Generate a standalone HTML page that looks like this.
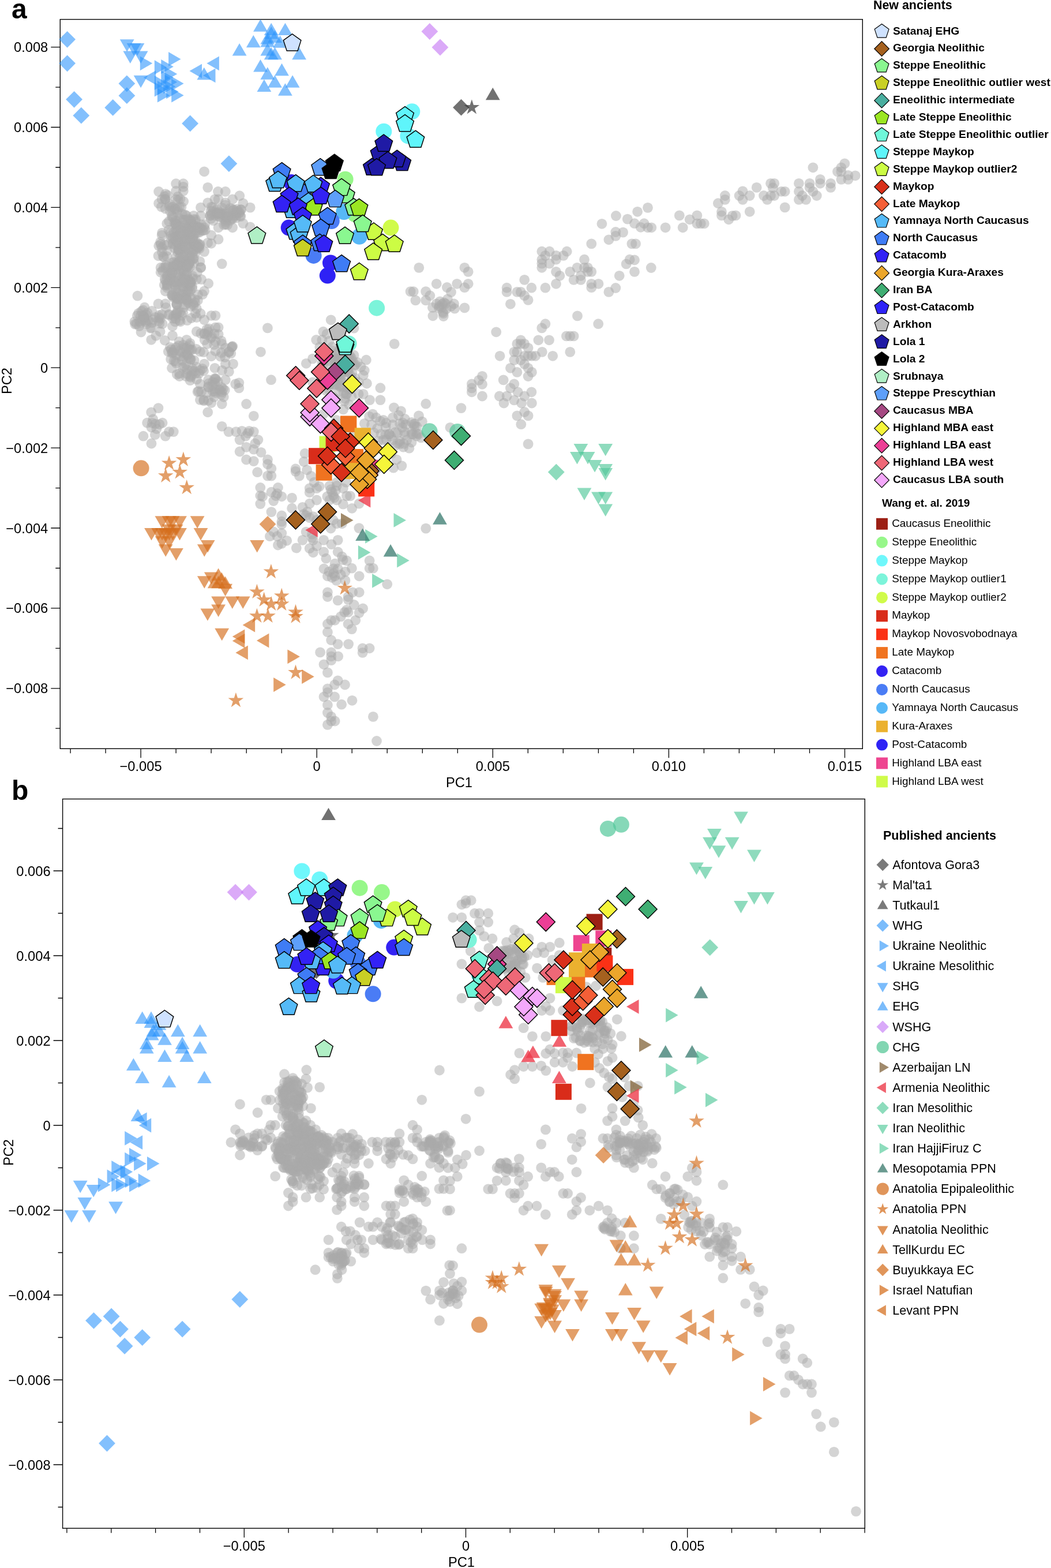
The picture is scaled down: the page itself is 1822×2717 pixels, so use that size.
<!DOCTYPE html>
<html lang="en"><head><meta charset="utf-8"><title>PCA of ancient individuals</title>
<style>html,body{margin:0;padding:0;background:#fff}body{width:1822px;height:2717px;overflow:hidden}svg{display:block}text{font-family:'Liberation Sans', Arial, Helvetica, sans-serif;fill:#000}.tk{font-size:23.7px}</style></head><body>
<svg width="1822" height="2717" viewBox="0 0 1822 2717">
<rect width="1822" height="2717" fill="#fff"/>
<g id="plot-a">
<rect x="104.3" y="33.6" width="1391" height="1263.7" fill="none" stroke="#000" stroke-width="1.4"/>
<path d="M122.1 1297.3v8M183.1 1297.3v8M244.1 1297.3v16M305.1 1297.3v8M366.1 1297.3v8M427.2 1297.3v8M488.2 1297.3v8M549.2 1297.3v16M610.2 1297.3v8M671.2 1297.3v8M732.3 1297.3v8M793.3 1297.3v8M854.3 1297.3v16M915.3 1297.3v8M976.3 1297.3v8M1037.4 1297.3v8M1098.4 1297.3v8M1159.4 1297.3v16M1220.4 1297.3v8M1281.4 1297.3v8M1342.5 1297.3v8M1403.5 1297.3v8M1464.5 1297.3v16M104.3 1262.2h-8M104.3 1192.8h-16M104.3 1123.4h-8M104.3 1053.9h-16M104.3 984.5h-8M104.3 915h-16M104.3 845.6h-8M104.3 776.1h-16M104.3 706.7h-8M104.3 637.2h-16M104.3 567.8h-8M104.3 498.3h-16M104.3 428.9h-8M104.3 359.4h-16M104.3 290h-8M104.3 220.5h-16M104.3 151.1h-8M104.3 81.6h-16" stroke="#000" stroke-width="1.3" fill="none"/>
<text x="244.1" y="1335.8" text-anchor="middle" class="tk">−0.005</text>
<text x="549.2" y="1335.8" text-anchor="middle" class="tk">0</text>
<text x="854.3" y="1335.8" text-anchor="middle" class="tk">0.005</text>
<text x="1159.4" y="1335.8" text-anchor="middle" class="tk">0.010</text>
<text x="1464.5" y="1335.8" text-anchor="middle" class="tk">0.015</text>
<text x="83.3" y="1201.3" text-anchor="end" class="tk">−0.008</text>
<text x="83.3" y="1062.4" text-anchor="end" class="tk">−0.006</text>
<text x="83.3" y="923.5" text-anchor="end" class="tk">−0.004</text>
<text x="83.3" y="784.6" text-anchor="end" class="tk">−0.002</text>
<text x="83.3" y="645.7" text-anchor="end" class="tk">0</text>
<text x="83.3" y="506.8" text-anchor="end" class="tk">0.002</text>
<text x="83.3" y="367.9" text-anchor="end" class="tk">0.004</text>
<text x="83.3" y="229" text-anchor="end" class="tk">0.006</text>
<text x="83.3" y="90.1" text-anchor="end" class="tk">0.008</text>
<text x="796" y="1364" text-anchor="middle" class="tk">PC1</text>
<text transform="translate(20 660) rotate(-90)" text-anchor="middle" class="tk">PC2</text>
<g fill="#a9a9a9" fill-opacity="0.5">
<circle cx="726.3" cy="463.9" r="8.9"/>
<circle cx="756.7" cy="491.8" r="8.9"/>
<circle cx="774.9" cy="498" r="8.9"/>
<circle cx="792.2" cy="491.8" r="8.9"/>
<circle cx="782" cy="506.1" r="8.9"/>
<circle cx="716.7" cy="505.1" r="8.9"/>
<circle cx="711.6" cy="505.1" r="8.9"/>
<circle cx="738.2" cy="505.1" r="8.9"/>
<circle cx="745.3" cy="512.2" r="8.9"/>
<circle cx="738.2" cy="520.4" r="8.9"/>
<circle cx="720.4" cy="520.4" r="8.9"/>
<circle cx="756.5" cy="526.5" r="8.9"/>
<circle cx="762.7" cy="522.4" r="8.9"/>
<circle cx="769.8" cy="524.5" r="8.9"/>
<circle cx="787.1" cy="526.5" r="8.9"/>
<circle cx="765.7" cy="532.7" r="8.9"/>
<circle cx="767.8" cy="540.8" r="8.9"/>
<circle cx="750.4" cy="547.3" r="8.9"/>
<circle cx="768.8" cy="548" r="8.9"/>
<circle cx="788.2" cy="534.7" r="8.9"/>
<circle cx="775.9" cy="518.4" r="8.9"/>
<circle cx="761.6" cy="530.6" r="8.9"/>
<circle cx="782" cy="530.6" r="8.9"/>
<circle cx="683.7" cy="595.9" r="8.9"/>
<circle cx="1105.1" cy="366.8" r="8.9"/>
<circle cx="1123" cy="359.9" r="8.9"/>
<circle cx="1100" cy="387.2" r="8.9"/>
<circle cx="1110.7" cy="393.8" r="8.9"/>
<circle cx="1116.6" cy="387.2" r="8.9"/>
<circle cx="1123" cy="394.3" r="8.9"/>
<circle cx="1129.3" cy="394.3" r="8.9"/>
<circle cx="1102" cy="422.4" r="8.9"/>
<circle cx="1100" cy="450.5" r="8.9"/>
<circle cx="1100" cy="470.9" r="8.9"/>
<circle cx="1128.8" cy="464" r="8.9"/>
<circle cx="1153.6" cy="394.3" r="8.9"/>
<circle cx="1177.8" cy="373.4" r="8.9"/>
<circle cx="1183.7" cy="394.3" r="8.9"/>
<circle cx="1195.7" cy="380.3" r="8.9"/>
<circle cx="1208.4" cy="373.4" r="8.9"/>
<circle cx="1208.4" cy="387.4" r="8.9"/>
<circle cx="1214.8" cy="387.4" r="8.9"/>
<circle cx="1220.7" cy="387.4" r="8.9"/>
<circle cx="1244.9" cy="352.2" r="8.9"/>
<circle cx="1251" cy="366.8" r="8.9"/>
<circle cx="1251" cy="373.4" r="8.9"/>
<circle cx="1256.9" cy="339" r="8.9"/>
<circle cx="1256.9" cy="345.9" r="8.9"/>
<circle cx="1263.3" cy="380.3" r="8.9"/>
<circle cx="1269.6" cy="373.9" r="8.9"/>
<circle cx="1275.5" cy="373.4" r="8.9"/>
<circle cx="1281.6" cy="339" r="8.9"/>
<circle cx="1287.5" cy="331.3" r="8.9"/>
<circle cx="1287.5" cy="345.9" r="8.9"/>
<circle cx="1299.7" cy="339" r="8.9"/>
<circle cx="1299.7" cy="366.8" r="8.9"/>
<circle cx="1311.7" cy="324.9" r="8.9"/>
<circle cx="1324" cy="339" r="8.9"/>
<circle cx="1330.1" cy="345.9" r="8.9"/>
<circle cx="1336" cy="317.8" r="8.9"/>
<circle cx="1336" cy="339" r="8.9"/>
<circle cx="1342.3" cy="317.8" r="8.9"/>
<circle cx="1342.3" cy="339" r="8.9"/>
<circle cx="1339.8" cy="325.5" r="8.9"/>
<circle cx="1354.6" cy="331.8" r="8.9"/>
<circle cx="1360.7" cy="331.8" r="8.9"/>
<circle cx="1360.7" cy="359.4" r="8.9"/>
<circle cx="1384.9" cy="317.8" r="8.9"/>
<circle cx="1384.9" cy="331.8" r="8.9"/>
<circle cx="1384.9" cy="345.9" r="8.9"/>
<circle cx="1390.8" cy="339" r="8.9"/>
<circle cx="1397.2" cy="345.9" r="8.9"/>
<circle cx="1403.6" cy="317.8" r="8.9"/>
<circle cx="1403.6" cy="324.9" r="8.9"/>
<circle cx="1409.4" cy="331.8" r="8.9"/>
<circle cx="1415.8" cy="339" r="8.9"/>
<circle cx="1409.4" cy="290.3" r="8.9"/>
<circle cx="1421.9" cy="310.9" r="8.9"/>
<circle cx="1421.9" cy="317.8" r="8.9"/>
<circle cx="1440.1" cy="317.8" r="8.9"/>
<circle cx="1440.1" cy="324.9" r="8.9"/>
<circle cx="1452" cy="297.4" r="8.9"/>
<circle cx="1458.4" cy="290.3" r="8.9"/>
<circle cx="1458.4" cy="297.4" r="8.9"/>
<circle cx="1458.4" cy="310.9" r="8.9"/>
<circle cx="1464.3" cy="283.4" r="8.9"/>
<circle cx="1470.4" cy="303.8" r="8.9"/>
<circle cx="1470.4" cy="310.9" r="8.9"/>
<circle cx="1482.7" cy="304.3" r="8.9"/>
<circle cx="805.4" cy="463.8" r="8.9"/>
<circle cx="811.7" cy="470.9" r="8.9"/>
<circle cx="811.7" cy="491.8" r="8.9"/>
<circle cx="805.4" cy="498.2" r="8.9"/>
<circle cx="805.4" cy="533.4" r="8.9"/>
<circle cx="1025.3" cy="422.4" r="8.9"/>
<circle cx="1055.4" cy="415.3" r="8.9"/>
<circle cx="1067.3" cy="408.9" r="8.9"/>
<circle cx="1080.1" cy="402.6" r="8.9"/>
<circle cx="1067.3" cy="402" r="8.9"/>
<circle cx="1095.4" cy="422.4" r="8.9"/>
<circle cx="939.3" cy="435.7" r="8.9"/>
<circle cx="952.6" cy="435.7" r="8.9"/>
<circle cx="945.4" cy="442.9" r="8.9"/>
<circle cx="939.3" cy="449.7" r="8.9"/>
<circle cx="939.3" cy="456.6" r="8.9"/>
<circle cx="939.3" cy="463.8" r="8.9"/>
<circle cx="952.6" cy="456.6" r="8.9"/>
<circle cx="964" cy="442.9" r="8.9"/>
<circle cx="964" cy="449.7" r="8.9"/>
<circle cx="976.8" cy="442.9" r="8.9"/>
<circle cx="982.7" cy="435.7" r="8.9"/>
<circle cx="964" cy="470.9" r="8.9"/>
<circle cx="970.4" cy="477.8" r="8.9"/>
<circle cx="964" cy="491.8" r="8.9"/>
<circle cx="945.4" cy="498.7" r="8.9"/>
<circle cx="988.3" cy="470.9" r="8.9"/>
<circle cx="1000.5" cy="463.8" r="8.9"/>
<circle cx="994.6" cy="484.9" r="8.9"/>
<circle cx="1006.9" cy="477.8" r="8.9"/>
<circle cx="1006.9" cy="484.9" r="8.9"/>
<circle cx="1013" cy="449.7" r="8.9"/>
<circle cx="1013" cy="463.8" r="8.9"/>
<circle cx="1018.9" cy="463.8" r="8.9"/>
<circle cx="1018.9" cy="470.9" r="8.9"/>
<circle cx="1025.3" cy="470.9" r="8.9"/>
<circle cx="1025.3" cy="491.8" r="8.9"/>
<circle cx="1025.3" cy="498.2" r="8.9"/>
<circle cx="1037.5" cy="491.8" r="8.9"/>
<circle cx="1055.4" cy="505.9" r="8.9"/>
<circle cx="1067.3" cy="499" r="8.9"/>
<circle cx="1073.7" cy="477.8" r="8.9"/>
<circle cx="1085.7" cy="457.4" r="8.9"/>
<circle cx="1091.6" cy="449.7" r="8.9"/>
<circle cx="909.2" cy="484.9" r="8.9"/>
<circle cx="921.4" cy="498.7" r="8.9"/>
<circle cx="878.6" cy="498.7" r="8.9"/>
<circle cx="878.6" cy="505.9" r="8.9"/>
<circle cx="896.4" cy="505.9" r="8.9"/>
<circle cx="902.8" cy="505.9" r="8.9"/>
<circle cx="909.2" cy="512.2" r="8.9"/>
<circle cx="915.6" cy="519.9" r="8.9"/>
<circle cx="884.9" cy="526.8" r="8.9"/>
<circle cx="1001" cy="547.4" r="8.9"/>
<circle cx="1037.2" cy="561.2" r="8.9"/>
<circle cx="945.4" cy="561.2" r="8.9"/>
<circle cx="939.3" cy="568.4" r="8.9"/>
<circle cx="860.2" cy="575.3" r="8.9"/>
<circle cx="981.9" cy="582.4" r="8.9"/>
<circle cx="988.3" cy="582.4" r="8.9"/>
<circle cx="994.6" cy="582.4" r="8.9"/>
<circle cx="933.4" cy="589.3" r="8.9"/>
<circle cx="952" cy="589.3" r="8.9"/>
<circle cx="988.3" cy="609.9" r="8.9"/>
<circle cx="939.8" cy="609.9" r="8.9"/>
<circle cx="958.2" cy="616.8" r="8.9"/>
<circle cx="902.8" cy="589.3" r="8.9"/>
<circle cx="896.4" cy="595.9" r="8.9"/>
<circle cx="902.8" cy="595.9" r="8.9"/>
<circle cx="909.2" cy="595.9" r="8.9"/>
<circle cx="915.6" cy="602.8" r="8.9"/>
<circle cx="891.3" cy="609.9" r="8.9"/>
<circle cx="896.4" cy="609.9" r="8.9"/>
<circle cx="909.2" cy="616.8" r="8.9"/>
<circle cx="915.6" cy="616.8" r="8.9"/>
<circle cx="921.9" cy="616.8" r="8.9"/>
<circle cx="928.3" cy="616.8" r="8.9"/>
<circle cx="891.3" cy="624" r="8.9"/>
<circle cx="902.8" cy="624" r="8.9"/>
<circle cx="909.2" cy="630.9" r="8.9"/>
<circle cx="884.9" cy="637.8" r="8.9"/>
<circle cx="896.4" cy="644.9" r="8.9"/>
<circle cx="915.6" cy="637.8" r="8.9"/>
<circle cx="921.9" cy="644.9" r="8.9"/>
<circle cx="915.6" cy="652" r="8.9"/>
<circle cx="866.6" cy="616.8" r="8.9"/>
<circle cx="836" cy="651.8" r="8.9"/>
<circle cx="830.1" cy="658.9" r="8.9"/>
<circle cx="817.9" cy="665.3" r="8.9"/>
<circle cx="817.9" cy="672.4" r="8.9"/>
<circle cx="836" cy="665.8" r="8.9"/>
<circle cx="817.9" cy="679.3" r="8.9"/>
<circle cx="836" cy="686.5" r="8.9"/>
<circle cx="738.3" cy="699.7" r="8.9"/>
<circle cx="872.7" cy="658.4" r="8.9"/>
<circle cx="891.3" cy="665.3" r="8.9"/>
<circle cx="884.9" cy="672.4" r="8.9"/>
<circle cx="897.7" cy="679.3" r="8.9"/>
<circle cx="865.8" cy="686.5" r="8.9"/>
<circle cx="878.6" cy="686.5" r="8.9"/>
<circle cx="921.4" cy="679.3" r="8.9"/>
<circle cx="909.2" cy="686.5" r="8.9"/>
<circle cx="891.3" cy="693.4" r="8.9"/>
<circle cx="921.9" cy="698.5" r="8.9"/>
<circle cx="873.5" cy="698.5" r="8.9"/>
<circle cx="904.1" cy="698.5" r="8.9"/>
<circle cx="799.5" cy="707.1" r="8.9"/>
<circle cx="896.4" cy="720.4" r="8.9"/>
<circle cx="915.6" cy="720.4" r="8.9"/>
<circle cx="909.2" cy="714" r="8.9"/>
<circle cx="903.3" cy="735.2" r="8.9"/>
<circle cx="915.6" cy="769.4" r="8.9"/>
<circle cx="726" cy="720.4" r="8.9"/>
<circle cx="780.4" cy="740.8" r="8.9"/>
<circle cx="719.1" cy="734.4" r="8.9"/>
<circle cx="731.9" cy="730.6" r="8.9"/>
<circle cx="738.3" cy="915.6" r="8.9"/>
<circle cx="354.1" cy="297.3" r="8.9"/>
<circle cx="305.1" cy="318.2" r="8.9"/>
<circle cx="317.8" cy="318.2" r="8.9"/>
<circle cx="317.8" cy="323.9" r="8.9"/>
<circle cx="305.1" cy="331" r="8.9"/>
<circle cx="317.8" cy="331" r="8.9"/>
<circle cx="275.1" cy="332" r="8.9"/>
<circle cx="360.2" cy="324.9" r="8.9"/>
<circle cx="378" cy="332" r="8.9"/>
<circle cx="390.8" cy="332" r="8.9"/>
<circle cx="275.1" cy="352.4" r="8.9"/>
<circle cx="280.6" cy="345.3" r="8.9"/>
<circle cx="286.7" cy="345.3" r="8.9"/>
<circle cx="305.1" cy="345.3" r="8.9"/>
<circle cx="299" cy="358.6" r="8.9"/>
<circle cx="311.2" cy="358.6" r="8.9"/>
<circle cx="286.7" cy="361.6" r="8.9"/>
<circle cx="299" cy="373.9" r="8.9"/>
<circle cx="415.3" cy="339.2" r="8.9"/>
<circle cx="403.1" cy="345.3" r="8.9"/>
<circle cx="372.4" cy="345.3" r="8.9"/>
<circle cx="378.6" cy="345.3" r="8.9"/>
<circle cx="360.2" cy="351.4" r="8.9"/>
<circle cx="390.8" cy="351.4" r="8.9"/>
<circle cx="421.4" cy="352.4" r="8.9"/>
<circle cx="433.7" cy="359.6" r="8.9"/>
<circle cx="348" cy="359.6" r="8.9"/>
<circle cx="366.3" cy="358.6" r="8.9"/>
<circle cx="421.4" cy="387.1" r="8.9"/>
<circle cx="433.7" cy="393.3" r="8.9"/>
<circle cx="403.1" cy="394.3" r="8.9"/>
<circle cx="378.6" cy="394.3" r="8.9"/>
<circle cx="416.3" cy="373.9" r="8.9"/>
<circle cx="323.5" cy="373.9" r="8.9"/>
<circle cx="335.7" cy="373.9" r="8.9"/>
<circle cx="348" cy="373.9" r="8.9"/>
<circle cx="317.3" cy="381" r="8.9"/>
<circle cx="329.6" cy="381" r="8.9"/>
<circle cx="354.1" cy="394.3" r="8.9"/>
<circle cx="366.3" cy="407.6" r="8.9"/>
<circle cx="378.6" cy="414.7" r="8.9"/>
<circle cx="360.2" cy="420.8" r="8.9"/>
<circle cx="366.3" cy="421.8" r="8.9"/>
<circle cx="354.1" cy="436.1" r="8.9"/>
<circle cx="384.7" cy="457.1" r="8.9"/>
<circle cx="348" cy="463.7" r="8.9"/>
<circle cx="280.6" cy="407.6" r="8.9"/>
<circle cx="274.5" cy="443.3" r="8.9"/>
<circle cx="280.6" cy="429" r="8.9"/>
<circle cx="278.6" cy="463.7" r="8.9"/>
<circle cx="278.6" cy="471.8" r="8.9"/>
<circle cx="286.7" cy="486.1" r="8.9"/>
<circle cx="286.7" cy="504.5" r="8.9"/>
<circle cx="238.4" cy="512.7" r="8.9"/>
<circle cx="340.8" cy="484.1" r="8.9"/>
<circle cx="349" cy="484.1" r="8.9"/>
<circle cx="361.2" cy="491.2" r="8.9"/>
<circle cx="354.1" cy="504.5" r="8.9"/>
<circle cx="342.9" cy="510.6" r="8.9"/>
<circle cx="405.4" cy="363.3" r="8.9"/>
<circle cx="390.6" cy="370.1" r="8.9"/>
<circle cx="399.2" cy="381.9" r="8.9"/>
<circle cx="409.3" cy="369.5" r="8.9"/>
<circle cx="387.8" cy="379.5" r="8.9"/>
<circle cx="364.7" cy="373.3" r="8.9"/>
<circle cx="415" cy="367.7" r="8.9"/>
<circle cx="375.2" cy="369.1" r="8.9"/>
<circle cx="387.4" cy="371.7" r="8.9"/>
<circle cx="376.1" cy="362.5" r="8.9"/>
<circle cx="375.3" cy="370.4" r="8.9"/>
<circle cx="409.4" cy="373.8" r="8.9"/>
<circle cx="398.7" cy="360.9" r="8.9"/>
<circle cx="369.9" cy="366" r="8.9"/>
<circle cx="403" cy="379.2" r="8.9"/>
<circle cx="414.9" cy="369.1" r="8.9"/>
<circle cx="409" cy="377.7" r="8.9"/>
<circle cx="380" cy="374.9" r="8.9"/>
<circle cx="391.1" cy="374.9" r="8.9"/>
<circle cx="407.2" cy="368.9" r="8.9"/>
<circle cx="372.8" cy="373.5" r="8.9"/>
<circle cx="402" cy="377.9" r="8.9"/>
<circle cx="383.9" cy="369.7" r="8.9"/>
<circle cx="391.3" cy="381.5" r="8.9"/>
<circle cx="392" cy="368.1" r="8.9"/>
<circle cx="390.2" cy="355.5" r="8.9"/>
<circle cx="365.7" cy="378.9" r="8.9"/>
<circle cx="417.4" cy="375.1" r="8.9"/>
<circle cx="385" cy="360.4" r="8.9"/>
<circle cx="390.9" cy="388.6" r="8.9"/>
<circle cx="405.7" cy="373.2" r="8.9"/>
<circle cx="410.7" cy="362.5" r="8.9"/>
<circle cx="302.9" cy="361.3" r="8.9"/>
<circle cx="314.5" cy="358.6" r="8.9"/>
<circle cx="304.3" cy="362.1" r="8.9"/>
<circle cx="296.4" cy="359.9" r="8.9"/>
<circle cx="307.3" cy="368" r="8.9"/>
<circle cx="294.1" cy="354" r="8.9"/>
<circle cx="308.8" cy="346.5" r="8.9"/>
<circle cx="307.9" cy="362.9" r="8.9"/>
<circle cx="345" cy="393.9" r="8.9"/>
<circle cx="338.9" cy="383.5" r="8.9"/>
<circle cx="336.5" cy="390.8" r="8.9"/>
<circle cx="335.6" cy="379.8" r="8.9"/>
<circle cx="330.1" cy="385.6" r="8.9"/>
<circle cx="349.2" cy="389.2" r="8.9"/>
<circle cx="330.6" cy="382.5" r="8.9"/>
<circle cx="331.4" cy="383.7" r="8.9"/>
<circle cx="328.2" cy="397.8" r="8.9"/>
<circle cx="333.6" cy="389.6" r="8.9"/>
<circle cx="326.2" cy="379.3" r="8.9"/>
<circle cx="333" cy="400.4" r="8.9"/>
<circle cx="339.1" cy="380.4" r="8.9"/>
<circle cx="347.1" cy="395.4" r="8.9"/>
<circle cx="341.3" cy="398.1" r="8.9"/>
<circle cx="342.3" cy="395.3" r="8.9"/>
<circle cx="342" cy="393.4" r="8.9"/>
<circle cx="331.2" cy="388.9" r="8.9"/>
<circle cx="350.4" cy="399.5" r="8.9"/>
<circle cx="355.1" cy="389" r="8.9"/>
<circle cx="345.5" cy="402.7" r="8.9"/>
<circle cx="355.7" cy="398.4" r="8.9"/>
<circle cx="352.4" cy="399.6" r="8.9"/>
<circle cx="342.3" cy="395.1" r="8.9"/>
<circle cx="340.6" cy="400.1" r="8.9"/>
<circle cx="347" cy="394.4" r="8.9"/>
<circle cx="302.4" cy="429.8" r="8.9"/>
<circle cx="309.9" cy="433.7" r="8.9"/>
<circle cx="324.5" cy="398.6" r="8.9"/>
<circle cx="303.6" cy="409.6" r="8.9"/>
<circle cx="345.7" cy="425" r="8.9"/>
<circle cx="336.6" cy="425.4" r="8.9"/>
<circle cx="325.3" cy="404.1" r="8.9"/>
<circle cx="325.1" cy="451" r="8.9"/>
<circle cx="318.7" cy="442.7" r="8.9"/>
<circle cx="327.1" cy="398.5" r="8.9"/>
<circle cx="332.1" cy="432.9" r="8.9"/>
<circle cx="338.2" cy="425.2" r="8.9"/>
<circle cx="329.9" cy="451.7" r="8.9"/>
<circle cx="329.6" cy="454.4" r="8.9"/>
<circle cx="311.3" cy="446.6" r="8.9"/>
<circle cx="314.2" cy="455.4" r="8.9"/>
<circle cx="296.5" cy="408.5" r="8.9"/>
<circle cx="343.9" cy="422.8" r="8.9"/>
<circle cx="324.6" cy="413.9" r="8.9"/>
<circle cx="317.8" cy="419.5" r="8.9"/>
<circle cx="308.8" cy="432.5" r="8.9"/>
<circle cx="322.2" cy="453.3" r="8.9"/>
<circle cx="327.7" cy="455" r="8.9"/>
<circle cx="327.1" cy="404.9" r="8.9"/>
<circle cx="340.5" cy="431.5" r="8.9"/>
<circle cx="329.6" cy="408.1" r="8.9"/>
<circle cx="336.3" cy="431.7" r="8.9"/>
<circle cx="305.1" cy="398.4" r="8.9"/>
<circle cx="312.2" cy="404.1" r="8.9"/>
<circle cx="305.6" cy="444.5" r="8.9"/>
<circle cx="323.9" cy="397.2" r="8.9"/>
<circle cx="329.8" cy="415.9" r="8.9"/>
<circle cx="317.7" cy="459.5" r="8.9"/>
<circle cx="306.5" cy="399.3" r="8.9"/>
<circle cx="323" cy="396.3" r="8.9"/>
<circle cx="300.1" cy="420.9" r="8.9"/>
<circle cx="323.7" cy="404.5" r="8.9"/>
<circle cx="306.7" cy="456.9" r="8.9"/>
<circle cx="340" cy="419" r="8.9"/>
<circle cx="315.1" cy="428.2" r="8.9"/>
<circle cx="325.6" cy="433.2" r="8.9"/>
<circle cx="320.7" cy="434.8" r="8.9"/>
<circle cx="342.5" cy="427.4" r="8.9"/>
<circle cx="313.4" cy="441.3" r="8.9"/>
<circle cx="302.4" cy="413.9" r="8.9"/>
<circle cx="344.6" cy="428.3" r="8.9"/>
<circle cx="320.1" cy="395" r="8.9"/>
<circle cx="312.5" cy="432.2" r="8.9"/>
<circle cx="289.9" cy="434.5" r="8.9"/>
<circle cx="324.9" cy="398.2" r="8.9"/>
<circle cx="324.6" cy="424.7" r="8.9"/>
<circle cx="327.6" cy="417.3" r="8.9"/>
<circle cx="329.2" cy="442.5" r="8.9"/>
<circle cx="327.4" cy="457.2" r="8.9"/>
<circle cx="303.1" cy="424.1" r="8.9"/>
<circle cx="322.6" cy="415.2" r="8.9"/>
<circle cx="309.6" cy="414.7" r="8.9"/>
<circle cx="309.9" cy="433.2" r="8.9"/>
<circle cx="305.9" cy="418.9" r="8.9"/>
<circle cx="321.3" cy="442.3" r="8.9"/>
<circle cx="306.5" cy="408.8" r="8.9"/>
<circle cx="334.7" cy="409.9" r="8.9"/>
<circle cx="299.5" cy="422.7" r="8.9"/>
<circle cx="328.7" cy="400.9" r="8.9"/>
<circle cx="307.2" cy="416.1" r="8.9"/>
<circle cx="336.4" cy="422.9" r="8.9"/>
<circle cx="337.7" cy="405.3" r="8.9"/>
<circle cx="308" cy="436.7" r="8.9"/>
<circle cx="339.3" cy="423.7" r="8.9"/>
<circle cx="301.6" cy="402.2" r="8.9"/>
<circle cx="319" cy="406.7" r="8.9"/>
<circle cx="334.9" cy="449" r="8.9"/>
<circle cx="299.3" cy="412.5" r="8.9"/>
<circle cx="334.9" cy="436.2" r="8.9"/>
<circle cx="334.8" cy="416.8" r="8.9"/>
<circle cx="296.2" cy="413.4" r="8.9"/>
<circle cx="334.1" cy="412" r="8.9"/>
<circle cx="308.6" cy="421.5" r="8.9"/>
<circle cx="312.8" cy="421" r="8.9"/>
<circle cx="313.6" cy="456.3" r="8.9"/>
<circle cx="298.8" cy="454.9" r="8.9"/>
<circle cx="306.3" cy="458.7" r="8.9"/>
<circle cx="290.9" cy="476.9" r="8.9"/>
<circle cx="323.7" cy="463.7" r="8.9"/>
<circle cx="312.9" cy="467.7" r="8.9"/>
<circle cx="326.7" cy="506.6" r="8.9"/>
<circle cx="325.3" cy="461.6" r="8.9"/>
<circle cx="302.3" cy="493.4" r="8.9"/>
<circle cx="322.1" cy="510.1" r="8.9"/>
<circle cx="316.2" cy="496.7" r="8.9"/>
<circle cx="311.5" cy="460.4" r="8.9"/>
<circle cx="310" cy="453.9" r="8.9"/>
<circle cx="313.5" cy="469.4" r="8.9"/>
<circle cx="330.4" cy="489.4" r="8.9"/>
<circle cx="311.6" cy="477.8" r="8.9"/>
<circle cx="315.9" cy="479" r="8.9"/>
<circle cx="295.3" cy="469.8" r="8.9"/>
<circle cx="289.9" cy="493.4" r="8.9"/>
<circle cx="300.9" cy="486.6" r="8.9"/>
<circle cx="309.9" cy="472.5" r="8.9"/>
<circle cx="307.1" cy="462.2" r="8.9"/>
<circle cx="317.5" cy="467.6" r="8.9"/>
<circle cx="304.5" cy="502.2" r="8.9"/>
<circle cx="302.8" cy="488.4" r="8.9"/>
<circle cx="323.7" cy="492.6" r="8.9"/>
<circle cx="298.9" cy="471.7" r="8.9"/>
<circle cx="296.1" cy="481.1" r="8.9"/>
<circle cx="289.8" cy="498.6" r="8.9"/>
<circle cx="307" cy="516.7" r="8.9"/>
<circle cx="316.9" cy="507.4" r="8.9"/>
<circle cx="301.5" cy="461.4" r="8.9"/>
<circle cx="308.6" cy="457.4" r="8.9"/>
<circle cx="305.7" cy="518" r="8.9"/>
<circle cx="324.5" cy="474" r="8.9"/>
<circle cx="301.4" cy="454.5" r="8.9"/>
<circle cx="333.8" cy="478.5" r="8.9"/>
<circle cx="319.5" cy="458.3" r="8.9"/>
<circle cx="289.7" cy="483.4" r="8.9"/>
<circle cx="293.5" cy="486.2" r="8.9"/>
<circle cx="324.1" cy="477.4" r="8.9"/>
<circle cx="334.1" cy="482.4" r="8.9"/>
<circle cx="299.1" cy="477.5" r="8.9"/>
<circle cx="289.5" cy="478.3" r="8.9"/>
<circle cx="299.4" cy="512.7" r="8.9"/>
<circle cx="326.8" cy="484" r="8.9"/>
<circle cx="299.1" cy="462.6" r="8.9"/>
<circle cx="298.6" cy="511.2" r="8.9"/>
<circle cx="331.3" cy="488.9" r="8.9"/>
<circle cx="330" cy="495.4" r="8.9"/>
<circle cx="324.9" cy="502.1" r="8.9"/>
<circle cx="311" cy="454.2" r="8.9"/>
<circle cx="297.7" cy="511.5" r="8.9"/>
<circle cx="303.6" cy="495.6" r="8.9"/>
<circle cx="325.3" cy="494.6" r="8.9"/>
<circle cx="326" cy="486.1" r="8.9"/>
<circle cx="318.5" cy="497.7" r="8.9"/>
<circle cx="300.3" cy="515.1" r="8.9"/>
<circle cx="319.1" cy="450.6" r="8.9"/>
<circle cx="333.2" cy="496.4" r="8.9"/>
<circle cx="317.6" cy="489.2" r="8.9"/>
<circle cx="322.8" cy="515.5" r="8.9"/>
<circle cx="325.8" cy="504.9" r="8.9"/>
<circle cx="329" cy="487.8" r="8.9"/>
<circle cx="329" cy="462.2" r="8.9"/>
<circle cx="319.3" cy="471.6" r="8.9"/>
<circle cx="329.6" cy="504.2" r="8.9"/>
<circle cx="309.9" cy="486" r="8.9"/>
<circle cx="315.7" cy="483.3" r="8.9"/>
<circle cx="328.3" cy="492" r="8.9"/>
<circle cx="294.3" cy="474" r="8.9"/>
<circle cx="250.6" cy="532.7" r="8.9"/>
<circle cx="243.9" cy="546.9" r="8.9"/>
<circle cx="237.8" cy="546.9" r="8.9"/>
<circle cx="236.7" cy="561.2" r="8.9"/>
<circle cx="250" cy="550" r="8.9"/>
<circle cx="257.1" cy="555.1" r="8.9"/>
<circle cx="263.3" cy="559.2" r="8.9"/>
<circle cx="269.4" cy="550" r="8.9"/>
<circle cx="280.6" cy="544.9" r="8.9"/>
<circle cx="281.6" cy="561.2" r="8.9"/>
<circle cx="274.5" cy="526.5" r="8.9"/>
<circle cx="286.7" cy="526.5" r="8.9"/>
<circle cx="263.3" cy="538.8" r="8.9"/>
<circle cx="244.5" cy="575.5" r="8.9"/>
<circle cx="262.2" cy="588.8" r="8.9"/>
<circle cx="270.4" cy="581.6" r="8.9"/>
<circle cx="277.6" cy="574.5" r="8.9"/>
<circle cx="285.7" cy="589.8" r="8.9"/>
<circle cx="299" cy="581.6" r="8.9"/>
<circle cx="299" cy="565.3" r="8.9"/>
<circle cx="292.9" cy="545.9" r="8.9"/>
<circle cx="306.1" cy="514.3" r="8.9"/>
<circle cx="318.4" cy="512.2" r="8.9"/>
<circle cx="330.6" cy="516.3" r="8.9"/>
<circle cx="306.1" cy="526.5" r="8.9"/>
<circle cx="318.4" cy="532.7" r="8.9"/>
<circle cx="330.6" cy="530.6" r="8.9"/>
<circle cx="342.9" cy="520.4" r="8.9"/>
<circle cx="340.8" cy="534.7" r="8.9"/>
<circle cx="306.1" cy="544.9" r="8.9"/>
<circle cx="311.2" cy="555.1" r="8.9"/>
<circle cx="324.5" cy="555.1" r="8.9"/>
<circle cx="340.8" cy="550" r="8.9"/>
<circle cx="354.1" cy="554.1" r="8.9"/>
<circle cx="366.3" cy="546.9" r="8.9"/>
<circle cx="373.5" cy="546.9" r="8.9"/>
<circle cx="351" cy="510.2" r="8.9"/>
<circle cx="340.8" cy="574.5" r="8.9"/>
<circle cx="354.1" cy="578.6" r="8.9"/>
<circle cx="361.2" cy="575.5" r="8.9"/>
<circle cx="373.5" cy="567.3" r="8.9"/>
<circle cx="378.6" cy="567.3" r="8.9"/>
<circle cx="367.3" cy="583.7" r="8.9"/>
<circle cx="359.2" cy="595.9" r="8.9"/>
<circle cx="384.7" cy="595.9" r="8.9"/>
<circle cx="323.5" cy="588.8" r="8.9"/>
<circle cx="329.6" cy="594.9" r="8.9"/>
<circle cx="305.1" cy="602" r="8.9"/>
<circle cx="291.8" cy="609.2" r="8.9"/>
<circle cx="299" cy="610.2" r="8.9"/>
<circle cx="311.2" cy="608.2" r="8.9"/>
<circle cx="324.5" cy="602" r="8.9"/>
<circle cx="330.6" cy="606.1" r="8.9"/>
<circle cx="346.9" cy="609.2" r="8.9"/>
<circle cx="353.1" cy="610.2" r="8.9"/>
<circle cx="366.3" cy="617.3" r="8.9"/>
<circle cx="373.5" cy="608.2" r="8.9"/>
<circle cx="390.8" cy="603.1" r="8.9"/>
<circle cx="396.9" cy="610.2" r="8.9"/>
<circle cx="383.7" cy="611.2" r="8.9"/>
<circle cx="304.1" cy="626.5" r="8.9"/>
<circle cx="318.4" cy="618.4" r="8.9"/>
<circle cx="330.6" cy="622.4" r="8.9"/>
<circle cx="336.7" cy="624.5" r="8.9"/>
<circle cx="354.1" cy="630.6" r="8.9"/>
<circle cx="298" cy="637.8" r="8.9"/>
<circle cx="316.3" cy="636.7" r="8.9"/>
<circle cx="390.8" cy="630.6" r="8.9"/>
<circle cx="404.1" cy="630.6" r="8.9"/>
<circle cx="372.4" cy="637.8" r="8.9"/>
<circle cx="396.9" cy="643.9" r="8.9"/>
<circle cx="311.2" cy="652" r="8.9"/>
<circle cx="322.4" cy="652" r="8.9"/>
<circle cx="336.7" cy="642.9" r="8.9"/>
<circle cx="344.9" cy="646.9" r="8.9"/>
<circle cx="329.6" cy="659.2" r="8.9"/>
<circle cx="351" cy="638.8" r="8.9"/>
<circle cx="361.2" cy="658.2" r="8.9"/>
<circle cx="373.5" cy="657.1" r="8.9"/>
<circle cx="390.8" cy="658.2" r="8.9"/>
<circle cx="372.4" cy="663.3" r="8.9"/>
<circle cx="346.9" cy="665.3" r="8.9"/>
<circle cx="408.2" cy="665.3" r="8.9"/>
<circle cx="414.3" cy="663.3" r="8.9"/>
<circle cx="414.3" cy="672.4" r="8.9"/>
<circle cx="349" cy="678.6" r="8.9"/>
<circle cx="372.4" cy="678.6" r="8.9"/>
<circle cx="384.7" cy="679.6" r="8.9"/>
<circle cx="387.8" cy="687.8" r="8.9"/>
<circle cx="346.9" cy="692.9" r="8.9"/>
<circle cx="353.1" cy="692.9" r="8.9"/>
<circle cx="366.3" cy="698" r="8.9"/>
<circle cx="384.7" cy="700" r="8.9"/>
<circle cx="360.2" cy="714.3" r="8.9"/>
<circle cx="427.1" cy="700" r="8.9"/>
<circle cx="439.8" cy="720.8" r="8.9"/>
<circle cx="463.9" cy="568.4" r="8.9"/>
<circle cx="452" cy="609.8" r="8.9"/>
<circle cx="470" cy="658.2" r="8.9"/>
<circle cx="274.5" cy="707.1" r="8.9"/>
<circle cx="262.2" cy="714.3" r="8.9"/>
<circle cx="265.3" cy="726.5" r="8.9"/>
<circle cx="255.1" cy="732.7" r="8.9"/>
<circle cx="269.4" cy="734.7" r="8.9"/>
<circle cx="281.6" cy="732.7" r="8.9"/>
<circle cx="384.7" cy="738.8" r="8.9"/>
<circle cx="310.2" cy="518.4" r="8.9"/>
<circle cx="326.5" cy="524.5" r="8.9"/>
<circle cx="312.2" cy="540.8" r="8.9"/>
<circle cx="359.2" cy="579.6" r="8.9"/>
<circle cx="324.5" cy="614.3" r="8.9"/>
<circle cx="338.8" cy="646.9" r="8.9"/>
<circle cx="377.6" cy="661.2" r="8.9"/>
<circle cx="383.7" cy="683.7" r="8.9"/>
<circle cx="251" cy="555.1" r="8.9"/>
<circle cx="322.4" cy="518.4" r="8.9"/>
<circle cx="334.7" cy="526.5" r="8.9"/>
<circle cx="322.4" cy="630.6" r="8.9"/>
<circle cx="262.5" cy="740.4" r="8.9"/>
<circle cx="276.5" cy="735.3" r="8.9"/>
<circle cx="248.5" cy="755.7" r="8.9"/>
<circle cx="262.5" cy="768.5" r="8.9"/>
<circle cx="268.9" cy="753.2" r="8.9"/>
<circle cx="286.7" cy="755.7" r="8.9"/>
<circle cx="293.1" cy="748.1" r="8.9"/>
<circle cx="300.8" cy="748.1" r="8.9"/>
<circle cx="271.4" cy="743" r="8.9"/>
<circle cx="263.8" cy="732.8" r="8.9"/>
<circle cx="396.4" cy="748.1" r="8.9"/>
<circle cx="409.2" cy="748.1" r="8.9"/>
<circle cx="419.4" cy="746.8" r="8.9"/>
<circle cx="432.1" cy="746.8" r="8.9"/>
<circle cx="439.8" cy="748.1" r="8.9"/>
<circle cx="415.6" cy="762.1" r="8.9"/>
<circle cx="425.8" cy="755.7" r="8.9"/>
<circle cx="442.3" cy="768.5" r="8.9"/>
<circle cx="447.4" cy="762.1" r="8.9"/>
<circle cx="415.6" cy="782.5" r="8.9"/>
<circle cx="427" cy="796.5" r="8.9"/>
<circle cx="439.8" cy="778.7" r="8.9"/>
<circle cx="452.6" cy="783.8" r="8.9"/>
<circle cx="439.8" cy="799.1" r="8.9"/>
<circle cx="464" cy="796.5" r="8.9"/>
<circle cx="464" cy="804.2" r="8.9"/>
<circle cx="470.4" cy="811.8" r="8.9"/>
<circle cx="446.2" cy="818.2" r="8.9"/>
<circle cx="464" cy="824.6" r="8.9"/>
<circle cx="470.4" cy="824.6" r="8.9"/>
<circle cx="427" cy="774.8" r="8.9"/>
<circle cx="429.6" cy="750.6" r="8.9"/>
<circle cx="451.3" cy="845" r="8.9"/>
<circle cx="451.3" cy="859" r="8.9"/>
<circle cx="451.3" cy="873.1" r="8.9"/>
<circle cx="470.4" cy="852.7" r="8.9"/>
<circle cx="481.9" cy="845" r="8.9"/>
<circle cx="478.1" cy="859" r="8.9"/>
<circle cx="488.3" cy="860.3" r="8.9"/>
<circle cx="474.2" cy="868" r="8.9"/>
<circle cx="455.1" cy="860.3" r="8.9"/>
<circle cx="480.6" cy="855.2" r="8.9"/>
<circle cx="470.4" cy="887.1" r="8.9"/>
<circle cx="488.3" cy="893.5" r="8.9"/>
<circle cx="506.1" cy="880.7" r="8.9"/>
<circle cx="488.3" cy="908.8" r="8.9"/>
<circle cx="474.2" cy="921.5" r="8.9"/>
<circle cx="467.9" cy="929.2" r="8.9"/>
<circle cx="480.6" cy="929.2" r="8.9"/>
<circle cx="488.3" cy="924.1" r="8.9"/>
<circle cx="497.2" cy="936.8" r="8.9"/>
<circle cx="488.3" cy="941.9" r="8.9"/>
<circle cx="481.9" cy="944.5" r="8.9"/>
<circle cx="513.8" cy="949.6" r="8.9"/>
<circle cx="512.5" cy="816.9" r="8.9"/>
<circle cx="518.9" cy="824.6" r="8.9"/>
<circle cx="488.3" cy="903.7" r="8.9"/>
<circle cx="506.1" cy="862.9" r="8.9"/>
<circle cx="565.3" cy="967.7" r="8.9"/>
<circle cx="594.6" cy="970.2" r="8.9"/>
<circle cx="601" cy="971.5" r="8.9"/>
<circle cx="580.6" cy="976.6" r="8.9"/>
<circle cx="561.5" cy="985.5" r="8.9"/>
<circle cx="578.1" cy="985.5" r="8.9"/>
<circle cx="609.9" cy="984.7" r="8.9"/>
<circle cx="640.6" cy="971.5" r="8.9"/>
<circle cx="640.6" cy="984.7" r="8.9"/>
<circle cx="646.9" cy="984.7" r="8.9"/>
<circle cx="622.7" cy="998.3" r="8.9"/>
<circle cx="567.9" cy="998.3" r="8.9"/>
<circle cx="575.5" cy="1000.8" r="8.9"/>
<circle cx="583.2" cy="1005.9" r="8.9"/>
<circle cx="598.5" cy="990.6" r="8.9"/>
<circle cx="598.5" cy="1005.9" r="8.9"/>
<circle cx="671.2" cy="1012.3" r="8.9"/>
<circle cx="567.9" cy="1026.3" r="8.9"/>
<circle cx="567.9" cy="1034" r="8.9"/>
<circle cx="585.7" cy="1040.4" r="8.9"/>
<circle cx="603.6" cy="1034" r="8.9"/>
<circle cx="611.2" cy="1026.3" r="8.9"/>
<circle cx="622.7" cy="1026.3" r="8.9"/>
<circle cx="613.8" cy="1048" r="8.9"/>
<circle cx="629.1" cy="1054.4" r="8.9"/>
<circle cx="622.7" cy="1062" r="8.9"/>
<circle cx="597.2" cy="1060.8" r="8.9"/>
<circle cx="603.6" cy="1060.8" r="8.9"/>
<circle cx="590.8" cy="1068.4" r="8.9"/>
<circle cx="616.3" cy="1074.8" r="8.9"/>
<circle cx="603.6" cy="1081.2" r="8.9"/>
<circle cx="609.9" cy="1090.1" r="8.9"/>
<circle cx="574.2" cy="1074.8" r="8.9"/>
<circle cx="580.6" cy="1074.8" r="8.9"/>
<circle cx="567.9" cy="1081.2" r="8.9"/>
<circle cx="567.9" cy="1095.2" r="8.9"/>
<circle cx="574.2" cy="1109.2" r="8.9"/>
<circle cx="585.7" cy="1116.1" r="8.9"/>
<circle cx="604.1" cy="1116.1" r="8.9"/>
<circle cx="628.6" cy="1123.3" r="8.9"/>
<circle cx="640.6" cy="1123.3" r="8.9"/>
<circle cx="628.6" cy="1130.9" r="8.9"/>
<circle cx="555.1" cy="1130.4" r="8.9"/>
<circle cx="574.2" cy="1130.4" r="8.9"/>
<circle cx="574.2" cy="1137.3" r="8.9"/>
<circle cx="574.2" cy="1144.2" r="8.9"/>
<circle cx="586.2" cy="1137.3" r="8.9"/>
<circle cx="561.5" cy="1151.3" r="8.9"/>
<circle cx="567.9" cy="1165.4" r="8.9"/>
<circle cx="585.7" cy="1179.4" r="8.9"/>
<circle cx="580.1" cy="1186.5" r="8.9"/>
<circle cx="598" cy="1186.5" r="8.9"/>
<circle cx="567.9" cy="1193.4" r="8.9"/>
<circle cx="567.9" cy="1199.8" r="8.9"/>
<circle cx="561.5" cy="1207.4" r="8.9"/>
<circle cx="580.1" cy="1207.4" r="8.9"/>
<circle cx="567.9" cy="1221.5" r="8.9"/>
<circle cx="592.1" cy="1220.7" r="8.9"/>
<circle cx="610.5" cy="1213.8" r="8.9"/>
<circle cx="567.9" cy="1235" r="8.9"/>
<circle cx="574.2" cy="1241.9" r="8.9"/>
<circle cx="574.2" cy="1249.5" r="8.9"/>
<circle cx="580.6" cy="1249.5" r="8.9"/>
<circle cx="567.9" cy="1255.9" r="8.9"/>
<circle cx="646.9" cy="1241.9" r="8.9"/>
<circle cx="578.1" cy="993.2" r="8.9"/>
<circle cx="580.6" cy="998.3" r="8.9"/>
<circle cx="585.7" cy="985.5" r="8.9"/>
<circle cx="590.8" cy="995.7" r="8.9"/>
<circle cx="570.4" cy="990.6" r="8.9"/>
<circle cx="603.6" cy="1039.1" r="8.9"/>
<circle cx="601" cy="1056.9" r="8.9"/>
<circle cx="536.7" cy="846.1" r="8.9"/>
<circle cx="536.7" cy="853.3" r="8.9"/>
<circle cx="549" cy="846.1" r="8.9"/>
<circle cx="571.4" cy="842" r="8.9"/>
<circle cx="583.7" cy="842" r="8.9"/>
<circle cx="594.9" cy="846.1" r="8.9"/>
<circle cx="601" cy="859.4" r="8.9"/>
<circle cx="607.1" cy="859.4" r="8.9"/>
<circle cx="549" cy="866.5" r="8.9"/>
<circle cx="536.7" cy="872.7" r="8.9"/>
<circle cx="524.5" cy="878.8" r="8.9"/>
<circle cx="567.3" cy="860.4" r="8.9"/>
<circle cx="577.6" cy="858.4" r="8.9"/>
<circle cx="583.7" cy="866.5" r="8.9"/>
<circle cx="571.4" cy="866.5" r="8.9"/>
<circle cx="594.9" cy="873.7" r="8.9"/>
<circle cx="610.2" cy="880.8" r="8.9"/>
<circle cx="622.4" cy="872.7" r="8.9"/>
<circle cx="532.7" cy="886.9" r="8.9"/>
<circle cx="526.5" cy="891" r="8.9"/>
<circle cx="542.9" cy="895.1" r="8.9"/>
<circle cx="549" cy="901.2" r="8.9"/>
<circle cx="577.6" cy="901.2" r="8.9"/>
<circle cx="583.7" cy="907.3" r="8.9"/>
<circle cx="592.9" cy="907.3" r="8.9"/>
<circle cx="622.4" cy="915.1" r="8.9"/>
<circle cx="573.5" cy="915.5" r="8.9"/>
<circle cx="530.6" cy="921.6" r="8.9"/>
<circle cx="540.8" cy="925.7" r="8.9"/>
<circle cx="524.5" cy="935.9" r="8.9"/>
<circle cx="542.9" cy="935.9" r="8.9"/>
<circle cx="561.2" cy="935.9" r="8.9"/>
<circle cx="585.7" cy="935.9" r="8.9"/>
<circle cx="574.5" cy="943.1" r="8.9"/>
<circle cx="536.7" cy="950.2" r="8.9"/>
<circle cx="561.2" cy="956.3" r="8.9"/>
<circle cx="585.7" cy="956.3" r="8.9"/>
<circle cx="542.9" cy="957.3" r="8.9"/>
<circle cx="592.9" cy="964.5" r="8.9"/>
<circle cx="575.5" cy="852.2" r="8.9"/>
<circle cx="579.6" cy="862.4" r="8.9"/>
<circle cx="573.5" cy="848.2" r="8.9"/>
<circle cx="581.6" cy="850.2" r="8.9"/>
<circle cx="530.6" cy="893.1" r="8.9"/>
<circle cx="536.7" cy="897.1" r="8.9"/>
<circle cx="540.8" cy="931.8" r="8.9"/>
<circle cx="549" cy="946.1" r="8.9"/>
<circle cx="573.7" cy="554.3" r="8.9"/>
<circle cx="659.4" cy="672.2" r="8.9"/>
<circle cx="659.4" cy="693.1" r="8.9"/>
<circle cx="641" cy="693.1" r="8.9"/>
<circle cx="634.9" cy="623.7" r="8.9"/>
<circle cx="560.4" cy="574.7" r="8.9"/>
<circle cx="566.5" cy="578.8" r="8.9"/>
<circle cx="548.2" cy="589" r="8.9"/>
<circle cx="558.4" cy="589" r="8.9"/>
<circle cx="570.6" cy="591" r="8.9"/>
<circle cx="554.3" cy="601.2" r="8.9"/>
<circle cx="562.4" cy="607.3" r="8.9"/>
<circle cx="542" cy="621.6" r="8.9"/>
<circle cx="530.8" cy="629.8" r="8.9"/>
<circle cx="613.5" cy="568.6" r="8.9"/>
<circle cx="613.5" cy="615.5" r="8.9"/>
<circle cx="619.6" cy="627.8" r="8.9"/>
<circle cx="625.7" cy="635.9" r="8.9"/>
<circle cx="631.8" cy="642" r="8.9"/>
<circle cx="629.8" cy="650.2" r="8.9"/>
<circle cx="635.9" cy="664.5" r="8.9"/>
<circle cx="621.6" cy="662.4" r="8.9"/>
<circle cx="582.9" cy="621.6" r="8.9"/>
<circle cx="582.9" cy="642" r="8.9"/>
<circle cx="572.7" cy="629.8" r="8.9"/>
<circle cx="591" cy="654.3" r="8.9"/>
<circle cx="582.9" cy="666.5" r="8.9"/>
<circle cx="586.9" cy="678.8" r="8.9"/>
<circle cx="601.2" cy="682.9" r="8.9"/>
<circle cx="609.4" cy="686.9" r="8.9"/>
<circle cx="621.6" cy="682.9" r="8.9"/>
<circle cx="629.8" cy="682.9" r="8.9"/>
<circle cx="597.1" cy="695.1" r="8.9"/>
<circle cx="605.3" cy="701.2" r="8.9"/>
<circle cx="595.1" cy="709.4" r="8.9"/>
<circle cx="542" cy="662.4" r="8.9"/>
<circle cx="570.6" cy="666.5" r="8.9"/>
<circle cx="566.4" cy="664.7" r="8.9"/>
<circle cx="595.2" cy="644.1" r="8.9"/>
<circle cx="569.6" cy="674.8" r="8.9"/>
<circle cx="605.8" cy="647.3" r="8.9"/>
<circle cx="587.3" cy="620.3" r="8.9"/>
<circle cx="592.2" cy="603.9" r="8.9"/>
<circle cx="604.9" cy="619.9" r="8.9"/>
<circle cx="609.9" cy="657.5" r="8.9"/>
<circle cx="558.4" cy="629.4" r="8.9"/>
<circle cx="586.8" cy="608.5" r="8.9"/>
<circle cx="614.6" cy="633.2" r="8.9"/>
<circle cx="565.8" cy="677.2" r="8.9"/>
<circle cx="584.1" cy="651.2" r="8.9"/>
<circle cx="577.3" cy="644.6" r="8.9"/>
<circle cx="609.3" cy="620.2" r="8.9"/>
<circle cx="604.1" cy="617.6" r="8.9"/>
<circle cx="602.5" cy="671.9" r="8.9"/>
<circle cx="591.9" cy="668.6" r="8.9"/>
<circle cx="563.8" cy="643.8" r="8.9"/>
<circle cx="607" cy="616.8" r="8.9"/>
<circle cx="581.4" cy="632.9" r="8.9"/>
<circle cx="584" cy="634.9" r="8.9"/>
<circle cx="586.7" cy="645.3" r="8.9"/>
<circle cx="590" cy="670.4" r="8.9"/>
<circle cx="569.9" cy="656.8" r="8.9"/>
<circle cx="590.4" cy="658.1" r="8.9"/>
<circle cx="567.4" cy="613.8" r="8.9"/>
<circle cx="577.6" cy="688" r="8.9"/>
<circle cx="577.5" cy="655.6" r="8.9"/>
<circle cx="575.1" cy="607.3" r="8.9"/>
<circle cx="603.9" cy="633.9" r="8.9"/>
<circle cx="598.2" cy="663.4" r="8.9"/>
<circle cx="581.2" cy="694" r="8.9"/>
<circle cx="615.2" cy="655" r="8.9"/>
<circle cx="610.4" cy="645.2" r="8.9"/>
<circle cx="579.3" cy="621.4" r="8.9"/>
<circle cx="603.7" cy="644.5" r="8.9"/>
<circle cx="572.1" cy="625.5" r="8.9"/>
<circle cx="582" cy="613.9" r="8.9"/>
<circle cx="560.6" cy="630.3" r="8.9"/>
<circle cx="602" cy="644.1" r="8.9"/>
<circle cx="588.5" cy="668.5" r="8.9"/>
<circle cx="607.6" cy="675" r="8.9"/>
<circle cx="610.3" cy="656.1" r="8.9"/>
<circle cx="582.4" cy="654.1" r="8.9"/>
<circle cx="608.3" cy="627.3" r="8.9"/>
<circle cx="589" cy="624.2" r="8.9"/>
<circle cx="598.3" cy="690.6" r="8.9"/>
<circle cx="557.8" cy="655.3" r="8.9"/>
<circle cx="595.7" cy="680.6" r="8.9"/>
<circle cx="592.1" cy="622.3" r="8.9"/>
<circle cx="581.2" cy="691.1" r="8.9"/>
<circle cx="557.9" cy="640.9" r="8.9"/>
<circle cx="596.4" cy="609.5" r="8.9"/>
<circle cx="589.3" cy="628.9" r="8.9"/>
<circle cx="586.6" cy="618.7" r="8.9"/>
<circle cx="566.5" cy="615.2" r="8.9"/>
<circle cx="579.5" cy="666.7" r="8.9"/>
<circle cx="590" cy="601.7" r="8.9"/>
<circle cx="599.8" cy="682.7" r="8.9"/>
<circle cx="603.7" cy="674.6" r="8.9"/>
<circle cx="556.8" cy="642.6" r="8.9"/>
<circle cx="567.1" cy="666.8" r="8.9"/>
<circle cx="571.8" cy="665.4" r="8.9"/>
<circle cx="575.5" cy="601.2" r="8.9"/>
<circle cx="580.1" cy="627.5" r="8.9"/>
<circle cx="611.5" cy="626" r="8.9"/>
<circle cx="587.1" cy="651" r="8.9"/>
<circle cx="593.1" cy="646.9" r="8.9"/>
<circle cx="575.3" cy="665.7" r="8.9"/>
<circle cx="588.5" cy="652.1" r="8.9"/>
<circle cx="616.1" cy="631.9" r="8.9"/>
<circle cx="602.9" cy="641" r="8.9"/>
<circle cx="594.4" cy="599.1" r="8.9"/>
<circle cx="595.8" cy="640.5" r="8.9"/>
<circle cx="682.9" cy="706.3" r="8.9"/>
<circle cx="695.1" cy="712.4" r="8.9"/>
<circle cx="646.1" cy="717.6" r="8.9"/>
<circle cx="640" cy="721.6" r="8.9"/>
<circle cx="652.2" cy="723.7" r="8.9"/>
<circle cx="664.5" cy="727.8" r="8.9"/>
<circle cx="680.8" cy="723.7" r="8.9"/>
<circle cx="691" cy="719.6" r="8.9"/>
<circle cx="631.8" cy="733.9" r="8.9"/>
<circle cx="644.1" cy="735.9" r="8.9"/>
<circle cx="654.3" cy="742" r="8.9"/>
<circle cx="668.6" cy="740" r="8.9"/>
<circle cx="680.8" cy="735.9" r="8.9"/>
<circle cx="693.1" cy="733.9" r="8.9"/>
<circle cx="703.3" cy="735.9" r="8.9"/>
<circle cx="713.5" cy="731.8" r="8.9"/>
<circle cx="660.4" cy="752.2" r="8.9"/>
<circle cx="674.7" cy="752.2" r="8.9"/>
<circle cx="689" cy="750.2" r="8.9"/>
<circle cx="701.2" cy="748.2" r="8.9"/>
<circle cx="713.5" cy="748.2" r="8.9"/>
<circle cx="725.7" cy="752.2" r="8.9"/>
<circle cx="729.8" cy="758.4" r="8.9"/>
<circle cx="664.5" cy="762.4" r="8.9"/>
<circle cx="680.8" cy="762.4" r="8.9"/>
<circle cx="693.1" cy="764.5" r="8.9"/>
<circle cx="705.3" cy="762.4" r="8.9"/>
<circle cx="713.5" cy="766.5" r="8.9"/>
<circle cx="684.9" cy="772.7" r="8.9"/>
<circle cx="699.2" cy="774.7" r="8.9"/>
<circle cx="709.4" cy="776.7" r="8.9"/>
<circle cx="609.4" cy="754.3" r="8.9"/>
<circle cx="582.9" cy="727.8" r="8.9"/>
<circle cx="560.4" cy="717.6" r="8.9"/>
<circle cx="659.1" cy="729.6" r="8.9"/>
<circle cx="697.3" cy="740.6" r="8.9"/>
<circle cx="716.7" cy="735" r="8.9"/>
<circle cx="722.4" cy="739.3" r="8.9"/>
<circle cx="693.2" cy="769.3" r="8.9"/>
<circle cx="700" cy="768.9" r="8.9"/>
<circle cx="701.9" cy="726" r="8.9"/>
<circle cx="716" cy="752.5" r="8.9"/>
<circle cx="669.4" cy="733" r="8.9"/>
<circle cx="713.5" cy="752.2" r="8.9"/>
<circle cx="722.5" cy="751.4" r="8.9"/>
<circle cx="701.1" cy="753.7" r="8.9"/>
<circle cx="669.6" cy="761.9" r="8.9"/>
<circle cx="722" cy="755.6" r="8.9"/>
<circle cx="655.7" cy="764.1" r="8.9"/>
<circle cx="698.6" cy="732.7" r="8.9"/>
<circle cx="648.1" cy="749.7" r="8.9"/>
<circle cx="685.4" cy="749" r="8.9"/>
<circle cx="677.5" cy="756" r="8.9"/>
<circle cx="718.9" cy="738.7" r="8.9"/>
<circle cx="674.6" cy="752.2" r="8.9"/>
<circle cx="668.4" cy="752.8" r="8.9"/>
<circle cx="528.6" cy="785.7" r="8.9"/>
<circle cx="526.8" cy="800" r="8.9"/>
<circle cx="512.5" cy="812.5" r="8.9"/>
<circle cx="532.1" cy="814.3" r="8.9"/>
<circle cx="539.3" cy="825" r="8.9"/>
<circle cx="544.6" cy="835.7" r="8.9"/>
<circle cx="553.6" cy="842.9" r="8.9"/>
<circle cx="583.9" cy="835.7" r="8.9"/>
<circle cx="600" cy="835.7" r="8.9"/>
<circle cx="678.6" cy="785.7" r="8.9"/>
<circle cx="687.5" cy="796.4" r="8.9"/>
<circle cx="696.4" cy="807.1" r="8.9"/>
<circle cx="682.1" cy="810.7" r="8.9"/>
<circle cx="651.8" cy="814.3" r="8.9"/>
<circle cx="689.3" cy="767.9" r="8.9"/>
<circle cx="653" cy="1284" r="8.9"/>
<circle cx="311.6" cy="451.9" r="8.9"/>
<circle cx="335.6" cy="416.1" r="8.9"/>
<circle cx="298.5" cy="472.6" r="8.9"/>
<circle cx="311" cy="422" r="8.9"/>
<circle cx="304.9" cy="417.5" r="8.9"/>
<circle cx="286.8" cy="463.3" r="8.9"/>
<circle cx="341.9" cy="472" r="8.9"/>
<circle cx="322.3" cy="418.6" r="8.9"/>
<circle cx="307" cy="389.3" r="8.9"/>
<circle cx="329.4" cy="412.4" r="8.9"/>
<circle cx="321" cy="482.9" r="8.9"/>
<circle cx="321.8" cy="394.5" r="8.9"/>
<circle cx="328.2" cy="406.7" r="8.9"/>
<circle cx="305" cy="387.2" r="8.9"/>
<circle cx="278.5" cy="423.2" r="8.9"/>
<circle cx="275.2" cy="425.9" r="8.9"/>
<circle cx="306.2" cy="383.8" r="8.9"/>
<circle cx="300.4" cy="377.1" r="8.9"/>
<circle cx="290.6" cy="461.7" r="8.9"/>
<circle cx="320.9" cy="372.2" r="8.9"/>
<circle cx="311.1" cy="431.5" r="8.9"/>
<circle cx="304.3" cy="387.9" r="8.9"/>
<circle cx="304" cy="382.9" r="8.9"/>
<circle cx="326.2" cy="466" r="8.9"/>
<circle cx="321.8" cy="429.3" r="8.9"/>
<circle cx="346.7" cy="423.4" r="8.9"/>
<circle cx="289.6" cy="424.1" r="8.9"/>
<circle cx="338.8" cy="438.1" r="8.9"/>
<circle cx="308.3" cy="499.7" r="8.9"/>
<circle cx="328" cy="489.9" r="8.9"/>
<circle cx="287.6" cy="459.7" r="8.9"/>
<circle cx="330.1" cy="403.6" r="8.9"/>
<circle cx="289.8" cy="495.1" r="8.9"/>
<circle cx="317.2" cy="429.6" r="8.9"/>
<circle cx="311" cy="406.5" r="8.9"/>
<circle cx="292.9" cy="383.6" r="8.9"/>
<circle cx="304.6" cy="389.7" r="8.9"/>
<circle cx="319" cy="381.1" r="8.9"/>
<circle cx="319.5" cy="391" r="8.9"/>
<circle cx="302.3" cy="386.8" r="8.9"/>
<circle cx="311.9" cy="378.8" r="8.9"/>
<circle cx="295.3" cy="402.9" r="8.9"/>
<circle cx="309.5" cy="508.6" r="8.9"/>
<circle cx="318" cy="486.2" r="8.9"/>
<circle cx="329.2" cy="448" r="8.9"/>
<circle cx="284.3" cy="445.8" r="8.9"/>
<circle cx="299.9" cy="508.7" r="8.9"/>
<circle cx="289.3" cy="387.4" r="8.9"/>
<circle cx="322.8" cy="459.5" r="8.9"/>
<circle cx="278.1" cy="419.6" r="8.9"/>
<circle cx="307.8" cy="492.3" r="8.9"/>
<circle cx="333.2" cy="500" r="8.9"/>
<circle cx="314.8" cy="509.8" r="8.9"/>
<circle cx="309.8" cy="411.3" r="8.9"/>
<circle cx="284.7" cy="493.7" r="8.9"/>
<circle cx="323.5" cy="461" r="8.9"/>
<circle cx="348.3" cy="463.4" r="8.9"/>
<circle cx="297.6" cy="472.9" r="8.9"/>
<circle cx="345.7" cy="430.6" r="8.9"/>
<circle cx="282.7" cy="444.5" r="8.9"/>
<circle cx="333.4" cy="442" r="8.9"/>
<circle cx="294.5" cy="483.9" r="8.9"/>
<circle cx="281.8" cy="469.3" r="8.9"/>
<circle cx="301.6" cy="460.4" r="8.9"/>
<circle cx="312.6" cy="409.9" r="8.9"/>
<circle cx="289.7" cy="491.9" r="8.9"/>
<circle cx="308.8" cy="410.5" r="8.9"/>
<circle cx="319.1" cy="484" r="8.9"/>
<circle cx="280.9" cy="437" r="8.9"/>
<circle cx="285.7" cy="484" r="8.9"/>
<circle cx="316.6" cy="445.8" r="8.9"/>
<circle cx="314.9" cy="409.7" r="8.9"/>
<circle cx="308.4" cy="393.2" r="8.9"/>
<circle cx="301.2" cy="457.9" r="8.9"/>
<circle cx="320.5" cy="416.6" r="8.9"/>
<circle cx="320.9" cy="486.5" r="8.9"/>
<circle cx="312.1" cy="393.3" r="8.9"/>
<circle cx="336.3" cy="455.8" r="8.9"/>
<circle cx="307.6" cy="460" r="8.9"/>
<circle cx="312.9" cy="398.9" r="8.9"/>
<circle cx="284.9" cy="424.1" r="8.9"/>
<circle cx="320.8" cy="426.6" r="8.9"/>
<circle cx="315.7" cy="489.8" r="8.9"/>
<circle cx="307.6" cy="418.7" r="8.9"/>
<circle cx="344" cy="428.3" r="8.9"/>
<circle cx="334.7" cy="394.8" r="8.9"/>
<circle cx="322.4" cy="380.6" r="8.9"/>
<circle cx="302" cy="488.2" r="8.9"/>
<circle cx="342.3" cy="402.9" r="8.9"/>
<circle cx="310.1" cy="518.9" r="8.9"/>
<circle cx="346.4" cy="452.9" r="8.9"/>
<circle cx="315.8" cy="370.6" r="8.9"/>
<circle cx="316.9" cy="402.6" r="8.9"/>
<circle cx="283.7" cy="463.8" r="8.9"/>
<circle cx="326.8" cy="458.2" r="8.9"/>
<circle cx="297.7" cy="374.9" r="8.9"/>
<circle cx="292.4" cy="398.9" r="8.9"/>
<circle cx="335.8" cy="447.4" r="8.9"/>
<circle cx="289.3" cy="444.3" r="8.9"/>
<circle cx="281" cy="403.6" r="8.9"/>
<circle cx="388" cy="389.6" r="8.9"/>
<circle cx="381.2" cy="372.2" r="8.9"/>
<circle cx="366.6" cy="370.6" r="8.9"/>
<circle cx="391.3" cy="384.2" r="8.9"/>
<circle cx="380.4" cy="375.9" r="8.9"/>
<circle cx="368.9" cy="359" r="8.9"/>
<circle cx="363.9" cy="373.9" r="8.9"/>
<circle cx="394.1" cy="377.1" r="8.9"/>
<circle cx="417.4" cy="363.2" r="8.9"/>
<circle cx="380.3" cy="370.2" r="8.9"/>
<circle cx="418.1" cy="363.3" r="8.9"/>
<circle cx="377.1" cy="368.6" r="8.9"/>
<circle cx="402" cy="362" r="8.9"/>
<circle cx="369.7" cy="382.2" r="8.9"/>
<circle cx="394.9" cy="375.4" r="8.9"/>
<circle cx="365.3" cy="365.9" r="8.9"/>
<circle cx="411.8" cy="366.1" r="8.9"/>
<circle cx="394.3" cy="389.6" r="8.9"/>
<circle cx="380.4" cy="367.4" r="8.9"/>
<circle cx="403.6" cy="364.9" r="8.9"/>
<circle cx="253.3" cy="545.3" r="8.9"/>
<circle cx="278.2" cy="552.1" r="8.9"/>
<circle cx="234.1" cy="561.6" r="8.9"/>
<circle cx="233.4" cy="557.3" r="8.9"/>
<circle cx="274.6" cy="556.6" r="8.9"/>
<circle cx="241.4" cy="565" r="8.9"/>
<circle cx="276.2" cy="546.5" r="8.9"/>
<circle cx="244.1" cy="558.9" r="8.9"/>
<circle cx="276.4" cy="560.4" r="8.9"/>
<circle cx="241.7" cy="556.7" r="8.9"/>
<circle cx="252.4" cy="557.6" r="8.9"/>
<circle cx="255.6" cy="542.2" r="8.9"/>
<circle cx="247.8" cy="546.6" r="8.9"/>
<circle cx="260.4" cy="568.5" r="8.9"/>
<circle cx="262.2" cy="567.9" r="8.9"/>
<circle cx="250.6" cy="550.5" r="8.9"/>
<circle cx="249.3" cy="548" r="8.9"/>
<circle cx="248.1" cy="537.5" r="8.9"/>
<circle cx="265.8" cy="553.8" r="8.9"/>
<circle cx="240.2" cy="542.9" r="8.9"/>
<circle cx="253.9" cy="561.4" r="8.9"/>
<circle cx="249.1" cy="549.2" r="8.9"/>
<circle cx="247.7" cy="554.1" r="8.9"/>
<circle cx="245.3" cy="539.2" r="8.9"/>
<circle cx="276" cy="550" r="8.9"/>
<circle cx="317.3" cy="541.8" r="8.9"/>
<circle cx="312.7" cy="557.3" r="8.9"/>
<circle cx="331.5" cy="551.1" r="8.9"/>
<circle cx="337.7" cy="518.8" r="8.9"/>
<circle cx="338.7" cy="543" r="8.9"/>
<circle cx="315" cy="546.7" r="8.9"/>
<circle cx="292.7" cy="544.4" r="8.9"/>
<circle cx="324.3" cy="519.8" r="8.9"/>
<circle cx="299.8" cy="551.7" r="8.9"/>
<circle cx="335.6" cy="529.3" r="8.9"/>
<circle cx="300.9" cy="547.8" r="8.9"/>
<circle cx="321.9" cy="527.3" r="8.9"/>
<circle cx="306.7" cy="527.5" r="8.9"/>
<circle cx="317.9" cy="517.6" r="8.9"/>
<circle cx="287.6" cy="533" r="8.9"/>
<circle cx="305" cy="544.1" r="8.9"/>
<circle cx="337.9" cy="524.3" r="8.9"/>
<circle cx="306.2" cy="542.4" r="8.9"/>
<circle cx="323.1" cy="520.7" r="8.9"/>
<circle cx="347.6" cy="543.2" r="8.9"/>
<circle cx="303.6" cy="557.4" r="8.9"/>
<circle cx="306.3" cy="528" r="8.9"/>
<circle cx="304.6" cy="552.3" r="8.9"/>
<circle cx="306.1" cy="514.8" r="8.9"/>
<circle cx="308.3" cy="538.1" r="8.9"/>
<circle cx="309.7" cy="599" r="8.9"/>
<circle cx="332.8" cy="606" r="8.9"/>
<circle cx="315.8" cy="610.8" r="8.9"/>
<circle cx="305.7" cy="614.7" r="8.9"/>
<circle cx="317.5" cy="597.9" r="8.9"/>
<circle cx="322.6" cy="614" r="8.9"/>
<circle cx="315.8" cy="624.5" r="8.9"/>
<circle cx="330.2" cy="622.9" r="8.9"/>
<circle cx="294.8" cy="601.8" r="8.9"/>
<circle cx="318.4" cy="602.5" r="8.9"/>
<circle cx="321.5" cy="603.9" r="8.9"/>
<circle cx="313" cy="617.4" r="8.9"/>
<circle cx="328.2" cy="621" r="8.9"/>
<circle cx="305.4" cy="629.4" r="8.9"/>
<circle cx="328.4" cy="598.2" r="8.9"/>
<circle cx="296.7" cy="605.4" r="8.9"/>
<circle cx="301.5" cy="625.3" r="8.9"/>
<circle cx="296.2" cy="622.4" r="8.9"/>
<circle cx="310.7" cy="592" r="8.9"/>
<circle cx="340.3" cy="604.9" r="8.9"/>
<circle cx="300.2" cy="611" r="8.9"/>
<circle cx="297.9" cy="611.9" r="8.9"/>
<circle cx="325.4" cy="614.8" r="8.9"/>
<circle cx="301.9" cy="606.4" r="8.9"/>
<circle cx="327.9" cy="605.4" r="8.9"/>
<circle cx="348.1" cy="577.7" r="8.9"/>
<circle cx="354.3" cy="578" r="8.9"/>
<circle cx="354.7" cy="589.1" r="8.9"/>
<circle cx="365.6" cy="586" r="8.9"/>
<circle cx="378.6" cy="579.3" r="8.9"/>
<circle cx="362.3" cy="569.5" r="8.9"/>
<circle cx="358.5" cy="570.6" r="8.9"/>
<circle cx="371.5" cy="578.3" r="8.9"/>
<circle cx="402.6" cy="601" r="8.9"/>
<circle cx="401.6" cy="601.5" r="8.9"/>
<circle cx="390.1" cy="619" r="8.9"/>
<circle cx="383.6" cy="590.6" r="8.9"/>
<circle cx="371.3" cy="597.2" r="8.9"/>
<circle cx="382.2" cy="617.6" r="8.9"/>
<circle cx="400.3" cy="612.4" r="8.9"/>
<circle cx="373.6" cy="591.6" r="8.9"/>
<circle cx="396.7" cy="609.4" r="8.9"/>
<circle cx="403.1" cy="600" r="8.9"/>
<circle cx="340.9" cy="657.4" r="8.9"/>
<circle cx="306.8" cy="648.6" r="8.9"/>
<circle cx="324" cy="640.1" r="8.9"/>
<circle cx="347" cy="641.9" r="8.9"/>
<circle cx="353.1" cy="642.7" r="8.9"/>
<circle cx="330.6" cy="653.8" r="8.9"/>
<circle cx="340.2" cy="635.9" r="8.9"/>
<circle cx="319.2" cy="635.5" r="8.9"/>
<circle cx="333.3" cy="638.3" r="8.9"/>
<circle cx="311.2" cy="647.2" r="8.9"/>
<circle cx="323.6" cy="647.4" r="8.9"/>
<circle cx="329" cy="651.8" r="8.9"/>
<circle cx="332.5" cy="649.8" r="8.9"/>
<circle cx="332.6" cy="642.3" r="8.9"/>
<circle cx="385" cy="641.8" r="8.9"/>
<circle cx="361.9" cy="664.5" r="8.9"/>
<circle cx="369.1" cy="678.3" r="8.9"/>
<circle cx="389.6" cy="676.1" r="8.9"/>
<circle cx="373" cy="674.5" r="8.9"/>
<circle cx="379.8" cy="674.6" r="8.9"/>
<circle cx="368.8" cy="662" r="8.9"/>
<circle cx="374.1" cy="655.9" r="8.9"/>
<circle cx="372" cy="656" r="8.9"/>
<circle cx="368.3" cy="668.5" r="8.9"/>
<circle cx="384" cy="671.2" r="8.9"/>
<circle cx="386.8" cy="674" r="8.9"/>
<circle cx="381.7" cy="677" r="8.9"/>
<circle cx="361.6" cy="671.4" r="8.9"/>
<circle cx="371.2" cy="687.9" r="8.9"/>
<circle cx="373" cy="681.2" r="8.9"/>
<circle cx="358" cy="680.8" r="8.9"/>
<circle cx="344.3" cy="677.9" r="8.9"/>
<circle cx="353.4" cy="694.4" r="8.9"/>
<circle cx="361" cy="670" r="8.9"/>
<circle cx="342.5" cy="678.9" r="8.9"/>
<circle cx="361.2" cy="694" r="8.9"/>
<circle cx="293" cy="357.1" r="8.9"/>
<circle cx="290.3" cy="338.4" r="8.9"/>
<circle cx="294.9" cy="365.9" r="8.9"/>
<circle cx="312.5" cy="345.1" r="8.9"/>
<circle cx="286" cy="345" r="8.9"/>
<circle cx="279.9" cy="358.4" r="8.9"/>
<circle cx="287" cy="336.1" r="8.9"/>
<circle cx="318.2" cy="349" r="8.9"/>
<circle cx="308.2" cy="340.6" r="8.9"/>
<circle cx="285.2" cy="340.5" r="8.9"/>
<circle cx="749.9" cy="532.9" r="8.9"/>
<circle cx="766.7" cy="527" r="8.9"/>
<circle cx="773.7" cy="535.3" r="8.9"/>
<circle cx="768.7" cy="543.1" r="8.9"/>
<circle cx="772.4" cy="526.1" r="8.9"/>
<circle cx="760.9" cy="533.9" r="8.9"/>
<circle cx="1043.4" cy="387.8" r="8.9"/>
<circle cx="1067.9" cy="374" r="8.9"/>
<circle cx="1087.8" cy="379.6" r="8.9"/>
</g>
<g fill="#2a93fb" fill-opacity="0.58">
<path d="M116.6 53.9L131 68.3L116.6 82.7L102.2 68.3Z"/>
<path d="M116.6 95.4L131 109.8L116.6 124.2L102.2 109.8Z"/>
<path d="M128.6 157.9L143 172.3L128.6 186.7L114.2 172.3Z"/>
<path d="M140.8 185.8L155.2 200.2L140.8 214.6L126.4 200.2Z"/>
<path d="M195.7 172L210.1 186.4L195.7 200.8L181.3 186.4Z"/>
<path d="M219.9 130.4L234.3 144.8L219.9 159.2L205.5 144.8Z"/>
<path d="M219.9 151.3L234.3 165.7L219.9 180.1L205.5 165.7Z"/>
<path d="M329.6 199.5L344 213.9L329.6 228.3L315.2 213.9Z"/>
<path d="M396.9 269.2L411.3 283.6L396.9 298L382.5 283.6Z"/>
</g>
<g fill="#2a93fb" fill-opacity="0.58">
<path d="M220.2 89.7L232.6 68.2L207.8 68.2Z"/>
<path d="M232.1 96.6L244.5 75.1L219.7 75.1Z"/>
<path d="M238 96.6L250.4 75.1L225.6 75.1Z"/>
<path d="M225.8 110.1L238.2 88.6L213.4 88.6Z"/>
<path d="M244.1 110.1L256.5 88.6L231.7 88.6Z"/>
<path d="M244.1 152.2L256.5 130.7L231.7 130.7Z"/>
</g>
<g fill="#2a93fb" fill-opacity="0.58">
<path d="M264.3 109.8L242.8 97.4L242.8 122.2Z"/>
<path d="M313.5 102.4L292.1 90L292.1 114.8Z"/>
<path d="M289.3 116.7L267.8 104.3L267.8 129.1Z"/>
<path d="M300.8 115.5L279.3 103.1L279.3 127.9Z"/>
<path d="M307.2 128.2L285.7 115.8L285.7 140.6Z"/>
<path d="M300.8 134.6L279.3 122.2L279.3 147Z"/>
<path d="M289.3 143.5L267.8 131.1L267.8 155.9Z"/>
<path d="M294.4 152.4L272.9 140L272.9 164.8Z"/>
<path d="M307.2 142.2L285.7 129.8L285.7 154.6Z"/>
<path d="M318.6 144.8L297.2 132.4L297.2 157.2Z"/>
<path d="M318.6 165.2L297.2 152.8L297.2 177.6Z"/>
<path d="M294.4 165.2L272.9 152.8L272.9 177.6Z"/>
<path d="M309.7 158.8L288.2 146.4L288.2 171.2Z"/>
<path d="M304.6 149.9L283.1 137.5L283.1 162.3Z"/>
<path d="M289.3 155L267.8 142.6L267.8 167.4Z"/>
</g>
<g fill="#2a93fb" fill-opacity="0.58">
<path d="M358.4 109.8L379.9 97.4L379.9 122.2Z"/>
<path d="M328.5 123.1L350 110.7L350 135.5Z"/>
<path d="M352 130.8L373.5 118.4L373.5 143.2Z"/>
<path d="M248.7 134.6L270.2 122.2L270.2 147Z"/>
</g>
<g fill="#2a93fb" fill-opacity="0.58">
<path d="M353.8 116.7L366.2 138.2L341.4 138.2Z"/>
<path d="M415.1 74.9L427.5 96.4L402.7 96.4Z"/>
<path d="M439.3 60.8L451.7 82.3L426.9 82.3Z"/>
<path d="M451.5 33.3L463.9 54.8L439.1 54.8Z"/>
<path d="M451.5 102.9L463.9 124.4L439.1 124.4Z"/>
<path d="M470.2 39.7L482.6 61.1L457.8 61.1Z"/>
<path d="M494.4 39.7L506.8 61.1L482 61.1Z"/>
<path d="M463.8 55L476.2 76.5L451.4 76.5Z"/>
<path d="M470.2 46L482.6 67.5L457.8 67.5Z"/>
<path d="M476.5 52.4L488.9 73.9L464.1 73.9Z"/>
<path d="M463.8 60.1L476.2 81.6L451.4 81.6Z"/>
<path d="M485.5 61.4L497.9 82.8L473.1 82.8Z"/>
<path d="M463.8 74.9L476.2 96.4L451.4 96.4Z"/>
<path d="M470.2 81.8L482.6 103.2L457.8 103.2Z"/>
<path d="M476.5 81.8L488.9 103.2L464.1 103.2Z"/>
<path d="M518.6 81.8L531 103.2L506.2 103.2Z"/>
<path d="M463.8 116.2L476.2 137.7L451.4 137.7Z"/>
<path d="M488.5 109.8L500.9 131.3L476.1 131.3Z"/>
<path d="M476.5 130.2L488.9 151.7L464.1 151.7Z"/>
<path d="M507.1 130.2L519.5 151.7L494.7 151.7Z"/>
<path d="M457.9 137.4L470.3 158.9L445.5 158.9Z"/>
<path d="M494.4 144.3L506.8 165.7L482 165.7Z"/>
</g>
<g fill="#c77df5" fill-opacity="0.65">
<path d="M744.9 40.1L759.3 54.5L744.9 68.9L730.5 54.5Z"/>
<path d="M763 67.6L777.4 82L763 96.4L748.6 82Z"/>
</g>
<g fill="#52c79a" fill-opacity="0.7">
<circle cx="744.6" cy="747.3" r="14"/>
</g>
<g fill="#ee3b4b" fill-opacity="0.8">
<path d="M620.9 867.1L642.3 854.7L642.3 879.5Z"/>
</g>
<g fill="#8a6d45" fill-opacity="0.8">
<path d="M612.5 901.4L591 889L591 913.8Z"/>
</g>
<g fill="#52c79a" fill-opacity="0.65">
<path d="M704 901.4L682.5 889L682.5 913.8Z"/>
</g>
<g fill="#3f7f73" fill-opacity="0.78">
<path d="M762.5 887.3L774.9 908.8L750.1 908.8Z"/>
</g>
<g fill="#3a3a3a" fill-opacity="0.72">
<path d="M799.5 171.8L813.9 186.2L799.5 200.6L785.1 186.2Z"/>
</g>
<g fill="#3a3a3a" fill-opacity="0.72">
<path d="M817.9 172.2L821 181.9L831.2 181.9L822.9 187.9L826.1 197.6L817.9 191.6L809.6 197.6L812.8 187.9L804.5 181.9L814.7 181.9Z"/>
</g>
<g fill="#3a3a3a" fill-opacity="0.72">
<path d="M854.3 151.8L866.7 173.2L841.9 173.2Z"/>
</g>
<g fill="#52c79a" fill-opacity="0.7">
<circle cx="793.1" cy="748" r="14"/>
</g>
<g fill="#52c79a" fill-opacity="0.65">
<path d="M964.3 803.7L978.7 818.1L964.3 832.5L949.9 818.1Z"/>
</g>
<g fill="#52c79a" fill-opacity="0.65">
<path d="M1006.9 790.3L1019.3 768.9L994.5 768.9Z"/>
<path d="M1000.5 804.4L1012.9 782.9L988.1 782.9Z"/>
<path d="M1019.1 804.4L1031.5 782.9L1006.7 782.9Z"/>
<path d="M1031.1 818.4L1043.5 796.9L1018.7 796.9Z"/>
<path d="M1049.7 790.3L1062.1 768.9L1037.3 768.9Z"/>
<path d="M1049.7 825.5L1062.1 804.1L1037.3 804.1Z"/>
<path d="M1049.7 832.4L1062.1 810.9L1037.3 810.9Z"/>
<path d="M1013 866.9L1025.4 845.4L1000.6 845.4Z"/>
<path d="M1037.5 874L1049.9 852.5L1025.1 852.5Z"/>
<path d="M1049.7 874L1062.1 852.5L1037.3 852.5Z"/>
<path d="M1049.7 894.9L1062.1 873.4L1037.3 873.4Z"/>
</g>
<g fill="#d46e1c" fill-opacity="0.66">
<circle cx="244.6" cy="811.3" r="14"/>
</g>
<g fill="#d46e1c" fill-opacity="0.66">
<path d="M293.1 788.9L296.3 798.6L306.4 798.6L298.2 804.6L301.3 814.2L293.1 808.3L284.9 814.2L288 804.6L279.8 798.6L290 798.6Z"/>
<path d="M317.9 782.5L321 792.2L331.2 792.2L322.9 798.2L326.1 807.9L317.9 801.9L309.6 807.9L312.8 798.2L304.5 792.2L314.7 792.2Z"/>
<path d="M287.2 810.6L290.4 820.3L300.6 820.3L292.3 826.2L295.5 835.9L287.2 829.9L279 835.9L282.2 826.2L273.9 820.3L284.1 820.3Z"/>
<path d="M311.7 804.2L314.9 813.9L325 813.9L316.8 819.9L320 829.5L311.7 823.6L303.5 829.5L306.6 819.9L298.4 813.9L308.6 813.9Z"/>
<path d="M323.7 831L326.9 840.7L337 840.7L328.8 846.7L332 856.3L323.7 850.3L315.5 856.3L318.6 846.7L310.4 840.7L320.6 840.7Z"/>
<path d="M469.9 976.9L473 986.6L483.2 986.6L475 992.6L478.1 1002.2L469.9 996.3L461.7 1002.2L464.8 992.6L456.6 986.6L466.8 986.6Z"/>
</g>
<g fill="#d46e1c" fill-opacity="0.66">
<path d="M280.9 915.7L293.3 894.2L268.5 894.2Z"/>
<path d="M293.1 915.7L305.5 894.2L280.7 894.2Z"/>
<path d="M299 915.7L311.4 894.2L286.6 894.2Z"/>
<path d="M311.5 915.7L323.9 894.2L299.1 894.2Z"/>
<path d="M293.1 930.2L305.5 908.8L280.7 908.8Z"/>
<path d="M305.1 930.2L317.5 908.8L292.7 908.8Z"/>
<path d="M262.5 936.6L274.9 915.1L250.1 915.1Z"/>
<path d="M274.7 936.6L287.1 915.1L262.3 915.1Z"/>
<path d="M281.1 936.6L293.5 915.1L268.7 915.1Z"/>
<path d="M287.2 936.6L299.6 915.1L274.8 915.1Z"/>
<path d="M293.4 936.6L305.8 915.1L281 915.1Z"/>
<path d="M299.5 936.6L311.9 915.1L287.1 915.1Z"/>
<path d="M311.5 936.6L323.9 915.1L299.1 915.1Z"/>
<path d="M281.1 950.6L293.5 929.2L268.7 929.2Z"/>
<path d="M293.4 950.6L305.8 929.2L281 929.2Z"/>
<path d="M287.2 964.7L299.6 943.2L274.8 943.2Z"/>
<path d="M305.4 971.6L317.8 950.1L293 950.1Z"/>
<path d="M342.1 915.7L354.5 894.2L329.7 894.2Z"/>
<path d="M348 936.6L360.4 915.1L335.6 915.1Z"/>
<path d="M360.2 957.5L372.6 936L347.8 936Z"/>
<path d="M354.3 964.7L366.7 943.2L341.9 943.2Z"/>
<path d="M445.7 957.5L458.1 936L433.3 936Z"/>
</g>
<g fill="#d46e1c" fill-opacity="0.66">
<path d="M464 893.9L478.4 908.3L464 922.7L449.6 908.3Z"/>
</g>
<g fill="#ee3b4b" fill-opacity="0.8">
<path d="M529.3 918.5L550.8 906.1L550.8 930.9Z"/>
</g>
<g fill="#d46e1c" fill-opacity="0.66">
<path d="M354.3 1019.7L366.7 998.2L341.9 998.2Z"/>
<path d="M366.3 1012.8L378.7 991.4L353.9 991.4Z"/>
<path d="M390.6 1033.2L403 1011.8L378.2 1011.8Z"/>
<path d="M378.6 1054.9L391 1033.4L366.2 1033.4Z"/>
<path d="M402.8 1054.9L415.2 1033.4L390.4 1033.4Z"/>
<path d="M421.2 1054.9L433.6 1033.4L408.8 1033.4Z"/>
<path d="M378.6 1069L391 1047.5L366.2 1047.5Z"/>
<path d="M359.9 1075.8L372.3 1054.4L347.5 1054.4Z"/>
<path d="M384.7 1110.3L397.1 1088.8L372.3 1088.8Z"/>
</g>
<g fill="#d46e1c" fill-opacity="0.66">
<path d="M372.2 997.7L384.6 1019.2L359.8 1019.2Z"/>
<path d="M378.6 984.5L391 1005.9L366.2 1005.9Z"/>
<path d="M384.2 991.4L396.6 1012.8L371.8 1012.8Z"/>
<path d="M390.6 998.5L403 1020L378.2 1020Z"/>
<path d="M378.6 997.7L391 1019.2L366.2 1019.2Z"/>
</g>
<g fill="#d46e1c" fill-opacity="0.66">
<path d="M445.4 1011.8L448.6 1021.5L458.7 1021.5L450.5 1027.5L453.6 1037.1L445.4 1031.2L437.2 1037.1L440.3 1027.5L432.1 1021.5L442.3 1021.5Z"/>
<path d="M457.7 1025.6L460.8 1035.3L471 1035.3L462.7 1041.2L465.9 1050.9L457.7 1044.9L449.4 1050.9L452.6 1041.2L444.3 1035.3L454.5 1035.3Z"/>
<path d="M470.2 1032.7L473.3 1042.4L483.5 1042.4L475.2 1048.4L478.4 1058.1L470.2 1052.1L461.9 1058.1L465.1 1048.4L456.8 1042.4L467 1042.4Z"/>
<path d="M488.3 1018.7L491.4 1028.4L501.6 1028.4L493.4 1034.4L496.5 1044L488.3 1038.1L480 1044L483.2 1034.4L475 1028.4L485.1 1028.4Z"/>
<path d="M488.3 1032.7L491.4 1042.4L501.6 1042.4L493.4 1048.4L496.5 1058.1L488.3 1052.1L480 1058.1L483.2 1048.4L475 1042.4L485.1 1042.4Z"/>
<path d="M512.5 1046.8L515.6 1056.4L525.8 1056.4L517.6 1062.4L520.7 1072.1L512.5 1066.1L504.3 1072.1L507.4 1062.4L499.2 1056.4L509.4 1056.4Z"/>
<path d="M512.5 1054.4L515.6 1064.1L525.8 1064.1L517.6 1070.1L520.7 1079.7L512.5 1073.8L504.3 1079.7L507.4 1070.1L499.2 1064.1L509.4 1064.1Z"/>
<path d="M445.4 1053.7L448.6 1063.3L458.7 1063.3L450.5 1069.3L453.6 1079L445.4 1073L437.2 1079L440.3 1069.3L432.1 1063.3L442.3 1063.3Z"/>
<path d="M464.5 1053.7L467.7 1063.3L477.9 1063.3L469.6 1069.3L472.8 1079L464.5 1073L456.3 1079L459.5 1069.3L451.2 1063.3L461.4 1063.3Z"/>
<path d="M597.7 1005.2L600.8 1014.9L611 1014.9L602.8 1020.8L605.9 1030.5L597.7 1024.5L589.5 1030.5L592.6 1020.8L584.4 1014.9L594.6 1014.9Z"/>
<path d="M512.5 1151.4L515.6 1161L525.8 1161L517.6 1167L520.7 1176.7L512.5 1170.7L504.3 1176.7L507.4 1167L499.2 1161L509.4 1161Z"/>
<path d="M408.9 1199.8L412.1 1209.5L422.2 1209.5L414 1215.5L417.2 1225.2L408.9 1219.2L400.7 1225.2L403.8 1215.5L395.6 1209.5L405.8 1209.5Z"/>
</g>
<g fill="#d46e1c" fill-opacity="0.66">
<path d="M420.6 1083L442.1 1070.6L442.1 1095.4Z"/>
<path d="M402.8 1102.9L424.3 1090.5L424.3 1115.3Z"/>
<path d="M402.8 1110.5L424.3 1098.1L424.3 1122.9Z"/>
<path d="M444.9 1110L466.4 1097.6L466.4 1122.4Z"/>
<path d="M408.4 1130.9L429.9 1118.5L429.9 1143.3Z"/>
</g>
<g fill="#d46e1c" fill-opacity="0.66">
<path d="M519.9 1137.8L498.4 1125.4L498.4 1150.2Z"/>
<path d="M544.7 1172.5L523.2 1160.1L523.2 1184.9Z"/>
<path d="M495.7 1186.5L474.2 1174.1L474.2 1198.9Z"/>
</g>
<g fill="#52c79a" fill-opacity="0.65">
<path d="M666.6 1006.4L645.1 994L645.1 1018.8Z"/>
<path d="M654.6 929.4L633.1 917L633.1 941.8Z"/>
<path d="M642.4 957.3L620.9 944.9L620.9 969.7Z"/>
<path d="M709.7 971.2L688.2 958.8L688.2 983.6Z"/>
</g>
<g fill="#3f7f73" fill-opacity="0.78">
<path d="M628.6 915.4L641 936.9L616.2 936.9Z"/>
<path d="M677.1 943.1L689.5 964.6L664.7 964.6Z"/>
</g>
<g fill="#6ff7fb" fill-opacity="1">
<circle cx="714.3" cy="193.3" r="14"/>
<circle cx="665.3" cy="227.7" r="14"/>
<circle cx="707.4" cy="235.4" r="14"/>
</g>
<g fill="#3322f3" fill-opacity="1">
<circle cx="505.2" cy="316.1" r="14"/>
<circle cx="500.7" cy="394.6" r="14"/>
<circle cx="573" cy="455.4" r="14"/>
</g>
<g fill="#97f78a" fill-opacity="1">
<circle cx="598.6" cy="310.7" r="14"/>
<circle cx="615.9" cy="371.4" r="14"/>
</g>
<g fill="#57b8f7" fill-opacity="1">
<circle cx="596.2" cy="367" r="14"/>
<circle cx="623" cy="409.8" r="14"/>
</g>
<g fill="#d0fb4a" fill-opacity="1">
<circle cx="677.5" cy="394.6" r="14"/>
</g>
<g fill="#4a7cf5" fill-opacity="1">
<circle cx="543.6" cy="442.9" r="14"/>
<circle cx="574.8" cy="383" r="14"/>
</g>
<g fill="#2e22f5" fill-opacity="1">
<circle cx="567.8" cy="477.6" r="14"/>
</g>
<g fill="#7cf4da" fill-opacity="1">
<circle cx="653.1" cy="533.7" r="14"/>
<circle cx="604.6" cy="595.4" r="14"/>
</g>
<g fill="#f07320" fill-opacity="1">
<path d="M590.3 720.6L618.3 720.6L618.3 748.6L590.3 748.6Z"/>
</g>
<g fill="#ebb12f" fill-opacity="1">
<path d="M614.8 741.7L642.8 741.7L642.8 769.7L614.8 769.7Z"/>
</g>
<g fill="#f07320" fill-opacity="1">
<path d="M590.1 720.8L618.1 720.8L618.1 748.8L590.1 748.8Z"/>
</g>
<g fill="#ebb12f" fill-opacity="1">
<path d="M614.6 741.4L642.6 741.4L642.6 769.4L614.6 769.4Z"/>
</g>
<g fill="#cffb4a" fill-opacity="1">
<path d="M553.5 755.6L581.5 755.6L581.5 783.6L553.5 783.6Z"/>
</g>
<g fill="#d92c1a" fill-opacity="1">
<path d="M564.6 753.9L592.6 753.9L592.6 781.9L564.6 781.9Z"/>
<path d="M535.1 776.2L563.1 776.2L563.1 804.2L535.1 804.2Z"/>
</g>
<g fill="#f07320" fill-opacity="1">
<path d="M547.6 804.8L575.6 804.8L575.6 832.8L547.6 832.8Z"/>
<path d="M602.1 778L630.1 778L630.1 806L602.1 806Z"/>
</g>
<g fill="#ebb12f" fill-opacity="1">
<path d="M593.1 802.1L621.1 802.1L621.1 830.1L593.1 830.1Z"/>
</g>
<g fill="#ee4590" fill-opacity="1">
<path d="M627.1 796.7L655.1 796.7L655.1 824.7L627.1 824.7Z"/>
</g>
<g fill="#fb3116" fill-opacity="1">
<path d="M621.2 810.6L649.2 810.6L649.2 838.6L621.2 838.6Z"/>
<path d="M621.2 832.4L649.2 832.4L649.2 860.4L621.2 860.4Z"/>
</g>
<g fill="#cfe2ff" stroke="#000" stroke-width="1.45" stroke-linejoin="miter">
<path d="M506.6 58.8L521.9 69.9L516.1 87.9L497.2 87.9L491.3 69.9Z"/>
</g>
<g fill="#5ff5fb" stroke="#000" stroke-width="1.45" stroke-linejoin="miter">
<path d="M702 184.6L717.4 195.7L711.5 213.7L692.6 213.7L686.7 195.7Z"/>
<path d="M702 198.6L717.4 209.7L711.5 227.7L692.6 227.7L686.7 209.7Z"/>
<path d="M720.4 226.1L735.7 237.3L729.9 255.3L710.9 255.3L705.1 237.3Z"/>
</g>
<g fill="#3f7cf5" stroke="#000" stroke-width="1.45" stroke-linejoin="miter">
<path d="M488.6 281.6L503.9 292.7L498 310.7L479.1 310.7L473.3 292.7Z"/>
<path d="M525.7 317.8L541 329L535.2 347L516.3 347L510.4 329Z"/>
</g>
<g fill="#55baf8" stroke="#000" stroke-width="1.45" stroke-linejoin="miter">
<path d="M476.2 302.3L491.6 313.4L485.7 331.4L466.8 331.4L460.9 313.4Z"/>
</g>
<g fill="#3322f5" stroke="#000" stroke-width="1.45" stroke-linejoin="miter">
<path d="M556.1 307.1L571.4 318.2L565.5 336.2L546.6 336.2L540.8 318.2Z"/>
</g>
<g fill="#55baf8" stroke="#000" stroke-width="1.45" stroke-linejoin="miter">
<path d="M482 296.4L497.3 307.5L491.4 325.5L472.5 325.5L466.7 307.5Z"/>
<path d="M512.7 302.6L528 313.8L522.1 331.8L503.2 331.8L497.4 313.8Z"/>
<path d="M543.2 303.5L558.5 314.7L552.7 332.7L533.8 332.7L527.9 314.7Z"/>
</g>
<g fill="#5e9ffa" stroke="#000" stroke-width="1.45" stroke-linejoin="miter">
<path d="M555.2 274.6L570.5 285.7L564.6 303.7L545.7 303.7L539.9 285.7Z"/>
</g>
<g fill="#8af790" stroke="#000" stroke-width="1.45" stroke-linejoin="miter">
<path d="M599.8 322.3L615.1 333.4L609.3 351.4L590.4 351.4L584.5 333.4Z"/>
<path d="M592.1 309.4L607.5 320.6L601.6 338.6L582.7 338.6L576.8 320.6Z"/>
</g>
<g fill="#5e9ffa" stroke="#000" stroke-width="1.45" stroke-linejoin="miter">
<path d="M581.1 329.4L596.4 340.6L590.5 358.6L571.6 358.6L565.8 340.6Z"/>
</g>
<g fill="#55baf8" stroke="#000" stroke-width="1.45" stroke-linejoin="miter">
<path d="M534.6 333.9L550 345L544.1 363L525.2 363L519.3 345Z"/>
<path d="M506.1 348.2L521.4 359.3L515.5 377.3L496.6 377.3L490.8 359.3Z"/>
</g>
<g fill="#3322f5" stroke="#000" stroke-width="1.45" stroke-linejoin="miter">
<path d="M501.6 324.1L516.9 335.2L511.1 353.2L492.1 353.2L486.3 335.2Z"/>
<path d="M488.6 338.4L503.9 349.5L498 367.5L479.1 367.5L473.3 349.5Z"/>
</g>
<g fill="#9be622" stroke="#000" stroke-width="1.45" stroke-linejoin="miter">
<path d="M543.6 343.7L558.9 354.8L553 372.8L534.1 372.8L528.3 354.8Z"/>
</g>
<g fill="#3322f5" stroke="#000" stroke-width="1.45" stroke-linejoin="miter">
<path d="M556.1 324.1L571.4 335.2L565.5 353.2L546.6 353.2L540.8 335.2Z"/>
<path d="M516.8 342.8L532.1 354L526.2 372L507.3 372L501.5 354Z"/>
<path d="M524.8 358.9L540.1 370L534.3 388L515.4 388L509.5 370Z"/>
</g>
<g fill="#3f7cf5" stroke="#000" stroke-width="1.45" stroke-linejoin="miter">
<path d="M567.7 359.3L583 370.4L577.1 388.4L558.2 388.4L552.4 370.4Z"/>
</g>
<g fill="#8af790" stroke="#000" stroke-width="1.45" stroke-linejoin="miter">
<path d="M613.2 343.7L628.5 354.8L622.7 372.8L603.8 372.8L597.9 354.8Z"/>
</g>
<g fill="#9be622" stroke="#000" stroke-width="1.45" stroke-linejoin="miter">
<path d="M622.5 344.3L637.8 355.4L632 373.4L613 373.4L607.2 355.4Z"/>
</g>
<g fill="#ccfc44" stroke="#000" stroke-width="1.45" stroke-linejoin="miter">
<path d="M648 386L663.3 397.2L657.5 415.2L638.6 415.2L632.7 397.2Z"/>
</g>
<g fill="#8af790" stroke="#000" stroke-width="1.45" stroke-linejoin="miter">
<path d="M628.8 372.3L644.1 383.4L638.2 401.4L619.3 401.4L613.4 383.4Z"/>
</g>
<g fill="#ccfc44" stroke="#000" stroke-width="1.45" stroke-linejoin="miter">
<path d="M663.2 405.3L678.5 416.5L672.7 434.5L653.8 434.5L647.9 416.5Z"/>
<path d="M683.8 407.1L699.1 418.2L693.2 436.2L674.3 436.2L668.4 418.2Z"/>
<path d="M647.1 420.9L662.5 432L656.6 450L637.7 450L631.8 432Z"/>
</g>
<g fill="#8af790" stroke="#000" stroke-width="1.45" stroke-linejoin="miter">
<path d="M598 393.2L613.3 404.3L607.5 422.3L588.6 422.3L582.7 404.3Z"/>
</g>
<g fill="#55baf8" stroke="#000" stroke-width="1.45" stroke-linejoin="miter">
<path d="M511.4 385.7L526.7 396.8L520.9 414.8L502 414.8L496.1 396.8Z"/>
<path d="M518.6 391L533.9 402.2L528 420.2L509.1 420.2L503.3 402.2Z"/>
</g>
<g fill="#3f7cf5" stroke="#000" stroke-width="1.45" stroke-linejoin="miter">
<path d="M556.1 379.4L571.4 390.6L565.5 408.6L546.6 408.6L540.8 390.6Z"/>
</g>
<g fill="#55baf8" stroke="#000" stroke-width="1.45" stroke-linejoin="miter">
<path d="M524.8 372.8L540.1 384L534.3 402L515.4 402L509.5 384Z"/>
</g>
<g fill="#3f7cf5" stroke="#000" stroke-width="1.45" stroke-linejoin="miter">
<path d="M524.8 407.1L540.1 418.2L534.3 436.2L515.4 436.2L509.5 418.2Z"/>
<path d="M554.3 405.3L569.6 416.5L563.7 434.5L544.8 434.5L539 416.5Z"/>
</g>
<g fill="#c9d025" stroke="#000" stroke-width="1.45" stroke-linejoin="miter">
<path d="M524.8 414.3L540.1 425.4L534.3 443.4L515.4 443.4L509.5 425.4Z"/>
</g>
<g fill="#3322f5" stroke="#000" stroke-width="1.45" stroke-linejoin="miter">
<path d="M561.4 407.1L576.7 418.2L570.9 436.2L552 436.2L546.1 418.2Z"/>
</g>
<g fill="#3f7cf5" stroke="#000" stroke-width="1.45" stroke-linejoin="miter">
<path d="M592.1 441.6L607.5 452.7L601.6 470.7L582.7 470.7L576.8 452.7Z"/>
</g>
<g fill="#b0efc5" stroke="#000" stroke-width="1.45" stroke-linejoin="miter">
<path d="M445.4 392.8L460.7 404L454.8 422L435.9 422L430 404Z"/>
</g>
<g fill="#ccfc44" stroke="#000" stroke-width="1.45" stroke-linejoin="miter">
<path d="M622.9 455.5L638.2 466.7L632.3 484.7L613.4 484.7L607.5 466.7Z"/>
</g>
<g fill="#4aafa0" stroke="#000" stroke-width="1.45" stroke-linejoin="miter">
<path d="M605.2 545.1L621.2 561.1L605.2 577.1L589.2 561.1Z"/>
</g>
<g fill="#bcbcbc" stroke="#000" stroke-width="1.45" stroke-linejoin="miter">
<path d="M585.9 559.3L601.2 570.4L595.4 588.4L576.4 588.4L570.6 570.4Z"/>
</g>
<g fill="#6ff7d9" stroke="#000" stroke-width="1.45" stroke-linejoin="miter">
<path d="M598.4 585.5L613.7 596.6L607.9 614.6L588.9 614.6L583.1 596.6Z"/>
<path d="M598.4 581L613.7 592.2L607.9 610.2L588.9 610.2L583.1 592.2Z"/>
</g>
<g fill="#4aafa0" stroke="#000" stroke-width="1.45" stroke-linejoin="miter">
<path d="M598.4 615.4L614.4 631.4L598.4 647.4L582.4 631.4Z"/>
</g>
<g fill="#ec3f96" stroke="#000" stroke-width="1.45" stroke-linejoin="miter">
<path d="M561.8 600.8L577.8 616.8L561.8 632.8L545.8 616.8Z"/>
</g>
<g fill="#ee6877" stroke="#000" stroke-width="1.45" stroke-linejoin="miter">
<path d="M561.8 593.6L577.8 609.6L561.8 625.6L545.8 609.6Z"/>
</g>
<g fill="#a54882" stroke="#000" stroke-width="1.45" stroke-linejoin="miter">
<path d="M580.5 628.5L596.5 644.5L580.5 660.5L564.5 644.5Z"/>
</g>
<g fill="#ec3f96" stroke="#000" stroke-width="1.45" stroke-linejoin="miter">
<path d="M567.7 642.8L583.7 658.8L567.7 674.8L551.7 658.8Z"/>
</g>
<g fill="#ee6877" stroke="#000" stroke-width="1.45" stroke-linejoin="miter">
<path d="M555.5 628.5L571.5 644.5L555.5 660.5L539.5 644.5Z"/>
<path d="M512.7 634.7L528.7 650.7L512.7 666.7L496.7 650.7Z"/>
<path d="M518.9 643.3L534.9 659.3L518.9 675.3L502.9 659.3Z"/>
<path d="M548.9 657L564.9 673L548.9 689L532.9 673Z"/>
</g>
<g fill="#f5f53a" stroke="#000" stroke-width="1.45" stroke-linejoin="miter">
<path d="M610.5 649.4L626.5 665.4L610.5 681.4L594.5 665.4Z"/>
</g>
<g fill="#f4a8fb" stroke="#000" stroke-width="1.45" stroke-linejoin="miter">
<path d="M573.9 676.7L589.9 692.7L573.9 708.7L557.9 692.7Z"/>
<path d="M573.9 691L589.9 707L573.9 723L557.9 707Z"/>
<path d="M537.1 706.1L553.1 722.1L537.1 738.1L521.1 722.1Z"/>
<path d="M537.1 699L553.1 715L537.1 731L521.1 715Z"/>
</g>
<g fill="#ee6877" stroke="#000" stroke-width="1.45" stroke-linejoin="miter">
<path d="M537.1 683.8L553.1 699.8L537.1 715.8L521.1 699.8Z"/>
</g>
<g fill="#f4a8fb" stroke="#000" stroke-width="1.45" stroke-linejoin="miter">
<path d="M555.5 718.6L571.5 734.6L555.5 750.6L539.5 734.6Z"/>
</g>
<g fill="#ec3f96" stroke="#000" stroke-width="1.45" stroke-linejoin="miter">
<path d="M622.5 691L638.5 707L622.5 723L606.5 707Z"/>
</g>
<g fill="#d9301a" stroke="#000" stroke-width="1.45" stroke-linejoin="miter">
<path d="M578.6 726L594.6 742L578.6 758L562.6 742Z"/>
</g>
<g fill="#ee6877" stroke="#000" stroke-width="1.45" stroke-linejoin="miter">
<path d="M574.1 732.6L590.1 748.6L574.1 764.6L558.1 748.6Z"/>
</g>
<g fill="#d9301a" stroke="#000" stroke-width="1.45" stroke-linejoin="miter">
<path d="M607.1 750.1L623.1 766.1L607.1 782.1L591.1 766.1Z"/>
<path d="M590.2 740.2L606.2 756.2L590.2 772.2L574.2 756.2Z"/>
</g>
<g fill="#f55f37" stroke="#000" stroke-width="1.45" stroke-linejoin="miter">
<path d="M598.8 775.1L614.8 791.1L598.8 807.1L582.8 791.1Z"/>
</g>
<g fill="#d9301a" stroke="#000" stroke-width="1.45" stroke-linejoin="miter">
<path d="M598.8 760.8L614.8 776.8L598.8 792.8L582.8 776.8Z"/>
</g>
<g fill="#f55f37" stroke="#000" stroke-width="1.45" stroke-linejoin="miter">
<path d="M573.6 789.4L589.6 805.4L573.6 821.4L557.6 805.4Z"/>
</g>
<g fill="#d9301a" stroke="#000" stroke-width="1.45" stroke-linejoin="miter">
<path d="M567.5 774.2L583.5 790.2L567.5 806.2L551.5 790.2Z"/>
<path d="M592 802.8L608 818.8L592 834.8L576 818.8Z"/>
</g>
<g fill="#a5611f" stroke="#000" stroke-width="1.45" stroke-linejoin="miter">
<path d="M641.1 800.1L657.1 816.1L641.1 832.1L625.1 816.1Z"/>
</g>
<g fill="#eba62c" stroke="#000" stroke-width="1.45" stroke-linejoin="miter">
<path d="M639.3 807.2L655.3 823.2L639.3 839.2L623.3 823.2Z"/>
<path d="M636.6 814.4L652.6 830.4L636.6 846.4L620.6 830.4Z"/>
<path d="M622.9 823.3L638.9 839.3L622.9 855.3L606.9 839.3Z"/>
</g>
<g fill="#f5f53a" stroke="#000" stroke-width="1.45" stroke-linejoin="miter">
<path d="M638.4 750.1L654.4 766.1L638.4 782.1L622.4 766.1Z"/>
</g>
<g fill="#eba62c" stroke="#000" stroke-width="1.45" stroke-linejoin="miter">
<path d="M647.3 760.8L663.3 776.8L647.3 792.8L631.3 776.8Z"/>
<path d="M634.8 781.3L650.8 797.3L634.8 813.3L618.8 797.3Z"/>
<path d="M623.2 802.8L639.2 818.8L623.2 834.8L607.2 818.8Z"/>
</g>
<g fill="#f5f53a" stroke="#000" stroke-width="1.45" stroke-linejoin="miter">
<path d="M672.3 767L688.3 783L672.3 799L656.3 783Z"/>
<path d="M665.7 788.5L681.7 804.5L665.7 820.5L649.7 804.5Z"/>
</g>
<g fill="#a5611f" stroke="#000" stroke-width="1.45" stroke-linejoin="miter">
<path d="M750.9 746.5L766.9 762.5L750.9 778.5L734.9 762.5Z"/>
<path d="M567.5 871.1L583.5 887.1L567.5 903.1L551.5 887.1Z"/>
<path d="M512.5 884.9L528.5 900.9L512.5 916.9L496.5 900.9Z"/>
<path d="M555.7 892L571.7 908L555.7 924L539.7 908Z"/>
</g>
<g fill="#3fae73" stroke="#000" stroke-width="1.45" stroke-linejoin="miter">
<path d="M799.5 739.6L815.5 755.6L799.5 771.6L783.5 755.6Z"/>
<path d="M787.5 781.4L803.5 797.4L787.5 813.4L771.5 797.4Z"/>
</g>
<g fill="#1f1aa5" stroke="#000" stroke-width="1.45" stroke-linejoin="miter">
<path d="M657.7 249.9L673 261L667.1 279L648.2 279L642.3 261Z"/>
<path d="M697.2 266.5L712.5 277.6L706.7 295.6L687.7 295.6L681.9 277.6Z"/>
<path d="M688.3 260.1L703.6 271.2L697.7 289.2L678.8 289.2L673 271.2Z"/>
<path d="M644.9 274.1L660.2 285.2L654.4 303.2L635.4 303.2L629.6 285.2Z"/>
<path d="M672.4 262.6L687.8 273.7L681.9 291.7L663 291.7L657.1 273.7Z"/>
<path d="M665.3 233L680.6 244.2L674.8 262.2L655.8 262.2L650 244.2Z"/>
<path d="M653.1 274.6L668.4 285.7L662.5 303.7L643.6 303.7L637.7 285.7Z"/>
</g>
<g fill="#000000" stroke="#000" stroke-width="1.45" stroke-linejoin="miter">
<path d="M573.5 280.5L588.8 291.6L582.9 309.6L564 309.6L558.2 291.6Z"/>
<path d="M579.8 267.2L595.2 278.3L589.3 296.3L570.4 296.3L564.5 278.3Z"/>
</g>
</g>
<g id="plot-b">
<rect x="108.6" y="1384.5" width="1390.7" height="1263.7" fill="none" stroke="#000" stroke-width="1.4"/>
<path d="M115.9 2648.2v8M192.8 2648.2v8M269.6 2648.2v8M346.5 2648.2v8M423.3 2648.2v16M500.1 2648.2v8M577 2648.2v8M653.8 2648.2v8M730.7 2648.2v8M807.5 2648.2v16M884.3 2648.2v8M961.2 2648.2v8M1038 2648.2v8M1114.9 2648.2v8M1191.7 2648.2v16M1268.5 2648.2v8M1345.4 2648.2v8M1422.2 2648.2v8M1499.1 2648.2v8M108.6 2611.5h-8M108.6 2538h-16M108.6 2464.5h-8M108.6 2391h-16M108.6 2317.5h-8M108.6 2244h-16M108.6 2170.5h-8M108.6 2097h-16M108.6 2023.5h-8M108.6 1950h-16M108.6 1876.5h-8M108.6 1803h-16M108.6 1729.5h-8M108.6 1656h-16M108.6 1582.5h-8M108.6 1509h-16M108.6 1435.5h-8" stroke="#000" stroke-width="1.3" fill="none"/>
<text x="423.3" y="2686.7" text-anchor="middle" class="tk">−0.005</text>
<text x="807.5" y="2686.7" text-anchor="middle" class="tk">0</text>
<text x="1191.7" y="2686.7" text-anchor="middle" class="tk">0.005</text>
<text x="87.6" y="2546.5" text-anchor="end" class="tk">−0.008</text>
<text x="87.6" y="2399.5" text-anchor="end" class="tk">−0.006</text>
<text x="87.6" y="2252.5" text-anchor="end" class="tk">−0.004</text>
<text x="87.6" y="2105.5" text-anchor="end" class="tk">−0.002</text>
<text x="87.6" y="1958.5" text-anchor="end" class="tk">0</text>
<text x="87.6" y="1811.5" text-anchor="end" class="tk">0.002</text>
<text x="87.6" y="1664.5" text-anchor="end" class="tk">0.004</text>
<text x="87.6" y="1517.5" text-anchor="end" class="tk">0.006</text>
<text x="800" y="2715" text-anchor="middle" class="tk">PC1</text>
<text transform="translate(23 1997) rotate(-90)" text-anchor="middle" class="tk">PC2</text>
<g fill="#a9a9a9" fill-opacity="0.5">
<circle cx="807.6" cy="1560.2" r="8.9"/>
<circle cx="816.7" cy="1560.2" r="8.9"/>
<circle cx="800.4" cy="1567.3" r="8.9"/>
<circle cx="807.6" cy="1565.3" r="8.9"/>
<circle cx="785.1" cy="1589.8" r="8.9"/>
<circle cx="800.4" cy="1589.8" r="8.9"/>
<circle cx="822.9" cy="1582.7" r="8.9"/>
<circle cx="831" cy="1582.7" r="8.9"/>
<circle cx="846.3" cy="1582.7" r="8.9"/>
<circle cx="831" cy="1598" r="8.9"/>
<circle cx="846.3" cy="1598" r="8.9"/>
<circle cx="831" cy="1612.2" r="8.9"/>
<circle cx="839.2" cy="1622.4" r="8.9"/>
<circle cx="853.5" cy="1626.5" r="8.9"/>
<circle cx="847.3" cy="1642.9" r="8.9"/>
<circle cx="800.4" cy="1670.4" r="8.9"/>
<circle cx="815.7" cy="1648" r="8.9"/>
<circle cx="800.4" cy="1729.6" r="8.9"/>
<circle cx="861.6" cy="1734.7" r="8.9"/>
<circle cx="892.2" cy="1611.2" r="8.9"/>
<circle cx="900.4" cy="1616.3" r="8.9"/>
<circle cx="916.7" cy="1626.5" r="8.9"/>
<circle cx="878" cy="1632.7" r="8.9"/>
<circle cx="890.2" cy="1626.5" r="8.9"/>
<circle cx="939.2" cy="1640.8" r="8.9"/>
<circle cx="953.5" cy="1640.8" r="8.9"/>
<circle cx="969.8" cy="1633.7" r="8.9"/>
<circle cx="931" cy="1677.6" r="8.9"/>
<circle cx="931" cy="1651" r="8.9"/>
<circle cx="943.3" cy="1651" r="8.9"/>
<circle cx="914.7" cy="1655.1" r="8.9"/>
<circle cx="969.8" cy="1655.1" r="8.9"/>
<circle cx="957.6" cy="1663.3" r="8.9"/>
<circle cx="941.2" cy="1693.9" r="8.9"/>
<circle cx="953.5" cy="1729.6" r="8.9"/>
<circle cx="910.6" cy="1693.9" r="8.9"/>
<circle cx="902.4" cy="1683.7" r="8.9"/>
<circle cx="883.1" cy="1672.6" r="8.9"/>
<circle cx="875.6" cy="1676.4" r="8.9"/>
<circle cx="871.6" cy="1675.5" r="8.9"/>
<circle cx="895.8" cy="1644.7" r="8.9"/>
<circle cx="889.8" cy="1660.6" r="8.9"/>
<circle cx="908.8" cy="1658.3" r="8.9"/>
<circle cx="874" cy="1654.6" r="8.9"/>
<circle cx="881.8" cy="1686.5" r="8.9"/>
<circle cx="874.6" cy="1648.8" r="8.9"/>
<circle cx="892.1" cy="1665.7" r="8.9"/>
<circle cx="881.4" cy="1648.2" r="8.9"/>
<circle cx="905.5" cy="1671" r="8.9"/>
<circle cx="874.9" cy="1678.4" r="8.9"/>
<circle cx="899" cy="1647.6" r="8.9"/>
<circle cx="894.8" cy="1648.9" r="8.9"/>
<circle cx="866.6" cy="1654.9" r="8.9"/>
<circle cx="880.4" cy="1658" r="8.9"/>
<circle cx="895.1" cy="1680.4" r="8.9"/>
<circle cx="879.1" cy="1646.7" r="8.9"/>
<circle cx="894" cy="1665.6" r="8.9"/>
<circle cx="896.4" cy="1642.5" r="8.9"/>
<circle cx="892.9" cy="1673.2" r="8.9"/>
<circle cx="869.2" cy="1658.1" r="8.9"/>
<circle cx="907.4" cy="1670.9" r="8.9"/>
<circle cx="886" cy="1678.6" r="8.9"/>
<circle cx="885.6" cy="1678" r="8.9"/>
<circle cx="891.1" cy="1643.8" r="8.9"/>
<circle cx="870.3" cy="1647.7" r="8.9"/>
<circle cx="880.4" cy="1674.2" r="8.9"/>
<circle cx="904.8" cy="1662" r="8.9"/>
<circle cx="888.1" cy="1678" r="8.9"/>
<circle cx="877.7" cy="1656.8" r="8.9"/>
<circle cx="893.5" cy="1670.2" r="8.9"/>
<circle cx="871.2" cy="1674.8" r="8.9"/>
<circle cx="900.7" cy="1650.8" r="8.9"/>
<circle cx="882.3" cy="1652.2" r="8.9"/>
<circle cx="867" cy="1669.1" r="8.9"/>
<circle cx="874.4" cy="1647.6" r="8.9"/>
<circle cx="903.2" cy="1653" r="8.9"/>
<circle cx="873.3" cy="1661" r="8.9"/>
<circle cx="897.3" cy="1664.5" r="8.9"/>
<circle cx="905" cy="1658.2" r="8.9"/>
<circle cx="889.3" cy="1674.3" r="8.9"/>
<circle cx="886.4" cy="1674.3" r="8.9"/>
<circle cx="886.6" cy="1644.6" r="8.9"/>
<circle cx="831" cy="1744.5" r="8.9"/>
<circle cx="831" cy="1891.4" r="8.9"/>
<circle cx="807.6" cy="1938.8" r="8.9"/>
<circle cx="907.6" cy="1781.2" r="8.9"/>
<circle cx="922.9" cy="1795.9" r="8.9"/>
<circle cx="946.3" cy="1795.9" r="8.9"/>
<circle cx="900.4" cy="1824.9" r="8.9"/>
<circle cx="907.6" cy="1848" r="8.9"/>
<circle cx="922.9" cy="1848" r="8.9"/>
<circle cx="938.2" cy="1846.9" r="8.9"/>
<circle cx="946.3" cy="1855.1" r="8.9"/>
<circle cx="892.2" cy="1854.1" r="8.9"/>
<circle cx="885.1" cy="1862.2" r="8.9"/>
<circle cx="892.2" cy="1869.4" r="8.9"/>
<circle cx="953.5" cy="1818.4" r="8.9"/>
<circle cx="946.3" cy="1825.5" r="8.9"/>
<circle cx="961.6" cy="1825.5" r="8.9"/>
<circle cx="975.9" cy="1824.5" r="8.9"/>
<circle cx="984.1" cy="1824.5" r="8.9"/>
<circle cx="999.4" cy="1824.5" r="8.9"/>
<circle cx="961.6" cy="1840.8" r="8.9"/>
<circle cx="975.9" cy="1840.8" r="8.9"/>
<circle cx="984.1" cy="1832.7" r="8.9"/>
<circle cx="992.2" cy="1848" r="8.9"/>
<circle cx="1022.9" cy="1876.5" r="8.9"/>
<circle cx="1007.6" cy="1920.8" r="8.9"/>
<circle cx="1061.6" cy="1920.4" r="8.9"/>
<circle cx="1061.6" cy="1934.7" r="8.9"/>
<circle cx="1076.9" cy="1795.5" r="8.9"/>
<circle cx="1069.8" cy="1766.3" r="8.9"/>
<circle cx="1053.5" cy="1802" r="8.9"/>
<circle cx="1061.6" cy="1810.2" r="8.9"/>
<circle cx="1031" cy="1817.3" r="8.9"/>
<circle cx="1045.3" cy="1817.3" r="8.9"/>
<circle cx="1037.1" cy="1826.5" r="8.9"/>
<circle cx="1053.5" cy="1838.8" r="8.9"/>
<circle cx="1061.6" cy="1832.7" r="8.9"/>
<circle cx="1031" cy="1840.8" r="8.9"/>
<circle cx="1039.2" cy="1851" r="8.9"/>
<circle cx="1047.3" cy="1859.2" r="8.9"/>
<circle cx="1053.5" cy="1883.7" r="8.9"/>
<circle cx="1061.6" cy="1869.4" r="8.9"/>
<circle cx="953.5" cy="1751" r="8.9"/>
<circle cx="939.2" cy="1751" r="8.9"/>
<circle cx="946.3" cy="1743.9" r="8.9"/>
<circle cx="975.9" cy="1751" r="8.9"/>
<circle cx="1016.7" cy="1710.2" r="8.9"/>
<circle cx="1033.1" cy="1708.2" r="8.9"/>
<circle cx="1005.5" cy="1802.9" r="8.9"/>
<circle cx="1020.5" cy="1795.2" r="8.9"/>
<circle cx="989.8" cy="1786.1" r="8.9"/>
<circle cx="1047.4" cy="1786.7" r="8.9"/>
<circle cx="1040.6" cy="1769.7" r="8.9"/>
<circle cx="1047.4" cy="1800.1" r="8.9"/>
<circle cx="1009.4" cy="1771.3" r="8.9"/>
<circle cx="1006.1" cy="1804.1" r="8.9"/>
<circle cx="995" cy="1799.2" r="8.9"/>
<circle cx="1039.3" cy="1788.7" r="8.9"/>
<circle cx="1026.7" cy="1797.3" r="8.9"/>
<circle cx="1027.6" cy="1774.1" r="8.9"/>
<circle cx="1007.6" cy="1774.7" r="8.9"/>
<circle cx="1013.1" cy="1806.6" r="8.9"/>
<circle cx="1015.1" cy="1767.3" r="8.9"/>
<circle cx="1019" cy="1799.1" r="8.9"/>
<circle cx="1016.6" cy="1794.4" r="8.9"/>
<circle cx="1033.4" cy="1766.4" r="8.9"/>
<circle cx="1005.5" cy="1780.8" r="8.9"/>
<circle cx="1035.5" cy="1805.1" r="8.9"/>
<circle cx="1020.2" cy="1805.2" r="8.9"/>
<circle cx="1048.9" cy="1790.8" r="8.9"/>
<circle cx="1022.8" cy="1786.1" r="8.9"/>
<circle cx="999.5" cy="1780.4" r="8.9"/>
<circle cx="1038.1" cy="1772.7" r="8.9"/>
<circle cx="1048" cy="1786.1" r="8.9"/>
<circle cx="1028.9" cy="1799.5" r="8.9"/>
<circle cx="1032.2" cy="1770.2" r="8.9"/>
<circle cx="1028" cy="1805.8" r="8.9"/>
<circle cx="1042.6" cy="1777.8" r="8.9"/>
<circle cx="1017.4" cy="1767.9" r="8.9"/>
<circle cx="1006.7" cy="1771.4" r="8.9"/>
<circle cx="1010.4" cy="1767.8" r="8.9"/>
<circle cx="998.4" cy="1797.7" r="8.9"/>
<circle cx="1027.4" cy="1785" r="8.9"/>
<circle cx="1052.4" cy="1780.5" r="8.9"/>
<circle cx="1038" cy="1793.2" r="8.9"/>
<circle cx="1041.4" cy="1780.5" r="8.9"/>
<circle cx="990.9" cy="1777.9" r="8.9"/>
<circle cx="999.9" cy="1783.2" r="8.9"/>
<circle cx="1017" cy="1803" r="8.9"/>
<circle cx="1001.7" cy="1787.8" r="8.9"/>
<circle cx="1050.5" cy="1785.8" r="8.9"/>
<circle cx="1040.4" cy="1767.5" r="8.9"/>
<circle cx="1021" cy="1767.1" r="8.9"/>
<circle cx="1006.7" cy="1794.9" r="8.9"/>
<circle cx="1021.4" cy="1772.2" r="8.9"/>
<circle cx="1058.4" cy="1790.9" r="8.9"/>
<circle cx="1010.4" cy="1765.2" r="8.9"/>
<circle cx="1021.6" cy="1796.5" r="8.9"/>
<circle cx="831" cy="1994" r="8.9"/>
<circle cx="808.1" cy="2001.7" r="8.9"/>
<circle cx="792.8" cy="2009.3" r="8.9"/>
<circle cx="801.7" cy="2017" r="8.9"/>
<circle cx="788.9" cy="2023.4" r="8.9"/>
<circle cx="792.8" cy="2038.7" r="8.9"/>
<circle cx="780" cy="2046.3" r="8.9"/>
<circle cx="780" cy="2060.4" r="8.9"/>
<circle cx="780" cy="2097.3" r="8.9"/>
<circle cx="800.4" cy="2163.2" r="8.9"/>
<circle cx="785.1" cy="2193" r="8.9"/>
<circle cx="780" cy="2207" r="8.9"/>
<circle cx="800.4" cy="2221.1" r="8.9"/>
<circle cx="792.8" cy="2228.7" r="8.9"/>
<circle cx="785.1" cy="2236.4" r="8.9"/>
<circle cx="800.4" cy="2236.4" r="8.9"/>
<circle cx="780" cy="2245.3" r="8.9"/>
<circle cx="792.8" cy="2259.3" r="8.9"/>
<circle cx="780" cy="2255.5" r="8.9"/>
<circle cx="938.2" cy="1982.6" r="8.9"/>
<circle cx="999.4" cy="1987.7" r="8.9"/>
<circle cx="991.7" cy="2009.3" r="8.9"/>
<circle cx="999.4" cy="2031" r="8.9"/>
<circle cx="868" cy="2015.7" r="8.9"/>
<circle cx="876.9" cy="2014.4" r="8.9"/>
<circle cx="861.6" cy="2023.4" r="8.9"/>
<circle cx="876.9" cy="2023.4" r="8.9"/>
<circle cx="876.9" cy="2031" r="8.9"/>
<circle cx="899.9" cy="2008.1" r="8.9"/>
<circle cx="892.2" cy="2023.4" r="8.9"/>
<circle cx="899.9" cy="2023.4" r="8.9"/>
<circle cx="899.9" cy="2031" r="8.9"/>
<circle cx="915.2" cy="2038.7" r="8.9"/>
<circle cx="876.9" cy="2045.8" r="8.9"/>
<circle cx="861.6" cy="2045.8" r="8.9"/>
<circle cx="899.9" cy="2045.8" r="8.9"/>
<circle cx="907.6" cy="2053.2" r="8.9"/>
<circle cx="846.3" cy="2060.4" r="8.9"/>
<circle cx="854" cy="2060.4" r="8.9"/>
<circle cx="884.6" cy="2068" r="8.9"/>
<circle cx="892.2" cy="2068" r="8.9"/>
<circle cx="899.9" cy="2068" r="8.9"/>
<circle cx="892.2" cy="2075.7" r="8.9"/>
<circle cx="915.2" cy="2089.7" r="8.9"/>
<circle cx="930.5" cy="2089.7" r="8.9"/>
<circle cx="907.6" cy="2097.3" r="8.9"/>
<circle cx="945.8" cy="2104.5" r="8.9"/>
<circle cx="938.2" cy="2023.4" r="8.9"/>
<circle cx="945.8" cy="2038.7" r="8.9"/>
<circle cx="953.5" cy="2031" r="8.9"/>
<circle cx="961.1" cy="2031" r="8.9"/>
<circle cx="968.8" cy="2038.7" r="8.9"/>
<circle cx="976.4" cy="2068" r="8.9"/>
<circle cx="984.1" cy="2068" r="8.9"/>
<circle cx="1007" cy="2075.2" r="8.9"/>
<circle cx="999.4" cy="2082" r="8.9"/>
<circle cx="999.4" cy="2097.3" r="8.9"/>
<circle cx="991.7" cy="2104.5" r="8.9"/>
<circle cx="1022.3" cy="2097.3" r="8.9"/>
<circle cx="1037.7" cy="2089.7" r="8.9"/>
<circle cx="1053" cy="2097.3" r="8.9"/>
<circle cx="1060.6" cy="2111.4" r="8.9"/>
<circle cx="1045.3" cy="2126.7" r="8.9"/>
<circle cx="1053" cy="2119" r="8.9"/>
<circle cx="1060.6" cy="2126.7" r="8.9"/>
<circle cx="1068.3" cy="2119" r="8.9"/>
<circle cx="1060.6" cy="2133.8" r="8.9"/>
<circle cx="1083.6" cy="2119" r="8.9"/>
<circle cx="1075.9" cy="2141.2" r="8.9"/>
<circle cx="1098.9" cy="2141.2" r="8.9"/>
<circle cx="1098.9" cy="2163.2" r="8.9"/>
<circle cx="1075.9" cy="2163.2" r="8.9"/>
<circle cx="1068.3" cy="1992.8" r="8.9"/>
<circle cx="1068.3" cy="2001.7" r="8.9"/>
<circle cx="1083.6" cy="2009.3" r="8.9"/>
<circle cx="1091.2" cy="2015.7" r="8.9"/>
<circle cx="1098.9" cy="2023.4" r="8.9"/>
<circle cx="1114.2" cy="2009.3" r="8.9"/>
<circle cx="1130.8" cy="2015.7" r="8.9"/>
<circle cx="1098.9" cy="2001.7" r="8.9"/>
<circle cx="1106.5" cy="1994" r="8.9"/>
<circle cx="1109.4" cy="1988.8" r="8.9"/>
<circle cx="1128.2" cy="1978.9" r="8.9"/>
<circle cx="1115.6" cy="1996.1" r="8.9"/>
<circle cx="1115.6" cy="1988.4" r="8.9"/>
<circle cx="1104.2" cy="1998.2" r="8.9"/>
<circle cx="1106.1" cy="1983.6" r="8.9"/>
<circle cx="1137.9" cy="1988.9" r="8.9"/>
<circle cx="1088.8" cy="1979.7" r="8.9"/>
<circle cx="1103.7" cy="1972.5" r="8.9"/>
<circle cx="1112.2" cy="1991.7" r="8.9"/>
<circle cx="1098.3" cy="1994.8" r="8.9"/>
<circle cx="1136.7" cy="1986.7" r="8.9"/>
<circle cx="1117.9" cy="1974.4" r="8.9"/>
<circle cx="1087.5" cy="1977.1" r="8.9"/>
<circle cx="1134.3" cy="1992.1" r="8.9"/>
<circle cx="1075.1" cy="1980.1" r="8.9"/>
<circle cx="1084.3" cy="1978.7" r="8.9"/>
<circle cx="1066.2" cy="1985.8" r="8.9"/>
<circle cx="1089" cy="1982.1" r="8.9"/>
<circle cx="1122.9" cy="1986.8" r="8.9"/>
<circle cx="1074.9" cy="1980" r="8.9"/>
<circle cx="1070.1" cy="1978.8" r="8.9"/>
<circle cx="1081.2" cy="1976.5" r="8.9"/>
<circle cx="1115.7" cy="1983.9" r="8.9"/>
<circle cx="1102" cy="1981.1" r="8.9"/>
<circle cx="1107" cy="1993.1" r="8.9"/>
<circle cx="1089.3" cy="1973" r="8.9"/>
<circle cx="1102.5" cy="1981.7" r="8.9"/>
<circle cx="1125.4" cy="1974.2" r="8.9"/>
<circle cx="1107.2" cy="1983.5" r="8.9"/>
<circle cx="1153.5" cy="2038.7" r="8.9"/>
<circle cx="1130.8" cy="2053.2" r="8.9"/>
<circle cx="1138.2" cy="2060.4" r="8.9"/>
<circle cx="1145.8" cy="2060.4" r="8.9"/>
<circle cx="1153.5" cy="2075.2" r="8.9"/>
<circle cx="1161.1" cy="2068" r="8.9"/>
<circle cx="1168.8" cy="2060.4" r="8.9"/>
<circle cx="1161.1" cy="2082" r="8.9"/>
<circle cx="1168.8" cy="2075.2" r="8.9"/>
<circle cx="1145.8" cy="2111.9" r="8.9"/>
<circle cx="1172.9" cy="2082" r="8.9"/>
<circle cx="1192.2" cy="2038.7" r="8.9"/>
<circle cx="1199.8" cy="2023.9" r="8.9"/>
<circle cx="1207.5" cy="2031" r="8.9"/>
<circle cx="1207.5" cy="2045.8" r="8.9"/>
<circle cx="1253.4" cy="2053.2" r="8.9"/>
<circle cx="1192.2" cy="2074.4" r="8.9"/>
<circle cx="1207.5" cy="2082" r="8.9"/>
<circle cx="1199.8" cy="2089.7" r="8.9"/>
<circle cx="1186.3" cy="2105" r="8.9"/>
<circle cx="1196.5" cy="2119" r="8.9"/>
<circle cx="1206.7" cy="2119" r="8.9"/>
<circle cx="1215.7" cy="2119" r="8.9"/>
<circle cx="1230.2" cy="2111.9" r="8.9"/>
<circle cx="1230.2" cy="2119" r="8.9"/>
<circle cx="1230.2" cy="2126.7" r="8.9"/>
<circle cx="1206.7" cy="2133.1" r="8.9"/>
<circle cx="1215.7" cy="2140.7" r="8.9"/>
<circle cx="1222" cy="2156" r="8.9"/>
<circle cx="1230.2" cy="2156" r="8.9"/>
<circle cx="1238.6" cy="2148.4" r="8.9"/>
<circle cx="1245" cy="2148.4" r="8.9"/>
<circle cx="1230.2" cy="2177.7" r="8.9"/>
<circle cx="1253.4" cy="2126.7" r="8.9"/>
<circle cx="1261.1" cy="2126.7" r="8.9"/>
<circle cx="1276.4" cy="2133.8" r="8.9"/>
<circle cx="1261.1" cy="2141.2" r="8.9"/>
<circle cx="1261.1" cy="2148.4" r="8.9"/>
<circle cx="1268.7" cy="2156" r="8.9"/>
<circle cx="1245" cy="2163.2" r="8.9"/>
<circle cx="1253.4" cy="2170.1" r="8.9"/>
<circle cx="1268.7" cy="2163.2" r="8.9"/>
<circle cx="1253.4" cy="2177.7" r="8.9"/>
<circle cx="1268.7" cy="2177.7" r="8.9"/>
<circle cx="1284" cy="2177.7" r="8.9"/>
<circle cx="1268.7" cy="2184.8" r="8.9"/>
<circle cx="1253.4" cy="2192.5" r="8.9"/>
<circle cx="1284" cy="2199.9" r="8.9"/>
<circle cx="1299.8" cy="2199.9" r="8.9"/>
<circle cx="1253.4" cy="2214.7" r="8.9"/>
<circle cx="1307.5" cy="2229.5" r="8.9"/>
<circle cx="1322.8" cy="2236.4" r="8.9"/>
<circle cx="1315.2" cy="2244" r="8.9"/>
<circle cx="1292.2" cy="2258.8" r="8.9"/>
<circle cx="1315.2" cy="2265.7" r="8.9"/>
<circle cx="1315.2" cy="2273.4" r="8.9"/>
<circle cx="1130.2" cy="1987.7" r="8.9"/>
<circle cx="1122.6" cy="1995.3" r="8.9"/>
<circle cx="1353.4" cy="2302.9" r="8.9"/>
<circle cx="1368.7" cy="2302.9" r="8.9"/>
<circle cx="1353.4" cy="2310.3" r="8.9"/>
<circle cx="1330.5" cy="2325.1" r="8.9"/>
<circle cx="1361.1" cy="2332.4" r="8.9"/>
<circle cx="1353.4" cy="2347" r="8.9"/>
<circle cx="1361.1" cy="2347" r="8.9"/>
<circle cx="1361.1" cy="2354.4" r="8.9"/>
<circle cx="1391.7" cy="2354.4" r="8.9"/>
<circle cx="1399.3" cy="2361.5" r="8.9"/>
<circle cx="1368.7" cy="2383.7" r="8.9"/>
<circle cx="1376.4" cy="2383.7" r="8.9"/>
<circle cx="1384" cy="2390.9" r="8.9"/>
<circle cx="1391.7" cy="2398.5" r="8.9"/>
<circle cx="1399.3" cy="2398.5" r="8.9"/>
<circle cx="1407" cy="2398.5" r="8.9"/>
<circle cx="1407" cy="2413.1" r="8.9"/>
<circle cx="1361.1" cy="2413.1" r="8.9"/>
<circle cx="1415.2" cy="2450.1" r="8.9"/>
<circle cx="1422.8" cy="2472.2" r="8.9"/>
<circle cx="1445.8" cy="2464.6" r="8.9"/>
<circle cx="1445.8" cy="2515.9" r="8.9"/>
<circle cx="1484" cy="2618.9" r="8.9"/>
<circle cx="761.9" cy="1854.5" r="8.9"/>
<circle cx="731.3" cy="1905.8" r="8.9"/>
<circle cx="416" cy="1913.5" r="8.9"/>
<circle cx="446.6" cy="1928" r="8.9"/>
<circle cx="554.2" cy="1883.9" r="8.9"/>
<circle cx="531.3" cy="1854" r="8.9"/>
<circle cx="493" cy="1861.2" r="8.9"/>
<circle cx="538.9" cy="1920.4" r="8.9"/>
<circle cx="416" cy="2001.5" r="8.9"/>
<circle cx="477.2" cy="2038.2" r="8.9"/>
<circle cx="638.9" cy="2016" r="8.9"/>
<circle cx="731.3" cy="2037.7" r="8.9"/>
<circle cx="507.6" cy="1868.1" r="8.9"/>
<circle cx="493" cy="1875.7" r="8.9"/>
<circle cx="499.9" cy="1875.7" r="8.9"/>
<circle cx="515.2" cy="1875.7" r="8.9"/>
<circle cx="530.5" cy="1869.3" r="8.9"/>
<circle cx="522.9" cy="1878.3" r="8.9"/>
<circle cx="533.1" cy="1884.6" r="8.9"/>
<circle cx="484.6" cy="1891" r="8.9"/>
<circle cx="492.2" cy="1893.6" r="8.9"/>
<circle cx="502.4" cy="1891" r="8.9"/>
<circle cx="507.6" cy="1898.7" r="8.9"/>
<circle cx="522.9" cy="1893.6" r="8.9"/>
<circle cx="525.4" cy="1901.2" r="8.9"/>
<circle cx="461.6" cy="1905.8" r="8.9"/>
<circle cx="469.3" cy="1905.8" r="8.9"/>
<circle cx="484.6" cy="1906.3" r="8.9"/>
<circle cx="494.8" cy="1908.9" r="8.9"/>
<circle cx="507.6" cy="1911.4" r="8.9"/>
<circle cx="517.8" cy="1914" r="8.9"/>
<circle cx="525.4" cy="1916.5" r="8.9"/>
<circle cx="482" cy="1920.4" r="8.9"/>
<circle cx="492.2" cy="1924.2" r="8.9"/>
<circle cx="499.9" cy="1926.7" r="8.9"/>
<circle cx="489.7" cy="1934.4" r="8.9"/>
<circle cx="499.9" cy="1936.9" r="8.9"/>
<circle cx="517.8" cy="1929.3" r="8.9"/>
<circle cx="408.1" cy="1957.3" r="8.9"/>
<circle cx="416" cy="1964.5" r="8.9"/>
<circle cx="400.4" cy="1979.5" r="8.9"/>
<circle cx="416" cy="1979.5" r="8.9"/>
<circle cx="423.4" cy="1979.5" r="8.9"/>
<circle cx="431" cy="1971.4" r="8.9"/>
<circle cx="438.7" cy="1979.5" r="8.9"/>
<circle cx="446.3" cy="1964.5" r="8.9"/>
<circle cx="454" cy="1964.5" r="8.9"/>
<circle cx="446.3" cy="1986.7" r="8.9"/>
<circle cx="454" cy="1986.7" r="8.9"/>
<circle cx="438.7" cy="1986.7" r="8.9"/>
<circle cx="446.3" cy="1993.1" r="8.9"/>
<circle cx="469.3" cy="1949.7" r="8.9"/>
<circle cx="476.9" cy="1949.7" r="8.9"/>
<circle cx="469.3" cy="1971.4" r="8.9"/>
<circle cx="466.7" cy="1957.3" r="8.9"/>
<circle cx="507.6" cy="1942" r="8.9"/>
<circle cx="517.8" cy="1947.1" r="8.9"/>
<circle cx="530.5" cy="1942" r="8.9"/>
<circle cx="538.2" cy="1949.7" r="8.9"/>
<circle cx="547.1" cy="1957.3" r="8.9"/>
<circle cx="507.6" cy="1954.8" r="8.9"/>
<circle cx="517.8" cy="1959.9" r="8.9"/>
<circle cx="530.5" cy="1959.9" r="8.9"/>
<circle cx="540.7" cy="1971.4" r="8.9"/>
<circle cx="513.6" cy="1975" r="8.9"/>
<circle cx="533.2" cy="2010.2" r="8.9"/>
<circle cx="530.7" cy="1986.7" r="8.9"/>
<circle cx="548.5" cy="2001.5" r="8.9"/>
<circle cx="553.4" cy="2008" r="8.9"/>
<circle cx="559.2" cy="1991" r="8.9"/>
<circle cx="491.1" cy="1968.8" r="8.9"/>
<circle cx="547.6" cy="1970.2" r="8.9"/>
<circle cx="540.8" cy="2004.9" r="8.9"/>
<circle cx="559.3" cy="1973.9" r="8.9"/>
<circle cx="547.9" cy="2013.4" r="8.9"/>
<circle cx="488.1" cy="2008.6" r="8.9"/>
<circle cx="481" cy="1981.7" r="8.9"/>
<circle cx="537.3" cy="2003.9" r="8.9"/>
<circle cx="559.9" cy="1980.4" r="8.9"/>
<circle cx="490.2" cy="2008.4" r="8.9"/>
<circle cx="516.2" cy="2008.1" r="8.9"/>
<circle cx="524.7" cy="1987.6" r="8.9"/>
<circle cx="521.3" cy="2013.1" r="8.9"/>
<circle cx="518" cy="2014.3" r="8.9"/>
<circle cx="529.4" cy="2024.7" r="8.9"/>
<circle cx="540.8" cy="1982" r="8.9"/>
<circle cx="562.7" cy="2014.8" r="8.9"/>
<circle cx="486.5" cy="2007.9" r="8.9"/>
<circle cx="540.9" cy="2014.7" r="8.9"/>
<circle cx="536.3" cy="1989.4" r="8.9"/>
<circle cx="499.7" cy="1990.8" r="8.9"/>
<circle cx="548.6" cy="2009.4" r="8.9"/>
<circle cx="516.5" cy="1991.8" r="8.9"/>
<circle cx="496.7" cy="2009.9" r="8.9"/>
<circle cx="503.2" cy="2026" r="8.9"/>
<circle cx="508.1" cy="2028.1" r="8.9"/>
<circle cx="513.5" cy="2025.1" r="8.9"/>
<circle cx="550.4" cy="2013.4" r="8.9"/>
<circle cx="497" cy="1969.9" r="8.9"/>
<circle cx="542" cy="1962.3" r="8.9"/>
<circle cx="499.3" cy="2000.7" r="8.9"/>
<circle cx="491.1" cy="1982.5" r="8.9"/>
<circle cx="498.4" cy="2009.1" r="8.9"/>
<circle cx="535.2" cy="2011.9" r="8.9"/>
<circle cx="530.6" cy="1995.4" r="8.9"/>
<circle cx="534.3" cy="2029.4" r="8.9"/>
<circle cx="539.2" cy="1996.6" r="8.9"/>
<circle cx="540.3" cy="1970.9" r="8.9"/>
<circle cx="548.1" cy="2017.3" r="8.9"/>
<circle cx="482.8" cy="1996.4" r="8.9"/>
<circle cx="534.9" cy="1984.3" r="8.9"/>
<circle cx="543.5" cy="2027.9" r="8.9"/>
<circle cx="565.8" cy="1980.9" r="8.9"/>
<circle cx="490.8" cy="2022.7" r="8.9"/>
<circle cx="536.5" cy="2020.8" r="8.9"/>
<circle cx="562.1" cy="1978.7" r="8.9"/>
<circle cx="534.1" cy="1980.6" r="8.9"/>
<circle cx="555" cy="2010.3" r="8.9"/>
<circle cx="499.4" cy="1995.6" r="8.9"/>
<circle cx="534.8" cy="1975.2" r="8.9"/>
<circle cx="493.8" cy="1993.6" r="8.9"/>
<circle cx="482.8" cy="1995.2" r="8.9"/>
<circle cx="546.9" cy="2011.5" r="8.9"/>
<circle cx="495.1" cy="2018.8" r="8.9"/>
<circle cx="507.7" cy="1985.4" r="8.9"/>
<circle cx="492.8" cy="2023.7" r="8.9"/>
<circle cx="497.7" cy="2024.1" r="8.9"/>
<circle cx="526.8" cy="1968.7" r="8.9"/>
<circle cx="540.8" cy="1998" r="8.9"/>
<circle cx="551.9" cy="2013" r="8.9"/>
<circle cx="514" cy="1971.6" r="8.9"/>
<circle cx="528.1" cy="2002.2" r="8.9"/>
<circle cx="544.3" cy="1994.8" r="8.9"/>
<circle cx="532.2" cy="2012.5" r="8.9"/>
<circle cx="494.5" cy="1971.2" r="8.9"/>
<circle cx="523.9" cy="2015.1" r="8.9"/>
<circle cx="555.5" cy="2022.7" r="8.9"/>
<circle cx="519.3" cy="2012" r="8.9"/>
<circle cx="486.2" cy="1987.1" r="8.9"/>
<circle cx="550.5" cy="1985.8" r="8.9"/>
<circle cx="512.5" cy="1984.2" r="8.9"/>
<circle cx="561.6" cy="1970.6" r="8.9"/>
<circle cx="559.5" cy="1981.5" r="8.9"/>
<circle cx="565.5" cy="1981.3" r="8.9"/>
<circle cx="558.9" cy="1972.3" r="8.9"/>
<circle cx="563.1" cy="2010.3" r="8.9"/>
<circle cx="560.2" cy="2017" r="8.9"/>
<circle cx="510.1" cy="1970.2" r="8.9"/>
<circle cx="565.2" cy="1993.5" r="8.9"/>
<circle cx="528.4" cy="2025.2" r="8.9"/>
<circle cx="523.8" cy="1976.7" r="8.9"/>
<circle cx="543.9" cy="1998.1" r="8.9"/>
<circle cx="502.8" cy="2010.3" r="8.9"/>
<circle cx="565.6" cy="1976.2" r="8.9"/>
<circle cx="556.5" cy="2015" r="8.9"/>
<circle cx="527.6" cy="1972.1" r="8.9"/>
<circle cx="541.8" cy="1978.9" r="8.9"/>
<circle cx="500.6" cy="2022.7" r="8.9"/>
<circle cx="502.6" cy="1964.4" r="8.9"/>
<circle cx="506" cy="1988.3" r="8.9"/>
<circle cx="529.8" cy="2015" r="8.9"/>
<circle cx="516.9" cy="2029.6" r="8.9"/>
<circle cx="520.4" cy="2007.5" r="8.9"/>
<circle cx="505.1" cy="1985.6" r="8.9"/>
<circle cx="492.9" cy="1989.6" r="8.9"/>
<circle cx="484.4" cy="2000.7" r="8.9"/>
<circle cx="537.5" cy="2032.5" r="8.9"/>
<circle cx="548.1" cy="2005.9" r="8.9"/>
<circle cx="521.2" cy="1963.6" r="8.9"/>
<circle cx="555.7" cy="2010.1" r="8.9"/>
<circle cx="532.1" cy="1991.9" r="8.9"/>
<circle cx="518.5" cy="1978" r="8.9"/>
<circle cx="479.1" cy="2004.7" r="8.9"/>
<circle cx="537.1" cy="1964" r="8.9"/>
<circle cx="561.7" cy="1998.5" r="8.9"/>
<circle cx="514" cy="1993.4" r="8.9"/>
<circle cx="512.5" cy="2030.5" r="8.9"/>
<circle cx="527.4" cy="1996.5" r="8.9"/>
<circle cx="544" cy="1979.5" r="8.9"/>
<circle cx="502.5" cy="1978" r="8.9"/>
<circle cx="524.6" cy="1964.1" r="8.9"/>
<circle cx="527.8" cy="1969.6" r="8.9"/>
<circle cx="555.5" cy="1977.9" r="8.9"/>
<circle cx="554.1" cy="2018.6" r="8.9"/>
<circle cx="524.8" cy="1963.6" r="8.9"/>
<circle cx="530.9" cy="2028.8" r="8.9"/>
<circle cx="553.4" cy="2006.9" r="8.9"/>
<circle cx="512" cy="2030" r="8.9"/>
<circle cx="490.2" cy="1980.2" r="8.9"/>
<circle cx="494.2" cy="1992.4" r="8.9"/>
<circle cx="529.6" cy="1976.6" r="8.9"/>
<circle cx="526.3" cy="1989.2" r="8.9"/>
<circle cx="510.5" cy="1994.1" r="8.9"/>
<circle cx="510.1" cy="1986.9" r="8.9"/>
<circle cx="551.7" cy="1968.7" r="8.9"/>
<circle cx="485.2" cy="1991.6" r="8.9"/>
<circle cx="504.5" cy="1993.7" r="8.9"/>
<circle cx="498.6" cy="1983.8" r="8.9"/>
<circle cx="486.8" cy="1979.5" r="8.9"/>
<circle cx="501.6" cy="1975.7" r="8.9"/>
<circle cx="508.8" cy="2029.3" r="8.9"/>
<circle cx="526.9" cy="2026.2" r="8.9"/>
<circle cx="528.1" cy="2014.7" r="8.9"/>
<circle cx="542.3" cy="2002.7" r="8.9"/>
<circle cx="567.6" cy="2002.8" r="8.9"/>
<circle cx="525.8" cy="1974.9" r="8.9"/>
<circle cx="485.5" cy="1990.2" r="8.9"/>
<circle cx="516.1" cy="1967.3" r="8.9"/>
<circle cx="519.6" cy="1976.2" r="8.9"/>
<circle cx="516.3" cy="2021.4" r="8.9"/>
<circle cx="571.6" cy="1987.8" r="8.9"/>
<circle cx="546.5" cy="2025.6" r="8.9"/>
<circle cx="504.5" cy="1987.7" r="8.9"/>
<circle cx="518.8" cy="2021.4" r="8.9"/>
<circle cx="505.8" cy="2026" r="8.9"/>
<circle cx="494.1" cy="2009.5" r="8.9"/>
<circle cx="538.4" cy="1959.9" r="8.9"/>
<circle cx="508.2" cy="2021.3" r="8.9"/>
<circle cx="515.6" cy="1961.7" r="8.9"/>
<circle cx="522.4" cy="1998.7" r="8.9"/>
<circle cx="522.4" cy="1989.6" r="8.9"/>
<circle cx="569" cy="2008.7" r="8.9"/>
<circle cx="519.9" cy="1991.5" r="8.9"/>
<circle cx="552.2" cy="1975.6" r="8.9"/>
<circle cx="523.6" cy="2015.5" r="8.9"/>
<circle cx="480.7" cy="2008.6" r="8.9"/>
<circle cx="555.3" cy="2008" r="8.9"/>
<circle cx="537.3" cy="1959.8" r="8.9"/>
<circle cx="511.9" cy="1992.7" r="8.9"/>
<circle cx="509.2" cy="1976.5" r="8.9"/>
<circle cx="512.6" cy="1974.7" r="8.9"/>
<circle cx="482.6" cy="2001.1" r="8.9"/>
<circle cx="478.1" cy="1990.5" r="8.9"/>
<circle cx="515.6" cy="2019.4" r="8.9"/>
<circle cx="545.9" cy="1992.4" r="8.9"/>
<circle cx="547.7" cy="2006.2" r="8.9"/>
<circle cx="574.2" cy="1995" r="8.9"/>
<circle cx="515" cy="1998.2" r="8.9"/>
<circle cx="486.1" cy="2005.3" r="8.9"/>
<circle cx="488.8" cy="2008.6" r="8.9"/>
<circle cx="536.5" cy="2009.8" r="8.9"/>
<circle cx="494" cy="2011.9" r="8.9"/>
<circle cx="551.8" cy="1969.4" r="8.9"/>
<circle cx="552.7" cy="1970.9" r="8.9"/>
<circle cx="477.3" cy="1988.1" r="8.9"/>
<circle cx="568.2" cy="1977.2" r="8.9"/>
<circle cx="562.2" cy="1984.1" r="8.9"/>
<circle cx="557.1" cy="1966.9" r="8.9"/>
<circle cx="569.3" cy="1991.4" r="8.9"/>
<circle cx="499.1" cy="1991.4" r="8.9"/>
<circle cx="522.9" cy="2003" r="8.9"/>
<circle cx="574.8" cy="1997.2" r="8.9"/>
<circle cx="509.1" cy="1977.4" r="8.9"/>
<circle cx="545.3" cy="1977.6" r="8.9"/>
<circle cx="550.9" cy="2010.2" r="8.9"/>
<circle cx="539.3" cy="1991.9" r="8.9"/>
<circle cx="551.1" cy="1971.6" r="8.9"/>
<circle cx="520.2" cy="2006.6" r="8.9"/>
<circle cx="570.4" cy="1996" r="8.9"/>
<circle cx="523.6" cy="1962.6" r="8.9"/>
<circle cx="482.1" cy="1977.9" r="8.9"/>
<circle cx="543" cy="1973.8" r="8.9"/>
<circle cx="550.8" cy="2006.5" r="8.9"/>
<circle cx="504.2" cy="1997.3" r="8.9"/>
<circle cx="538" cy="2014.9" r="8.9"/>
<circle cx="571.8" cy="1982.8" r="8.9"/>
<circle cx="539.1" cy="2019" r="8.9"/>
<circle cx="505.8" cy="2016.7" r="8.9"/>
<circle cx="516.9" cy="1965.7" r="8.9"/>
<circle cx="527.1" cy="2009.2" r="8.9"/>
<circle cx="566.6" cy="2015.2" r="8.9"/>
<circle cx="530.1" cy="2022.8" r="8.9"/>
<circle cx="560.3" cy="2004.2" r="8.9"/>
<circle cx="534" cy="1958.4" r="8.9"/>
<circle cx="501.4" cy="2010.1" r="8.9"/>
<circle cx="548.8" cy="1982.1" r="8.9"/>
<circle cx="535.5" cy="2025.1" r="8.9"/>
<circle cx="547.8" cy="1983" r="8.9"/>
<circle cx="499.6" cy="2019.2" r="8.9"/>
<circle cx="553.6" cy="2024.5" r="8.9"/>
<circle cx="558.9" cy="2018.3" r="8.9"/>
<circle cx="514.6" cy="2015.2" r="8.9"/>
<circle cx="551.7" cy="2020.3" r="8.9"/>
<circle cx="532.9" cy="2026.9" r="8.9"/>
<circle cx="527.1" cy="2017.1" r="8.9"/>
<circle cx="535.8" cy="1979.6" r="8.9"/>
<circle cx="524.5" cy="2020.2" r="8.9"/>
<circle cx="503.4" cy="2028.1" r="8.9"/>
<circle cx="548.5" cy="2017.7" r="8.9"/>
<circle cx="528.1" cy="2011.6" r="8.9"/>
<circle cx="538.9" cy="1989.1" r="8.9"/>
<circle cx="544.3" cy="1999.8" r="8.9"/>
<circle cx="515.5" cy="1999.2" r="8.9"/>
<circle cx="486.1" cy="2006.6" r="8.9"/>
<circle cx="510" cy="1872.3" r="8.9"/>
<circle cx="497" cy="1885.4" r="8.9"/>
<circle cx="513.4" cy="1915.5" r="8.9"/>
<circle cx="502.2" cy="1872.6" r="8.9"/>
<circle cx="495" cy="1904.1" r="8.9"/>
<circle cx="510.4" cy="1906.8" r="8.9"/>
<circle cx="495" cy="1909.7" r="8.9"/>
<circle cx="515.9" cy="1916.9" r="8.9"/>
<circle cx="499.3" cy="1880.9" r="8.9"/>
<circle cx="521.3" cy="1892.9" r="8.9"/>
<circle cx="517.4" cy="1910.7" r="8.9"/>
<circle cx="516" cy="1919" r="8.9"/>
<circle cx="506.3" cy="1935.2" r="8.9"/>
<circle cx="500.7" cy="1907.2" r="8.9"/>
<circle cx="516.8" cy="1911.6" r="8.9"/>
<circle cx="517.9" cy="1908.9" r="8.9"/>
<circle cx="512.3" cy="1873.7" r="8.9"/>
<circle cx="495.3" cy="1889.8" r="8.9"/>
<circle cx="490" cy="1886.1" r="8.9"/>
<circle cx="490.8" cy="1889" r="8.9"/>
<circle cx="509.8" cy="1894.8" r="8.9"/>
<circle cx="500.4" cy="1884.5" r="8.9"/>
<circle cx="496.7" cy="1932.7" r="8.9"/>
<circle cx="510.3" cy="1911" r="8.9"/>
<circle cx="493.3" cy="1919" r="8.9"/>
<circle cx="493" cy="1895.8" r="8.9"/>
<circle cx="507" cy="1916" r="8.9"/>
<circle cx="517.2" cy="1922.1" r="8.9"/>
<circle cx="498.4" cy="1888.4" r="8.9"/>
<circle cx="518.4" cy="1891.5" r="8.9"/>
<circle cx="510.6" cy="1896.9" r="8.9"/>
<circle cx="519.8" cy="1901" r="8.9"/>
<circle cx="496.6" cy="1887" r="8.9"/>
<circle cx="507.2" cy="1888" r="8.9"/>
<circle cx="508" cy="1930.2" r="8.9"/>
<circle cx="501.4" cy="1885.2" r="8.9"/>
<circle cx="522.8" cy="1904.4" r="8.9"/>
<circle cx="491.1" cy="1912.2" r="8.9"/>
<circle cx="515.4" cy="1898.6" r="8.9"/>
<circle cx="489.4" cy="1895.9" r="8.9"/>
<circle cx="522.7" cy="1905.7" r="8.9"/>
<circle cx="511.5" cy="1906.2" r="8.9"/>
<circle cx="496.7" cy="1913.1" r="8.9"/>
<circle cx="491.1" cy="1899.4" r="8.9"/>
<circle cx="503.3" cy="1933.9" r="8.9"/>
<circle cx="518.4" cy="1888.1" r="8.9"/>
<circle cx="505" cy="1882.5" r="8.9"/>
<circle cx="497.8" cy="1913" r="8.9"/>
<circle cx="508.9" cy="1880.7" r="8.9"/>
<circle cx="514.4" cy="1906.4" r="8.9"/>
<circle cx="515" cy="1905.8" r="8.9"/>
<circle cx="498.1" cy="1874.5" r="8.9"/>
<circle cx="490.2" cy="1902.8" r="8.9"/>
<circle cx="514.5" cy="1879.1" r="8.9"/>
<circle cx="504.1" cy="1907.1" r="8.9"/>
<circle cx="496.6" cy="1928.5" r="8.9"/>
<circle cx="502.3" cy="1884.7" r="8.9"/>
<circle cx="506.4" cy="1919" r="8.9"/>
<circle cx="494.3" cy="1891.3" r="8.9"/>
<circle cx="502.8" cy="1904.9" r="8.9"/>
<circle cx="499.9" cy="1950.9" r="8.9"/>
<circle cx="518.8" cy="1962.7" r="8.9"/>
<circle cx="511" cy="1952.2" r="8.9"/>
<circle cx="495.5" cy="1949.8" r="8.9"/>
<circle cx="508.1" cy="1964.8" r="8.9"/>
<circle cx="514.3" cy="1961.4" r="8.9"/>
<circle cx="510.3" cy="1940.7" r="8.9"/>
<circle cx="525.2" cy="1963.7" r="8.9"/>
<circle cx="508.2" cy="1937.8" r="8.9"/>
<circle cx="513.1" cy="1952.1" r="8.9"/>
<circle cx="522.4" cy="1955.7" r="8.9"/>
<circle cx="512.9" cy="1954.9" r="8.9"/>
<circle cx="508.3" cy="1936.1" r="8.9"/>
<circle cx="524.8" cy="1945" r="8.9"/>
<circle cx="526.5" cy="1953" r="8.9"/>
<circle cx="515.7" cy="1967.7" r="8.9"/>
<circle cx="519.1" cy="1937.7" r="8.9"/>
<circle cx="517" cy="1962.5" r="8.9"/>
<circle cx="526.9" cy="1946.2" r="8.9"/>
<circle cx="513.7" cy="1959.4" r="8.9"/>
<circle cx="500.8" cy="1964.7" r="8.9"/>
<circle cx="515.9" cy="1947.5" r="8.9"/>
<circle cx="501.4" cy="1956" r="8.9"/>
<circle cx="529.4" cy="1954.1" r="8.9"/>
<circle cx="498.8" cy="1952.1" r="8.9"/>
<circle cx="568.8" cy="1971.9" r="8.9"/>
<circle cx="576.4" cy="1979" r="8.9"/>
<circle cx="584.1" cy="1986.7" r="8.9"/>
<circle cx="591.7" cy="1964.5" r="8.9"/>
<circle cx="599.4" cy="1971.4" r="8.9"/>
<circle cx="607" cy="1979" r="8.9"/>
<circle cx="614.7" cy="1986.7" r="8.9"/>
<circle cx="607" cy="1993.1" r="8.9"/>
<circle cx="591.7" cy="2000.7" r="8.9"/>
<circle cx="599.4" cy="2016" r="8.9"/>
<circle cx="614.7" cy="2008.4" r="8.9"/>
<circle cx="614.7" cy="2016" r="8.9"/>
<circle cx="626.2" cy="1994.3" r="8.9"/>
<circle cx="632.6" cy="1994.3" r="8.9"/>
<circle cx="584.1" cy="2023.7" r="8.9"/>
<circle cx="576.4" cy="2031.3" r="8.9"/>
<circle cx="645.3" cy="1979" r="8.9"/>
<circle cx="654.2" cy="1979" r="8.9"/>
<circle cx="654.2" cy="1986.7" r="8.9"/>
<circle cx="654.2" cy="1994.3" r="8.9"/>
<circle cx="677.2" cy="1979" r="8.9"/>
<circle cx="684.8" cy="1979" r="8.9"/>
<circle cx="692.5" cy="1964.5" r="8.9"/>
<circle cx="692.5" cy="1979" r="8.9"/>
<circle cx="677.2" cy="1986.7" r="8.9"/>
<circle cx="669.5" cy="2008.4" r="8.9"/>
<circle cx="677.2" cy="2016" r="8.9"/>
<circle cx="677.2" cy="2000.7" r="8.9"/>
<circle cx="698.9" cy="2000.7" r="8.9"/>
<circle cx="707.8" cy="2002" r="8.9"/>
<circle cx="715.5" cy="2008.4" r="8.9"/>
<circle cx="715.5" cy="1949.7" r="8.9"/>
<circle cx="723.1" cy="1957.3" r="8.9"/>
<circle cx="715.5" cy="1971.9" r="8.9"/>
<circle cx="723.1" cy="1971.9" r="8.9"/>
<circle cx="723.1" cy="1979" r="8.9"/>
<circle cx="730.8" cy="1986.7" r="8.9"/>
<circle cx="738.4" cy="1979" r="8.9"/>
<circle cx="746.1" cy="1979" r="8.9"/>
<circle cx="753.7" cy="1986.7" r="8.9"/>
<circle cx="761.4" cy="1971.9" r="8.9"/>
<circle cx="769" cy="1971.9" r="8.9"/>
<circle cx="761.4" cy="1979" r="8.9"/>
<circle cx="769" cy="1986.7" r="8.9"/>
<circle cx="776.7" cy="1979" r="8.9"/>
<circle cx="746.1" cy="1994.3" r="8.9"/>
<circle cx="753.7" cy="2000.7" r="8.9"/>
<circle cx="761.4" cy="2008.4" r="8.9"/>
<circle cx="769" cy="2016" r="8.9"/>
<circle cx="746.1" cy="2016" r="8.9"/>
<circle cx="761.4" cy="2023.2" r="8.9"/>
<circle cx="776.7" cy="1994.3" r="8.9"/>
<circle cx="776.7" cy="2023.7" r="8.9"/>
<circle cx="515.2" cy="2039" r="8.9"/>
<circle cx="507.6" cy="2046.6" r="8.9"/>
<circle cx="515.2" cy="2054.3" r="8.9"/>
<circle cx="522.9" cy="2054.3" r="8.9"/>
<circle cx="538.2" cy="2039" r="8.9"/>
<circle cx="553.5" cy="2037.7" r="8.9"/>
<circle cx="561.1" cy="2046.6" r="8.9"/>
<circle cx="553.5" cy="2053" r="8.9"/>
<circle cx="538.2" cy="2059.9" r="8.9"/>
<circle cx="561.1" cy="2060.7" r="8.9"/>
<circle cx="499.9" cy="2067" r="8.9"/>
<circle cx="507.6" cy="2074.7" r="8.9"/>
<circle cx="530.5" cy="2074.7" r="8.9"/>
<circle cx="554.2" cy="2074.7" r="8.9"/>
<circle cx="507.6" cy="2082.3" r="8.9"/>
<circle cx="499.9" cy="2089.5" r="8.9"/>
<circle cx="591.7" cy="2037.7" r="8.9"/>
<circle cx="591.7" cy="2045.4" r="8.9"/>
<circle cx="584.1" cy="2059.4" r="8.9"/>
<circle cx="591.7" cy="2067" r="8.9"/>
<circle cx="584.1" cy="2074.7" r="8.9"/>
<circle cx="591.7" cy="2082.3" r="8.9"/>
<circle cx="591.7" cy="2089.5" r="8.9"/>
<circle cx="584.1" cy="2096.4" r="8.9"/>
<circle cx="599.4" cy="2059.9" r="8.9"/>
<circle cx="614.7" cy="2045.4" r="8.9"/>
<circle cx="622.3" cy="2037.7" r="8.9"/>
<circle cx="614.7" cy="2053" r="8.9"/>
<circle cx="622.3" cy="2053" r="8.9"/>
<circle cx="631.3" cy="2053" r="8.9"/>
<circle cx="614.7" cy="2059.9" r="8.9"/>
<circle cx="614.7" cy="2074.7" r="8.9"/>
<circle cx="631.3" cy="2074.7" r="8.9"/>
<circle cx="614.7" cy="2082.3" r="8.9"/>
<circle cx="631.3" cy="2089.5" r="8.9"/>
<circle cx="700.2" cy="2045.4" r="8.9"/>
<circle cx="707.8" cy="2053" r="8.9"/>
<circle cx="692.5" cy="2067" r="8.9"/>
<circle cx="700.2" cy="2067" r="8.9"/>
<circle cx="715.5" cy="2067" r="8.9"/>
<circle cx="723.1" cy="2059.9" r="8.9"/>
<circle cx="730.8" cy="2067" r="8.9"/>
<circle cx="723.1" cy="2074.7" r="8.9"/>
<circle cx="730.8" cy="2074.7" r="8.9"/>
<circle cx="738.4" cy="2082.3" r="8.9"/>
<circle cx="700.2" cy="2082.3" r="8.9"/>
<circle cx="769" cy="2045.4" r="8.9"/>
<circle cx="761.4" cy="2059.9" r="8.9"/>
<circle cx="769" cy="2059.9" r="8.9"/>
<circle cx="669.5" cy="2089.5" r="8.9"/>
<circle cx="677.2" cy="2089.5" r="8.9"/>
<circle cx="684.8" cy="2089.5" r="8.9"/>
<circle cx="677.2" cy="2104" r="8.9"/>
<circle cx="684.8" cy="2104" r="8.9"/>
<circle cx="677.2" cy="2118.1" r="8.9"/>
<circle cx="692.5" cy="2125.7" r="8.9"/>
<circle cx="700.2" cy="2118.1" r="8.9"/>
<circle cx="715.5" cy="2111.7" r="8.9"/>
<circle cx="723.1" cy="2118.1" r="8.9"/>
<circle cx="723.1" cy="2125.7" r="8.9"/>
<circle cx="661.9" cy="2125.7" r="8.9"/>
<circle cx="654.2" cy="2118.1" r="8.9"/>
<circle cx="646.6" cy="2125.7" r="8.9"/>
<circle cx="638.9" cy="2125.7" r="8.9"/>
<circle cx="623.6" cy="2118.1" r="8.9"/>
<circle cx="591.7" cy="2125.7" r="8.9"/>
<circle cx="599.4" cy="2133.4" r="8.9"/>
<circle cx="607" cy="2133.4" r="8.9"/>
<circle cx="669.5" cy="2133.4" r="8.9"/>
<circle cx="775.4" cy="2097.7" r="8.9"/>
<circle cx="569.5" cy="2148.4" r="8.9"/>
<circle cx="600.7" cy="2148.4" r="8.9"/>
<circle cx="608.3" cy="2155.5" r="8.9"/>
<circle cx="619.8" cy="2148.4" r="8.9"/>
<circle cx="626.2" cy="2148.4" r="8.9"/>
<circle cx="616" cy="2140.2" r="8.9"/>
<circle cx="631.3" cy="2163.2" r="8.9"/>
<circle cx="631.3" cy="2170.8" r="8.9"/>
<circle cx="622.3" cy="2163.2" r="8.9"/>
<circle cx="646.6" cy="2148.4" r="8.9"/>
<circle cx="669.5" cy="2155.5" r="8.9"/>
<circle cx="677.2" cy="2155.5" r="8.9"/>
<circle cx="661.9" cy="2148.4" r="8.9"/>
<circle cx="692.5" cy="2155.5" r="8.9"/>
<circle cx="707.8" cy="2163.2" r="8.9"/>
<circle cx="715.5" cy="2163.2" r="8.9"/>
<circle cx="715.5" cy="2155.5" r="8.9"/>
<circle cx="723.1" cy="2142.8" r="8.9"/>
<circle cx="732" cy="2148.4" r="8.9"/>
<circle cx="746.1" cy="2148.4" r="8.9"/>
<circle cx="746.1" cy="2155.5" r="8.9"/>
<circle cx="707.8" cy="2148.4" r="8.9"/>
<circle cx="684.8" cy="2142.8" r="8.9"/>
<circle cx="569.5" cy="2170.8" r="8.9"/>
<circle cx="569.5" cy="2178.5" r="8.9"/>
<circle cx="577.2" cy="2185.6" r="8.9"/>
<circle cx="584.8" cy="2170.8" r="8.9"/>
<circle cx="592.5" cy="2170.8" r="8.9"/>
<circle cx="600.7" cy="2170.8" r="8.9"/>
<circle cx="608.3" cy="2185.6" r="8.9"/>
<circle cx="592.5" cy="2200.2" r="8.9"/>
<circle cx="584.8" cy="2207.8" r="8.9"/>
<circle cx="584.8" cy="2214.9" r="8.9"/>
<circle cx="546.6" cy="2200.2" r="8.9"/>
<circle cx="585.1" cy="2182" r="8.9"/>
<circle cx="599" cy="2173.1" r="8.9"/>
<circle cx="577.4" cy="2181.4" r="8.9"/>
<circle cx="584.2" cy="2178.7" r="8.9"/>
<circle cx="593.8" cy="2176.8" r="8.9"/>
<circle cx="591.5" cy="2171.5" r="8.9"/>
<circle cx="591.7" cy="2192.5" r="8.9"/>
<circle cx="573.7" cy="2178.2" r="8.9"/>
<circle cx="587.2" cy="2191.2" r="8.9"/>
<circle cx="578.4" cy="2175.1" r="8.9"/>
<circle cx="593.2" cy="2188.8" r="8.9"/>
<circle cx="586" cy="2169.7" r="8.9"/>
<circle cx="594.4" cy="2186.8" r="8.9"/>
<circle cx="592.6" cy="2176.8" r="8.9"/>
<circle cx="598" cy="2184.2" r="8.9"/>
<circle cx="590.7" cy="2182" r="8.9"/>
<circle cx="579.7" cy="2179.9" r="8.9"/>
<circle cx="596.9" cy="2185.5" r="8.9"/>
<circle cx="738.4" cy="2236.6" r="8.9"/>
<circle cx="746.1" cy="2251.7" r="8.9"/>
<circle cx="761.9" cy="2236.6" r="8.9"/>
<circle cx="769" cy="2221.8" r="8.9"/>
<circle cx="761.9" cy="2244" r="8.9"/>
<circle cx="769" cy="2258.8" r="8.9"/>
<circle cx="776.7" cy="2251.7" r="8.9"/>
<circle cx="761.9" cy="2288.2" r="8.9"/>
<circle cx="779.2" cy="2192.5" r="8.9"/>
<circle cx="421.7" cy="1976.5" r="8.9"/>
<circle cx="417.1" cy="1985.4" r="8.9"/>
<circle cx="421" cy="1977.9" r="8.9"/>
<circle cx="460.1" cy="1973.5" r="8.9"/>
<circle cx="438.8" cy="1980" r="8.9"/>
<circle cx="441" cy="1972.5" r="8.9"/>
<circle cx="434.9" cy="1985.3" r="8.9"/>
<circle cx="418" cy="1979.7" r="8.9"/>
<circle cx="428.7" cy="1984.4" r="8.9"/>
<circle cx="418.9" cy="1983.7" r="8.9"/>
<circle cx="432.7" cy="1985.9" r="8.9"/>
<circle cx="434.4" cy="1987.8" r="8.9"/>
<circle cx="454.4" cy="1985.4" r="8.9"/>
<circle cx="441.3" cy="1967.3" r="8.9"/>
<circle cx="463.4" cy="1975.4" r="8.9"/>
<circle cx="616" cy="1985.9" r="8.9"/>
<circle cx="627" cy="1982.4" r="8.9"/>
<circle cx="588.3" cy="1979.6" r="8.9"/>
<circle cx="611.2" cy="1965.2" r="8.9"/>
<circle cx="590.7" cy="1976.3" r="8.9"/>
<circle cx="618.7" cy="1982.8" r="8.9"/>
<circle cx="608.4" cy="1994.5" r="8.9"/>
<circle cx="624" cy="1988.6" r="8.9"/>
<circle cx="586.2" cy="1987.6" r="8.9"/>
<circle cx="606" cy="1971.9" r="8.9"/>
<circle cx="614.6" cy="2001" r="8.9"/>
<circle cx="612.5" cy="1983.3" r="8.9"/>
<circle cx="612.4" cy="1988" r="8.9"/>
<circle cx="602.3" cy="1971.6" r="8.9"/>
<circle cx="585.3" cy="1971.9" r="8.9"/>
<circle cx="585.5" cy="1991.2" r="8.9"/>
<circle cx="594.6" cy="1989.2" r="8.9"/>
<circle cx="600.9" cy="1988.8" r="8.9"/>
<circle cx="617" cy="1999.5" r="8.9"/>
<circle cx="622.5" cy="2001.3" r="8.9"/>
<circle cx="602.1" cy="2007.4" r="8.9"/>
<circle cx="620.4" cy="1974.6" r="8.9"/>
<circle cx="680.8" cy="2005.7" r="8.9"/>
<circle cx="675.9" cy="1999.3" r="8.9"/>
<circle cx="690.6" cy="1992.5" r="8.9"/>
<circle cx="684.4" cy="1999.9" r="8.9"/>
<circle cx="684.7" cy="1983.2" r="8.9"/>
<circle cx="684.6" cy="1979.9" r="8.9"/>
<circle cx="672.9" cy="1989.6" r="8.9"/>
<circle cx="668.9" cy="1978.8" r="8.9"/>
<circle cx="760.4" cy="1985.9" r="8.9"/>
<circle cx="781" cy="1981.1" r="8.9"/>
<circle cx="754.8" cy="1990.2" r="8.9"/>
<circle cx="751.5" cy="2005.5" r="8.9"/>
<circle cx="776.9" cy="1996.9" r="8.9"/>
<circle cx="760" cy="1991.1" r="8.9"/>
<circle cx="759.7" cy="1987.4" r="8.9"/>
<circle cx="779.5" cy="1976.2" r="8.9"/>
<circle cx="745.4" cy="1976.4" r="8.9"/>
<circle cx="754.4" cy="2004.9" r="8.9"/>
<circle cx="745.6" cy="1974.2" r="8.9"/>
<circle cx="769.5" cy="1969.9" r="8.9"/>
<circle cx="767.8" cy="1984.2" r="8.9"/>
<circle cx="761.6" cy="2008.8" r="8.9"/>
<circle cx="744.2" cy="1992.7" r="8.9"/>
<circle cx="732.9" cy="1985.9" r="8.9"/>
<circle cx="744" cy="1979.3" r="8.9"/>
<circle cx="752.1" cy="1983.3" r="8.9"/>
<circle cx="777.7" cy="1980.4" r="8.9"/>
<circle cx="747.1" cy="1980" r="8.9"/>
<circle cx="771.1" cy="1967.4" r="8.9"/>
<circle cx="735" cy="1986.9" r="8.9"/>
<circle cx="743.8" cy="1984.9" r="8.9"/>
<circle cx="757.4" cy="1979.6" r="8.9"/>
<circle cx="747.6" cy="1976.3" r="8.9"/>
<circle cx="582.8" cy="2060.2" r="8.9"/>
<circle cx="600.4" cy="2060.5" r="8.9"/>
<circle cx="586.7" cy="2044.4" r="8.9"/>
<circle cx="595.9" cy="2052.1" r="8.9"/>
<circle cx="588.9" cy="2046.6" r="8.9"/>
<circle cx="597.3" cy="2047.5" r="8.9"/>
<circle cx="592.6" cy="2055.8" r="8.9"/>
<circle cx="595.1" cy="2031.7" r="8.9"/>
<circle cx="584.9" cy="2058.8" r="8.9"/>
<circle cx="593.5" cy="2064.2" r="8.9"/>
<circle cx="631.5" cy="2052.2" r="8.9"/>
<circle cx="616.4" cy="2051.1" r="8.9"/>
<circle cx="614.8" cy="2042.2" r="8.9"/>
<circle cx="613.4" cy="2037.2" r="8.9"/>
<circle cx="608.3" cy="2058.3" r="8.9"/>
<circle cx="619" cy="2046.9" r="8.9"/>
<circle cx="620.8" cy="2052.2" r="8.9"/>
<circle cx="615.5" cy="2056.9" r="8.9"/>
<circle cx="605.8" cy="2055.6" r="8.9"/>
<circle cx="622.6" cy="2040.9" r="8.9"/>
<circle cx="693.2" cy="2063.4" r="8.9"/>
<circle cx="692.1" cy="2061" r="8.9"/>
<circle cx="736" cy="2064.8" r="8.9"/>
<circle cx="725" cy="2061.1" r="8.9"/>
<circle cx="719" cy="2056.9" r="8.9"/>
<circle cx="724.5" cy="2066.2" r="8.9"/>
<circle cx="716.3" cy="2070.2" r="8.9"/>
<circle cx="719.5" cy="2062.6" r="8.9"/>
<circle cx="697.6" cy="2062.3" r="8.9"/>
<circle cx="698.3" cy="2063.3" r="8.9"/>
<circle cx="538" cy="2036.3" r="8.9"/>
<circle cx="541.8" cy="2059" r="8.9"/>
<circle cx="505" cy="2043.8" r="8.9"/>
<circle cx="524.1" cy="2038.8" r="8.9"/>
<circle cx="551.7" cy="2042.8" r="8.9"/>
<circle cx="532.4" cy="2044.4" r="8.9"/>
<circle cx="506.9" cy="2046.9" r="8.9"/>
<circle cx="525.5" cy="2041.3" r="8.9"/>
<circle cx="508.6" cy="2050.4" r="8.9"/>
<circle cx="555.6" cy="2039.5" r="8.9"/>
<circle cx="539.9" cy="2052.2" r="8.9"/>
<circle cx="549.1" cy="2058" r="8.9"/>
<circle cx="1059.7" cy="1816.8" r="8.9"/>
<circle cx="1055.9" cy="1866.5" r="8.9"/>
<circle cx="1082.7" cy="1866.5" r="8.9"/>
<circle cx="1090.4" cy="1881.8" r="8.9"/>
<circle cx="1105.7" cy="1881.8" r="8.9"/>
<circle cx="1078.9" cy="1901" r="8.9"/>
<circle cx="1098" cy="1912.5" r="8.9"/>
<circle cx="1105.7" cy="1923.9" r="8.9"/>
<circle cx="1044.4" cy="1809.1" r="8.9"/>
<circle cx="1029.1" cy="1770.9" r="8.9"/>
<circle cx="1044.4" cy="1770.9" r="8.9"/>
<circle cx="1036.8" cy="1755.5" r="8.9"/>
<circle cx="990.9" cy="1778.5" r="8.9"/>
<circle cx="1053.1" cy="1942.1" r="8.9"/>
<circle cx="1083.7" cy="1942.1" r="8.9"/>
<circle cx="1068.4" cy="1957.4" r="8.9"/>
<circle cx="1106.7" cy="1936.4" r="8.9"/>
<circle cx="1114.3" cy="1949.8" r="8.9"/>
<circle cx="945.9" cy="1957.4" r="8.9"/>
<circle cx="1007.2" cy="1965.1" r="8.9"/>
<circle cx="1007.2" cy="1978.5" r="8.9"/>
<circle cx="991.8" cy="1972.7" r="8.9"/>
<circle cx="1045.4" cy="1972.7" r="8.9"/>
<circle cx="1053.1" cy="1972.7" r="8.9"/>
<circle cx="1129.6" cy="1965.1" r="8.9"/>
<circle cx="1137.3" cy="1972.7" r="8.9"/>
<circle cx="1083.7" cy="2014.8" r="8.9"/>
<circle cx="1091.9" cy="1985.5" r="8.9"/>
<circle cx="1096.2" cy="1981.8" r="8.9"/>
<circle cx="1119.5" cy="1969.8" r="8.9"/>
<circle cx="1087.2" cy="2002.1" r="8.9"/>
<circle cx="1100.3" cy="2009.8" r="8.9"/>
<circle cx="1073.6" cy="1980.4" r="8.9"/>
<circle cx="1074.9" cy="1968.3" r="8.9"/>
<circle cx="1055.6" cy="1988.8" r="8.9"/>
<circle cx="1074.3" cy="1992.3" r="8.9"/>
<circle cx="1114.8" cy="1979" r="8.9"/>
<circle cx="1081.6" cy="2009.4" r="8.9"/>
<circle cx="1068.9" cy="2005.4" r="8.9"/>
<circle cx="1069.9" cy="1985.2" r="8.9"/>
<circle cx="1096.2" cy="2012.6" r="8.9"/>
<circle cx="1110.8" cy="2006.2" r="8.9"/>
<circle cx="1078.7" cy="1979.9" r="8.9"/>
<circle cx="1122.5" cy="1992.6" r="8.9"/>
<circle cx="1109.8" cy="1966.5" r="8.9"/>
<circle cx="1054.5" cy="1984.1" r="8.9"/>
<circle cx="1075.1" cy="1975.5" r="8.9"/>
<circle cx="1068.1" cy="1966.6" r="8.9"/>
<circle cx="1065.2" cy="1971.1" r="8.9"/>
<circle cx="1110.2" cy="1981.7" r="8.9"/>
<circle cx="1094.3" cy="1968.4" r="8.9"/>
<circle cx="1120.7" cy="1981.7" r="8.9"/>
<circle cx="1154.3" cy="2071.9" r="8.9"/>
<circle cx="1168.1" cy="2086.6" r="8.9"/>
<circle cx="1179.8" cy="2081.1" r="8.9"/>
<circle cx="1174.8" cy="2061.7" r="8.9"/>
<circle cx="1183.7" cy="2070.2" r="8.9"/>
<circle cx="1171.1" cy="2060" r="8.9"/>
<circle cx="1160.5" cy="2082.7" r="8.9"/>
<circle cx="1161.2" cy="2067.6" r="8.9"/>
<circle cx="1213.6" cy="2132.9" r="8.9"/>
<circle cx="1194.9" cy="2118.2" r="8.9"/>
<circle cx="1193.1" cy="2126.6" r="8.9"/>
<circle cx="1199.5" cy="2116.1" r="8.9"/>
<circle cx="1197.9" cy="2115.9" r="8.9"/>
<circle cx="1228.1" cy="2121.2" r="8.9"/>
<circle cx="1219.6" cy="2134.2" r="8.9"/>
<circle cx="1201.4" cy="2120.3" r="8.9"/>
<circle cx="1198.5" cy="2130.6" r="8.9"/>
<circle cx="1206.9" cy="2124.2" r="8.9"/>
<circle cx="1256.8" cy="2168.4" r="8.9"/>
<circle cx="1228.2" cy="2152.5" r="8.9"/>
<circle cx="1247.2" cy="2161.7" r="8.9"/>
<circle cx="1250.3" cy="2154.3" r="8.9"/>
<circle cx="1258.2" cy="2143.4" r="8.9"/>
<circle cx="1242.7" cy="2167.5" r="8.9"/>
<circle cx="1256.5" cy="2156.5" r="8.9"/>
<circle cx="1225.6" cy="2152.6" r="8.9"/>
<circle cx="1254.5" cy="2154" r="8.9"/>
<circle cx="1240.3" cy="2144.6" r="8.9"/>
<circle cx="1256.8" cy="2154.3" r="8.9"/>
<circle cx="1242.6" cy="2134.6" r="8.9"/>
<circle cx="1047.7" cy="2128.4" r="8.9"/>
<circle cx="1047.5" cy="2124.9" r="8.9"/>
<circle cx="1065.2" cy="2135.2" r="8.9"/>
<circle cx="1059.4" cy="2130" r="8.9"/>
<circle cx="1058" cy="2133.7" r="8.9"/>
<circle cx="1048.5" cy="2130" r="8.9"/>
<circle cx="703" cy="2117.1" r="8.9"/>
<circle cx="708.4" cy="2132.2" r="8.9"/>
<circle cx="716.2" cy="2121.2" r="8.9"/>
<circle cx="695.6" cy="2127.5" r="8.9"/>
<circle cx="685.3" cy="2157" r="8.9"/>
<circle cx="660.1" cy="2146.6" r="8.9"/>
<circle cx="710.6" cy="2113.4" r="8.9"/>
<circle cx="731.4" cy="2131.4" r="8.9"/>
<circle cx="690.2" cy="2124.1" r="8.9"/>
<circle cx="691.4" cy="2156.8" r="8.9"/>
<circle cx="672.3" cy="2145.5" r="8.9"/>
<circle cx="712.3" cy="2152.3" r="8.9"/>
<circle cx="703.7" cy="2130.6" r="8.9"/>
<circle cx="671.4" cy="2128.2" r="8.9"/>
<circle cx="674.6" cy="2153.2" r="8.9"/>
<circle cx="716.3" cy="2119.7" r="8.9"/>
<circle cx="676.1" cy="2118.2" r="8.9"/>
<circle cx="680.3" cy="2140.6" r="8.9"/>
<circle cx="716.5" cy="2135.1" r="8.9"/>
<circle cx="715.5" cy="2147.4" r="8.9"/>
<circle cx="695.8" cy="2137.1" r="8.9"/>
<circle cx="721.7" cy="2142.7" r="8.9"/>
<circle cx="671.7" cy="2153.8" r="8.9"/>
<circle cx="701.5" cy="2131.2" r="8.9"/>
<circle cx="672.7" cy="2140.1" r="8.9"/>
<circle cx="778.2" cy="2239.8" r="8.9"/>
<circle cx="784.5" cy="2240.7" r="8.9"/>
<circle cx="789.8" cy="2249.1" r="8.9"/>
<circle cx="785.1" cy="2236.2" r="8.9"/>
<circle cx="785.2" cy="2242.3" r="8.9"/>
<circle cx="788.3" cy="2242.4" r="8.9"/>
<circle cx="766.5" cy="2240.4" r="8.9"/>
<circle cx="786.7" cy="2224.1" r="8.9"/>
<circle cx="777.8" cy="2246.6" r="8.9"/>
<circle cx="794.7" cy="2245.4" r="8.9"/>
<circle cx="890.1" cy="2030.4" r="8.9"/>
<circle cx="879.5" cy="2025" r="8.9"/>
<circle cx="865.7" cy="2025.1" r="8.9"/>
<circle cx="867.5" cy="2016.1" r="8.9"/>
<circle cx="879.1" cy="2016" r="8.9"/>
<circle cx="881.2" cy="2025.6" r="8.9"/>
</g>
<g fill="#2a93fb" fill-opacity="0.58">
<path d="M246.7 1752.5L259.1 1774L234.3 1774Z"/>
<path d="M262 1752.5L274.4 1774L249.6 1774Z"/>
<path d="M262 1759.4L274.4 1780.9L249.6 1780.9Z"/>
<path d="M276 1763.2L288.4 1784.7L263.6 1784.7Z"/>
<path d="M265.8 1774.7L278.2 1796.2L253.4 1796.2Z"/>
<path d="M276 1774.7L288.4 1796.2L263.6 1796.2Z"/>
<path d="M263.3 1781.1L275.7 1802.6L250.9 1802.6Z"/>
<path d="M308.4 1774.7L320.8 1796.2L296 1796.2Z"/>
<path d="M346.7 1774.7L359.1 1796.2L334.3 1796.2Z"/>
<path d="M285.5 1789.3L297.9 1810.7L273.1 1810.7Z"/>
<path d="M254.3 1796.4L266.7 1817.9L241.9 1817.9Z"/>
<path d="M254.3 1804.1L266.7 1825.5L241.9 1825.5Z"/>
<path d="M316.1 1796.4L328.5 1817.9L303.7 1817.9Z"/>
<path d="M316.1 1804.1L328.5 1825.5L303.7 1825.5Z"/>
<path d="M346.7 1804.1L359.1 1825.5L334.3 1825.5Z"/>
<path d="M285.5 1818.6L297.9 1840.1L273.1 1840.1Z"/>
<path d="M323.7 1818.6L336.1 1840.1L311.3 1840.1Z"/>
<path d="M231.4 1833.4L243.8 1854.9L219 1854.9Z"/>
<path d="M246.7 1855.6L259.1 1877.1L234.3 1877.1Z"/>
<path d="M293.1 1862.7L305.5 1884.2L280.7 1884.2Z"/>
<path d="M354.3 1855.6L366.7 1877.1L341.9 1877.1Z"/>
<path d="M239 1921.4L251.4 1942.9L226.6 1942.9Z"/>
</g>
<g fill="#2a93fb" fill-opacity="0.58">
<path d="M233.1 1939.8L254.6 1927.4L254.6 1952.2Z"/>
<path d="M240.7 1950L262.2 1937.6L262.2 1962.4Z"/>
<path d="M225.6 1979.6L247.1 1967.2L247.1 1992Z"/>
<path d="M195.4 2030.6L216.9 2018.2L216.9 2043Z"/>
</g>
<g fill="#2a93fb" fill-opacity="0.58">
<path d="M237.7 1972.4L216.2 1960L216.2 1984.8Z"/>
<path d="M245.4 2001.4L224 1989L224 2013.8Z"/>
<path d="M237.7 2009.2L216.2 1996.8L216.2 2021.6Z"/>
<path d="M253.6 2016.3L232.1 2003.9L232.1 2028.7Z"/>
<path d="M276.5 2016.3L255 2003.9L255 2028.7Z"/>
<path d="M214.8 2023.5L193.3 2011.1L193.3 2035.9Z"/>
<path d="M207.1 2038.8L185.6 2026.4L185.6 2051.2Z"/>
<path d="M230.1 2030.6L208.6 2018.2L208.6 2043Z"/>
<path d="M191.4 2053.1L169.9 2040.7L169.9 2065.5Z"/>
<path d="M214.8 2053.1L193.3 2040.7L193.3 2065.5Z"/>
<path d="M222.6 2053.1L201.1 2040.7L201.1 2065.5Z"/>
<path d="M245.4 2053.1L224 2040.7L224 2065.5Z"/>
<path d="M261.1 2045.9L239.7 2033.5L239.7 2058.3Z"/>
<path d="M238.3 2045.9L216.8 2033.5L216.8 2058.3Z"/>
</g>
<g fill="#2a93fb" fill-opacity="0.58">
<path d="M139.2 2067.3L151.6 2045.8L126.8 2045.8Z"/>
<path d="M162.2 2074.6L174.6 2053.1L149.8 2053.1Z"/>
<path d="M146.9 2096.5L159.3 2075L134.5 2075Z"/>
<path d="M200.6 2103.8L213 2082.3L188.2 2082.3Z"/>
<path d="M123.9 2118.7L136.3 2097.2L111.5 2097.2Z"/>
<path d="M154.5 2118.7L166.9 2097.2L142.1 2097.2Z"/>
</g>
<g fill="#2a93fb" fill-opacity="0.58">
<path d="M162.5 2273.9L176.9 2288.3L162.5 2302.7L148.1 2288.3Z"/>
<path d="M193.1 2266.5L207.5 2280.9L193.1 2295.3L178.7 2280.9Z"/>
<path d="M208.4 2288.7L222.8 2303.1L208.4 2317.5L194 2303.1Z"/>
<path d="M216.1 2318L230.5 2332.4L216.1 2346.8L201.7 2332.4Z"/>
<path d="M246.7 2303.2L261.1 2317.6L246.7 2332L232.3 2317.6Z"/>
<path d="M316.1 2288.7L330.5 2303.1L316.1 2317.5L301.7 2303.1Z"/>
<path d="M415.8 2237.1L430.2 2251.5L415.8 2265.9L401.4 2251.5Z"/>
<path d="M185.5 2486.6L199.9 2501L185.5 2515.4L171.1 2501Z"/>
</g>
<g fill="#3a3a3a" fill-opacity="0.72">
<path d="M569.5 1399.7L581.9 1421.1L557.1 1421.1Z"/>
</g>
<g fill="#c77df5" fill-opacity="0.65">
<path d="M408.1 1531.7L422.5 1546.1L408.1 1560.5L393.7 1546.1Z"/>
<path d="M431.5 1531.7L445.9 1546.1L431.5 1560.5L417.1 1546.1Z"/>
</g>
<g fill="#3a3a3a" fill-opacity="0.72">
<path d="M574.3 1607.1L577.4 1616.7L587.6 1616.7L579.4 1622.7L582.5 1632.4L574.3 1626.4L566.1 1632.4L569.2 1622.7L561 1616.7L571.1 1616.7Z"/>
</g>
<g fill="#3a3a3a" fill-opacity="0.72">
<path d="M548.4 1667.4L562.8 1681.8L548.4 1696.2L534 1681.8Z"/>
</g>
<g fill="#ee3b4b" fill-opacity="0.8">
<path d="M876.9 1760.3L889.3 1781.8L864.5 1781.8Z"/>
<path d="M969.8 1792.3L982.2 1813.8L957.4 1813.8Z"/>
<path d="M923.9 1811.7L936.3 1833.2L911.5 1833.2Z"/>
<path d="M915.7 1818.9L928.1 1840.3L903.3 1840.3Z"/>
<path d="M969.4 1855.6L981.8 1877.1L957 1877.1Z"/>
</g>
<g fill="#52c79a" fill-opacity="0.7">
<circle cx="1053.9" cy="1435.9" r="14"/>
<circle cx="1076.9" cy="1428.8" r="14"/>
</g>
<g fill="#52c79a" fill-opacity="0.65">
<path d="M1284.5 1428L1296.9 1406.6L1272.1 1406.6Z"/>
<path d="M1238.4 1457.4L1250.8 1435.9L1226 1435.9Z"/>
<path d="M1230.5 1472.2L1242.9 1450.7L1218.1 1450.7Z"/>
<path d="M1269.2 1472.2L1281.6 1450.7L1256.8 1450.7Z"/>
<path d="M1246 1486.7L1258.4 1465.2L1233.6 1465.2Z"/>
<path d="M1307.5 1494.1L1319.9 1472.6L1295.1 1472.6Z"/>
<path d="M1207.5 1516L1219.9 1494.6L1195.1 1494.6Z"/>
<path d="M1222.8 1523.4L1235.2 1502L1210.4 1502Z"/>
<path d="M1307.5 1567.6L1319.9 1546.1L1295.1 1546.1Z"/>
<path d="M1330.5 1567.6L1342.9 1546.1L1318.1 1546.1Z"/>
<path d="M1284.5 1582.4L1296.9 1560.9L1272.1 1560.9Z"/>
</g>
<g fill="#52c79a" fill-opacity="0.65">
<path d="M1230.7 1627.4L1245.1 1641.8L1230.7 1656.2L1216.3 1641.8Z"/>
</g>
<g fill="#3f7f73" fill-opacity="0.78">
<path d="M1215.2 1708.3L1227.6 1729.8L1202.8 1729.8Z"/>
<path d="M1153.7 1811.1L1166.1 1832.6L1141.3 1832.6Z"/>
<path d="M1199.8 1811.1L1212.2 1832.6L1187.4 1832.6Z"/>
</g>
<g fill="#52c79a" fill-opacity="0.65">
<path d="M1175.6 1759.1L1154.2 1746.7L1154.2 1771.5Z"/>
<path d="M1229.2 1832.6L1207.7 1820.2L1207.7 1845Z"/>
<path d="M1175.6 1854.5L1154.2 1842.1L1154.2 1866.9Z"/>
<path d="M1190.7 1884.1L1169.2 1871.7L1169.2 1896.5Z"/>
<path d="M1244.5 1906.1L1223 1893.7L1223 1918.5Z"/>
</g>
<g fill="#8a6d45" fill-opacity="0.8">
<path d="M1129.5 1810.4L1108 1798L1108 1822.8Z"/>
<path d="M1114.2 1883.9L1092.7 1871.5L1092.7 1896.3Z"/>
</g>
<g fill="#ee3b4b" fill-opacity="0.8">
<path d="M1086 1744.3L1107.5 1731.9L1107.5 1756.7Z"/>
<path d="M1086 1898.7L1107.5 1886.3L1107.5 1911.1Z"/>
</g>
<g fill="#d46e1c" fill-opacity="0.66">
<path d="M1207.5 1928.6L1210.6 1938.2L1220.8 1938.2L1212.6 1944.2L1215.7 1953.9L1207.5 1947.9L1199.3 1953.9L1202.4 1944.2L1194.2 1938.2L1204.4 1938.2Z"/>
</g>
<g fill="#d46e1c" fill-opacity="0.66">
<path d="M1046.1 1987.3L1060.5 2001.7L1046.1 2016.1L1031.7 2001.7Z"/>
</g>
<g fill="#d46e1c" fill-opacity="0.66">
<path d="M1092 2105.2L1104.4 2126.7L1079.6 2126.7Z"/>
<path d="M1084.3 2149.1L1096.7 2170.6L1071.9 2170.6Z"/>
<path d="M1076.7 2171.3L1089.1 2192.8L1064.3 2192.8Z"/>
<path d="M1099.6 2171.3L1112 2192.8L1087.2 2192.8Z"/>
<path d="M1084.3 2223.1L1096.7 2244.6L1071.9 2244.6Z"/>
</g>
<g fill="#d46e1c" fill-opacity="0.66">
<path d="M938.7 2177.2L951.1 2155.7L926.3 2155.7Z"/>
<path d="M1069 2170.1L1081.4 2148.6L1056.6 2148.6Z"/>
<path d="M969.3 2214.2L981.7 2192.7L956.9 2192.7Z"/>
<path d="M984.6 2236.1L997 2214.7L972.2 2214.7Z"/>
<path d="M946.3 2250.9L958.7 2229.5L933.9 2229.5Z"/>
<path d="M1007.6 2258.1L1020 2236.6L995.2 2236.6Z"/>
<path d="M1007.6 2272.9L1020 2251.4L995.2 2251.4Z"/>
<path d="M1138.2 2250.9L1150.6 2229.5L1125.8 2229.5Z"/>
<path d="M961.6 2258.6L974 2237.1L949.2 2237.1Z"/>
<path d="M976.9 2272.9L989.3 2251.4L964.5 2251.4Z"/>
<path d="M961.6 2265.7L974 2244.3L949.2 2244.3Z"/>
<path d="M954 2272.9L966.4 2251.4L941.6 2251.4Z"/>
<path d="M938.7 2280.3L951.1 2258.8L926.3 2258.8Z"/>
<path d="M946.3 2280.3L958.7 2258.8L933.9 2258.8Z"/>
<path d="M954 2287.4L966.4 2265.9L941.6 2265.9Z"/>
<path d="M1061.4 2295.6L1073.8 2274.1L1049 2274.1Z"/>
<path d="M1099.6 2287.4L1112 2265.9L1087.2 2265.9Z"/>
</g>
<g fill="#d46e1c" fill-opacity="0.66">
<path d="M899.9 2185.4L903 2195.1L913.2 2195.1L905 2201L908.1 2210.7L899.9 2204.7L891.7 2210.7L894.8 2201L886.6 2195.1L896.8 2195.1Z"/>
<path d="M854 2200.7L857.1 2210.4L867.3 2210.4L859.1 2216.3L862.2 2226L854 2220L845.8 2226L848.9 2216.3L840.7 2210.4L850.8 2210.4Z"/>
<path d="M869.3 2200.7L872.4 2210.4L882.6 2210.4L874.4 2216.3L877.5 2226L869.3 2220L861.1 2226L864.2 2216.3L856 2210.4L866.1 2210.4Z"/>
<path d="M854 2208.3L857.1 2218L867.3 2218L859.1 2224L862.2 2233.7L854 2227.7L845.8 2233.7L848.9 2224L840.7 2218L850.8 2218Z"/>
<path d="M869.3 2215.5L872.4 2225.2L882.6 2225.2L874.4 2231.1L877.5 2240.8L869.3 2234.8L861.1 2240.8L864.2 2231.1L856 2225.2L866.1 2225.2Z"/>
<path d="M861.6 2208.3L864.8 2218L874.9 2218L866.7 2224L869.9 2233.7L861.6 2227.7L853.4 2233.7L856.5 2224L848.3 2218L858.5 2218Z"/>
<path d="M1153.5 2149.2L1156.6 2158.8L1166.8 2158.8L1158.6 2164.8L1161.7 2174.5L1153.5 2168.5L1145.2 2174.5L1148.4 2164.8L1140.2 2158.8L1150.3 2158.8Z"/>
<path d="M1123.1 2178.5L1126.3 2188.2L1136.4 2188.2L1128.2 2194.2L1131.3 2203.8L1123.1 2197.8L1114.9 2203.8L1118 2194.2L1109.8 2188.2L1120 2188.2Z"/>
<path d="M1168.8 2091L1171.9 2100.7L1182.1 2100.7L1173.9 2106.7L1177 2116.3L1168.8 2110.3L1160.5 2116.3L1163.7 2106.7L1155.5 2100.7L1165.6 2100.7Z"/>
<path d="M1161.1 2105.8L1164.3 2115.5L1174.4 2115.5L1166.2 2121.4L1169.4 2131.1L1161.1 2125.1L1152.9 2131.1L1156 2121.4L1147.8 2115.5L1158 2115.5Z"/>
<path d="M1172.9 2105.8L1176 2115.5L1186.2 2115.5L1177.9 2121.4L1181.1 2131.1L1172.9 2125.1L1164.6 2131.1L1167.8 2121.4L1159.5 2115.5L1169.7 2115.5Z"/>
<path d="M1178 2129.3L1181.1 2138.9L1191.3 2138.9L1183 2144.9L1186.2 2154.6L1178 2148.6L1169.7 2154.6L1172.9 2144.9L1164.6 2138.9L1174.8 2138.9Z"/>
</g>
<g fill="#d46e1c" fill-opacity="0.66">
<path d="M946.3 2291.6L958.7 2270.1L933.9 2270.1Z"/>
<path d="M961.6 2291.6L974 2270.1L949.2 2270.1Z"/>
<path d="M938.7 2302.3L951.1 2280.8L926.3 2280.8Z"/>
<path d="M961.6 2309.9L974 2288.4L949.2 2288.4Z"/>
<path d="M992.5 2324.5L1004.9 2303L980.1 2303Z"/>
<path d="M1115.2 2309.7L1127.6 2288.2L1102.8 2288.2Z"/>
<path d="M1061.4 2324.5L1073.8 2303L1049 2303Z"/>
<path d="M1076.7 2324.5L1089.1 2303L1064.3 2303Z"/>
<path d="M1107.6 2346.7L1120 2325.2L1095.2 2325.2Z"/>
<path d="M1122.9 2361.2L1135.3 2339.7L1110.5 2339.7Z"/>
<path d="M1145.8 2361.2L1158.2 2339.7L1133.4 2339.7Z"/>
<path d="M1161.1 2383.4L1173.5 2361.9L1148.7 2361.9Z"/>
</g>
<g fill="#d46e1c" fill-opacity="0.66">
<circle cx="831" cy="2295.6" r="14"/>
</g>
<g fill="#d46e1c" fill-opacity="0.66">
<path d="M1207.5 2001.7L1210.6 2011.4L1220.8 2011.4L1212.6 2017.4L1215.7 2027L1207.5 2021.1L1199.3 2027L1202.4 2017.4L1194.2 2011.4L1204.4 2011.4Z"/>
<path d="M1184.3 2075.2L1187.4 2084.9L1197.6 2084.9L1189.4 2090.8L1192.5 2100.5L1184.3 2094.5L1176.1 2100.5L1179.2 2090.8L1171 2084.9L1181.1 2084.9Z"/>
<path d="M1207.5 2089.7L1210.6 2099.4L1220.8 2099.4L1212.6 2105.4L1215.7 2115.1L1207.5 2109.1L1199.3 2115.1L1202.4 2105.4L1194.2 2099.4L1204.4 2099.4Z"/>
<path d="M1199.8 2134.4L1203 2144L1213.2 2144L1204.9 2150L1208.1 2159.7L1199.8 2153.7L1191.6 2159.7L1194.8 2150L1186.5 2144L1196.7 2144Z"/>
<path d="M1292.2 2179L1295.3 2188.7L1305.5 2188.7L1297.3 2194.7L1300.4 2204.3L1292.2 2198.4L1284 2204.3L1287.1 2194.7L1278.9 2188.7L1289.1 2188.7Z"/>
</g>
<g fill="#d46e1c" fill-opacity="0.66">
<path d="M1178.1 2280.9L1199.6 2268.5L1199.6 2293.3Z"/>
<path d="M1216.4 2280.9L1237.9 2268.5L1237.9 2293.3Z"/>
<path d="M1185.8 2302.9L1207.3 2290.5L1207.3 2315.3Z"/>
<path d="M1208.8 2310.3L1230.2 2297.9L1230.2 2322.7Z"/>
<path d="M1170.5 2317.9L1192 2305.5L1192 2330.3Z"/>
</g>
<g fill="#d46e1c" fill-opacity="0.66">
<path d="M1290.7 2347L1269.2 2334.6L1269.2 2359.4Z"/>
<path d="M1344.5 2398.5L1323 2386.1L1323 2410.9Z"/>
<path d="M1321.6 2457.4L1300.1 2445L1300.1 2469.8Z"/>
</g>
<g fill="#d46e1c" fill-opacity="0.66">
<path d="M1261.1 2303.4L1264.2 2313.1L1274.4 2313.1L1266.2 2319.1L1269.3 2328.7L1261.1 2322.7L1252.8 2328.7L1256 2319.1L1247.8 2313.1L1257.9 2313.1Z"/>
</g>
<g fill="#d46e1c" fill-opacity="0.66">
<path d="M945.9 2247.5L958.3 2226L933.5 2226Z"/>
<path d="M961.2 2255.2L973.6 2233.7L948.8 2233.7Z"/>
<path d="M953.6 2270.5L966 2249L941.2 2249Z"/>
<path d="M942.1 2278.1L954.5 2256.7L929.7 2256.7Z"/>
<path d="M957.4 2282L969.8 2260.5L945 2260.5Z"/>
<path d="M949.8 2289.6L962.2 2268.1L937.4 2268.1Z"/>
</g>
<g fill="#6ff7fb" fill-opacity="1">
<circle cx="523.4" cy="1509.4" r="14"/>
<circle cx="554.2" cy="1523.9" r="14"/>
</g>
<g fill="#97f78a" fill-opacity="1">
<circle cx="623.6" cy="1538.7" r="14"/>
<circle cx="661.9" cy="1546.1" r="14"/>
</g>
<g fill="#d0fb4a" fill-opacity="1">
<circle cx="684.8" cy="1575.5" r="14"/>
</g>
<g fill="#3322f3" fill-opacity="1">
<circle cx="515.4" cy="1671.1" r="14"/>
<circle cx="683.2" cy="1641.6" r="14"/>
<circle cx="583.2" cy="1699.6" r="14"/>
</g>
<g fill="#57b8f7" fill-opacity="1">
<circle cx="615.4" cy="1621.1" r="14"/>
<circle cx="577.9" cy="1681.8" r="14"/>
<circle cx="660.9" cy="1595.2" r="14"/>
</g>
<g fill="#4a7cf5" fill-opacity="1">
<circle cx="646.6" cy="1722.3" r="14"/>
<circle cx="620.7" cy="1669.3" r="14"/>
</g>
<g fill="#7cf4da" fill-opacity="1">
<circle cx="812.7" cy="1628.6" r="14"/>
</g>
<g fill="#6ff7fb" fill-opacity="1">
<circle cx="831" cy="1689.8" r="14"/>
</g>
<g fill="#9c1f14" fill-opacity="1">
<path d="M1032.3 1642.1L1060.3 1642.1L1060.3 1670.1L1032.3 1670.1Z"/>
<path d="M1016.6 1583.6L1044.6 1583.6L1044.6 1611.6L1016.6 1611.6Z"/>
</g>
<g fill="#ee4590" fill-opacity="1">
<path d="M993.8 1620.3L1021.8 1620.3L1021.8 1648.3L993.8 1648.3Z"/>
<path d="M1032.3 1612.5L1060.3 1612.5L1060.3 1640.5L1032.3 1640.5Z"/>
</g>
<g fill="#f07320" fill-opacity="1">
<path d="M1008.9 1643.1L1036.9 1643.1L1036.9 1671.1L1008.9 1671.1Z"/>
<path d="M947.6 1678.9L975.6 1678.9L975.6 1706.9L947.6 1706.9Z"/>
<path d="M1010.9 1665.6L1038.9 1665.6L1038.9 1693.6L1010.9 1693.6Z"/>
<path d="M986.4 1692.1L1014.4 1692.1L1014.4 1720.1L986.4 1720.1Z"/>
</g>
<g fill="#ebb12f" fill-opacity="1">
<path d="M1008.9 1635L1036.9 1635L1036.9 1663L1008.9 1663Z"/>
<path d="M986 1650.3L1014 1650.3L1014 1678.3L986 1678.3Z"/>
<path d="M986 1664.6L1014 1664.6L1014 1692.6L986 1692.6Z"/>
</g>
<g fill="#fb3116" fill-opacity="1">
<path d="M1034.4 1655.4L1062.4 1655.4L1062.4 1683.4L1034.4 1683.4Z"/>
<path d="M1070.1 1678.9L1098.1 1678.9L1098.1 1706.9L1070.1 1706.9Z"/>
</g>
<g fill="#cffb4a" fill-opacity="1">
<path d="M962.9 1693.1L990.9 1693.1L990.9 1721.1L962.9 1721.1Z"/>
</g>
<g fill="#d92c1a" fill-opacity="1">
<path d="M955.4 1767.2L983.4 1767.2L983.4 1795.2L955.4 1795.2Z"/>
<path d="M962.9 1877.8L990.9 1877.8L990.9 1905.8L962.9 1905.8Z"/>
</g>
<g fill="#f07320" fill-opacity="1">
<path d="M1001.3 1826.2L1029.3 1826.2L1029.3 1854.2L1001.3 1854.2Z"/>
</g>
<g fill="#cfe2ff" stroke="#000" stroke-width="1.45" stroke-linejoin="miter">
<path d="M285.5 1750.5L300.8 1761.6L294.9 1779.6L276 1779.6L270.1 1761.6Z"/>
</g>
<g fill="#5ff5fb" stroke="#000" stroke-width="1.45" stroke-linejoin="miter">
<path d="M515.2 1537.2L530.5 1548.3L524.7 1566.3L505.7 1566.3L499.9 1548.3Z"/>
<path d="M531 1522.9L546.3 1534L540.5 1552L521.6 1552L515.7 1534Z"/>
<path d="M561.6 1522.9L576.9 1534L571.1 1552L552.2 1552L546.3 1534Z"/>
</g>
<g fill="#1f1aa5" stroke="#000" stroke-width="1.45" stroke-linejoin="miter">
<path d="M585.4 1522.9L600.7 1534L594.8 1552L575.9 1552L570 1534Z"/>
<path d="M577.7 1537.2L593 1548.3L587.2 1566.3L568.2 1566.3L562.4 1548.3Z"/>
<path d="M546.3 1545.8L561.6 1557L555.8 1575L536.9 1575L531 1557Z"/>
<path d="M577.7 1552.5L593 1563.6L587.2 1581.6L568.2 1581.6L562.4 1563.6Z"/>
</g>
<g fill="#8af790" stroke="#000" stroke-width="1.45" stroke-linejoin="miter">
<path d="M586.6 1575.4L601.9 1586.6L596.1 1604.6L577.2 1604.6L571.3 1586.6Z"/>
<path d="M570.1 1583.1L585.4 1594.2L579.5 1612.2L560.6 1612.2L554.7 1594.2Z"/>
</g>
<g fill="#1f1aa5" stroke="#000" stroke-width="1.45" stroke-linejoin="miter">
<path d="M538.7 1568L554 1579.2L548.1 1597.2L529.2 1597.2L523.4 1579.2Z"/>
<path d="M570.1 1568L585.4 1579.2L579.5 1597.2L560.6 1597.2L554.7 1579.2Z"/>
</g>
<g fill="#8af790" stroke="#000" stroke-width="1.45" stroke-linejoin="miter">
<path d="M646.6 1552.2L661.9 1563.3L656 1581.3L637.1 1581.3L631.3 1563.3Z"/>
<path d="M623.6 1574.4L638.9 1585.5L633.1 1603.5L614.2 1603.5L608.3 1585.5Z"/>
</g>
<g fill="#ccfc44" stroke="#000" stroke-width="1.45" stroke-linejoin="miter">
<path d="M670.8 1575.4L686.1 1586.6L680.3 1604.6L661.4 1604.6L655.5 1586.6Z"/>
</g>
<g fill="#8af790" stroke="#000" stroke-width="1.45" stroke-linejoin="miter">
<path d="M654.2 1567.3L669.5 1578.4L663.7 1596.4L644.8 1596.4L638.9 1578.4Z"/>
</g>
<g fill="#ccfc44" stroke="#000" stroke-width="1.45" stroke-linejoin="miter">
<path d="M707.8 1559.6L723.1 1570.7L717.3 1588.7L698.3 1588.7L692.5 1570.7Z"/>
<path d="M732 1590.7L747.4 1601.9L741.5 1619.9L722.6 1619.9L716.7 1601.9Z"/>
<path d="M715.5 1574.4L730.8 1585.5L724.9 1603.5L706 1603.5L700.1 1585.5Z"/>
</g>
<g fill="#3322f5" stroke="#000" stroke-width="1.45" stroke-linejoin="miter">
<path d="M551.1 1595.2L566.4 1606.3L560.5 1624.3L541.6 1624.3L535.8 1606.3Z"/>
</g>
<g fill="#000000" stroke="#000" stroke-width="1.45" stroke-linejoin="miter">
<path d="M523.4 1610.7L538.7 1621.8L532.9 1639.8L513.9 1639.8L508.1 1621.8Z"/>
</g>
<g fill="#5e9ffa" stroke="#000" stroke-width="1.45" stroke-linejoin="miter">
<path d="M518.9 1617.5L534.2 1628.6L528.4 1646.6L509.5 1646.6L503.6 1628.6Z"/>
</g>
<g fill="#1f1aa5" stroke="#000" stroke-width="1.45" stroke-linejoin="miter">
<path d="M561.8 1606.8L577.1 1617.9L571.2 1635.9L552.3 1635.9L546.5 1617.9Z"/>
</g>
<g fill="#000000" stroke="#000" stroke-width="1.45" stroke-linejoin="miter">
<path d="M539.5 1611.8L554.8 1622.9L548.9 1640.9L530 1640.9L524.2 1622.9Z"/>
</g>
<g fill="#9be622" stroke="#000" stroke-width="1.45" stroke-linejoin="miter">
<path d="M623.4 1596.9L638.7 1608.1L632.9 1626.1L613.9 1626.1L608.1 1608.1Z"/>
</g>
<g fill="#ccfc44" stroke="#000" stroke-width="1.45" stroke-linejoin="miter">
<path d="M700.2 1611.6L715.5 1622.7L709.6 1640.7L690.7 1640.7L684.9 1622.7Z"/>
</g>
<g fill="#3f7cf5" stroke="#000" stroke-width="1.45" stroke-linejoin="miter">
<path d="M492.7 1626.4L508 1637.5L502.1 1655.5L483.2 1655.5L477.4 1637.5Z"/>
</g>
<g fill="#55baf8" stroke="#000" stroke-width="1.45" stroke-linejoin="miter">
<path d="M492.7 1648.7L508 1659.8L502.1 1677.8L483.2 1677.8L477.4 1659.8Z"/>
</g>
<g fill="#3f7cf5" stroke="#000" stroke-width="1.45" stroke-linejoin="miter">
<path d="M608.2 1619.3L623.5 1630.4L617.7 1648.4L598.8 1648.4L592.9 1630.4Z"/>
</g>
<g fill="#3322f5" stroke="#000" stroke-width="1.45" stroke-linejoin="miter">
<path d="M579.6 1631.8L595 1642.9L589.1 1660.9L570.2 1660.9L564.3 1642.9Z"/>
<path d="M569.8 1620.2L585.1 1631.3L579.3 1649.3L560.4 1649.3L554.5 1631.3Z"/>
</g>
<g fill="#55baf8" stroke="#000" stroke-width="1.45" stroke-linejoin="miter">
<path d="M560 1631.8L575.3 1642.9L569.5 1660.9L550.5 1660.9L544.7 1642.9Z"/>
</g>
<g fill="#3322f5" stroke="#000" stroke-width="1.45" stroke-linejoin="miter">
<path d="M560 1660.3L575.3 1671.5L569.5 1689.5L550.5 1689.5L544.7 1671.5Z"/>
</g>
<g fill="#3f7cf5" stroke="#000" stroke-width="1.45" stroke-linejoin="miter">
<path d="M552.9 1640.7L568.2 1651.8L562.3 1669.8L543.4 1669.8L537.5 1651.8Z"/>
</g>
<g fill="#55baf8" stroke="#000" stroke-width="1.45" stroke-linejoin="miter">
<path d="M540.4 1649.6L555.7 1660.7L549.8 1678.7L530.9 1678.7L525 1660.7Z"/>
</g>
<g fill="#3322f5" stroke="#000" stroke-width="1.45" stroke-linejoin="miter">
<path d="M531.4 1642.1L546.7 1653.2L540.9 1671.2L522 1671.2L516.1 1653.2Z"/>
</g>
<g fill="#3f7cf5" stroke="#000" stroke-width="1.45" stroke-linejoin="miter">
<path d="M617.1 1640.7L632.5 1651.8L626.6 1669.8L607.7 1669.8L601.8 1651.8Z"/>
<path d="M601.1 1641.6L616.4 1652.7L610.5 1670.7L591.6 1670.7L585.8 1652.7Z"/>
</g>
<g fill="#9be622" stroke="#000" stroke-width="1.45" stroke-linejoin="miter">
<path d="M572.5 1649.6L587.8 1660.7L582 1678.7L563 1678.7L557.2 1660.7Z"/>
</g>
<g fill="#55baf8" stroke="#000" stroke-width="1.45" stroke-linejoin="miter">
<path d="M585 1656.8L600.3 1667.9L594.5 1685.9L575.5 1685.9L569.7 1667.9Z"/>
</g>
<g fill="#3f7cf5" stroke="#000" stroke-width="1.45" stroke-linejoin="miter">
<path d="M640.4 1660.3L655.7 1671.5L649.8 1689.5L630.9 1689.5L625 1671.5Z"/>
</g>
<g fill="#3322f5" stroke="#000" stroke-width="1.45" stroke-linejoin="miter">
<path d="M654.3 1648.4L669.6 1659.5L663.7 1677.5L644.8 1677.5L639 1659.5Z"/>
</g>
<g fill="#3f7cf5" stroke="#000" stroke-width="1.45" stroke-linejoin="miter">
<path d="M620.7 1669.3L636 1680.4L630.2 1698.4L611.3 1698.4L605.4 1680.4Z"/>
</g>
<g fill="#c9d025" stroke="#000" stroke-width="1.45" stroke-linejoin="miter">
<path d="M631.1 1678.7L646.4 1689.8L640.5 1707.8L621.6 1707.8L615.8 1689.8Z"/>
</g>
<g fill="#3f7cf5" stroke="#000" stroke-width="1.45" stroke-linejoin="miter">
<path d="M531.4 1676.4L546.7 1687.5L540.9 1705.5L522 1705.5L516.1 1687.5Z"/>
</g>
<g fill="#55baf8" stroke="#000" stroke-width="1.45" stroke-linejoin="miter">
<path d="M518.9 1692.5L534.2 1703.6L528.4 1721.6L509.5 1721.6L503.6 1703.6Z"/>
<path d="M539.5 1706.8L554.8 1717.9L548.9 1735.9L530 1735.9L524.2 1717.9Z"/>
</g>
<g fill="#3322f5" stroke="#000" stroke-width="1.45" stroke-linejoin="miter">
<path d="M539.1 1692.5L554.4 1703.6L548.6 1721.6L529.6 1721.6L523.8 1703.6Z"/>
</g>
<g fill="#55baf8" stroke="#000" stroke-width="1.45" stroke-linejoin="miter">
<path d="M610 1692.5L625.3 1703.6L619.5 1721.6L600.5 1721.6L594.7 1703.6Z"/>
<path d="M593 1693.4L608.3 1704.5L602.5 1722.5L583.6 1722.5L577.7 1704.5Z"/>
<path d="M500.5 1729.1L515.8 1740.2L510 1758.2L491.1 1758.2L485.2 1740.2Z"/>
</g>
<g fill="#3f7cf5" stroke="#000" stroke-width="1.45" stroke-linejoin="miter">
<path d="M700.2 1626.4L715.5 1637.5L709.6 1655.5L690.7 1655.5L684.9 1637.5Z"/>
</g>
<g fill="#3fae73" stroke="#000" stroke-width="1.45" stroke-linejoin="miter">
<path d="M1084.5 1537.5L1100.5 1553.5L1084.5 1569.5L1068.5 1553.5Z"/>
</g>
<g fill="#f5f53a" stroke="#000" stroke-width="1.45" stroke-linejoin="miter">
<path d="M1053.9 1559.5L1069.9 1575.5L1053.9 1591.5L1037.9 1575.5Z"/>
<path d="M1015.7 1589.1L1031.7 1605.1L1015.7 1621.1L999.7 1605.1Z"/>
</g>
<g fill="#a5611f" stroke="#000" stroke-width="1.45" stroke-linejoin="miter">
<path d="M1069.4 1610.9L1085.4 1626.9L1069.4 1642.9L1053.4 1626.9Z"/>
</g>
<g fill="#f5f53a" stroke="#000" stroke-width="1.45" stroke-linejoin="miter">
<path d="M1053.9 1610.5L1069.9 1626.5L1053.9 1642.5L1037.9 1626.5Z"/>
<path d="M908 1618.3L924 1634.3L908 1650.3L892 1634.3Z"/>
</g>
<g fill="#ec3f96" stroke="#000" stroke-width="1.45" stroke-linejoin="miter">
<path d="M946.3 1581.6L962.3 1597.6L946.3 1613.6L930.3 1597.6Z"/>
<path d="M861.6 1654.4L877.6 1670.4L861.6 1686.4L845.6 1670.4Z"/>
</g>
<g fill="#4aafa0" stroke="#000" stroke-width="1.45" stroke-linejoin="miter">
<path d="M808 1596.2L824 1612.2L808 1628.2L792 1612.2Z"/>
</g>
<g fill="#bcbcbc" stroke="#000" stroke-width="1.45" stroke-linejoin="miter">
<path d="M799.8 1612.1L815.1 1623.2L809.3 1641.2L790.3 1641.2L784.5 1623.2Z"/>
</g>
<g fill="#a54882" stroke="#000" stroke-width="1.45" stroke-linejoin="miter">
<path d="M861.6 1640.1L877.6 1656.1L861.6 1672.1L845.6 1656.1Z"/>
</g>
<g fill="#6ff7d9" stroke="#000" stroke-width="1.45" stroke-linejoin="miter">
<path d="M831 1648.2L846.3 1659.3L840.5 1677.3L821.6 1677.3L815.7 1659.3Z"/>
<path d="M833.1 1675.7L848.4 1686.9L842.5 1704.9L823.6 1704.9L817.7 1686.9Z"/>
<path d="M820.8 1699.2L836.1 1710.3L830.3 1728.3L811.4 1728.3L805.5 1710.3Z"/>
</g>
<g fill="#ee6877" stroke="#000" stroke-width="1.45" stroke-linejoin="miter">
<path d="M823.3 1662.6L839.3 1678.6L823.3 1694.6L807.3 1678.6Z"/>
</g>
<g fill="#4aafa0" stroke="#000" stroke-width="1.45" stroke-linejoin="miter">
<path d="M861.6 1662.6L877.6 1678.6L861.6 1694.6L845.6 1678.6Z"/>
</g>
<g fill="#ee6877" stroke="#000" stroke-width="1.45" stroke-linejoin="miter">
<path d="M951.4 1669.7L967.4 1685.7L951.4 1701.7L935.4 1685.7Z"/>
<path d="M961.6 1669.7L977.6 1685.7L961.6 1701.7L945.6 1685.7Z"/>
<path d="M847.3 1679.9L863.3 1695.9L847.3 1711.9L831.3 1695.9Z"/>
<path d="M854.5 1684L870.5 1700L854.5 1716L838.5 1700Z"/>
<path d="M876.9 1692.2L892.9 1708.2L876.9 1724.2L860.9 1708.2Z"/>
<path d="M892.9 1676.9L908.9 1692.9L892.9 1708.9L876.9 1692.9Z"/>
<path d="M841.2 1708.5L857.2 1724.5L841.2 1740.5L825.2 1724.5Z"/>
<path d="M839.2 1698.3L855.2 1714.3L839.2 1730.3L823.2 1714.3Z"/>
</g>
<g fill="#d9301a" stroke="#000" stroke-width="1.45" stroke-linejoin="miter">
<path d="M976.9 1647.3L992.9 1663.3L976.9 1679.3L960.9 1663.3Z"/>
</g>
<g fill="#eba62c" stroke="#000" stroke-width="1.45" stroke-linejoin="miter">
<path d="M1039.2 1634L1055.2 1650L1039.2 1666L1023.2 1650Z"/>
<path d="M1022.9 1647.3L1038.9 1663.3L1022.9 1679.3L1006.9 1663.3Z"/>
</g>
<g fill="#a5611f" stroke="#000" stroke-width="1.45" stroke-linejoin="miter">
<path d="M1045.3 1676.9L1061.3 1692.9L1045.3 1708.9L1029.3 1692.9Z"/>
</g>
<g fill="#eba62c" stroke="#000" stroke-width="1.45" stroke-linejoin="miter">
<path d="M1069.8 1669.7L1085.8 1685.7L1069.8 1701.7L1053.8 1685.7Z"/>
</g>
<g fill="#d9301a" stroke="#000" stroke-width="1.45" stroke-linejoin="miter">
<path d="M992.2 1742.2L1008.2 1758.2L992.2 1774.2L976.2 1758.2Z"/>
<path d="M1030.6 1743.2L1046.6 1759.2L1030.6 1775.2L1014.6 1759.2Z"/>
<path d="M992.2 1727.9L1008.2 1743.9L992.2 1759.9L976.2 1743.9Z"/>
<path d="M992.2 1699.3L1008.2 1715.3L992.2 1731.3L976.2 1715.3Z"/>
</g>
<g fill="#f55f37" stroke="#000" stroke-width="1.45" stroke-linejoin="miter">
<path d="M1010.6 1718.7L1026.6 1734.7L1010.6 1750.7L994.6 1734.7Z"/>
<path d="M1019.8 1708.5L1035.8 1724.5L1019.8 1740.5L1003.8 1724.5Z"/>
</g>
<g fill="#eba62c" stroke="#000" stroke-width="1.45" stroke-linejoin="miter">
<path d="M1061.6 1698.3L1077.6 1714.3L1061.6 1730.3L1045.6 1714.3Z"/>
<path d="M1069.8 1713.6L1085.8 1729.6L1069.8 1745.6L1053.8 1729.6Z"/>
<path d="M1047.3 1727.9L1063.3 1743.9L1047.3 1759.9L1031.3 1743.9Z"/>
</g>
<g fill="#f4a8fb" stroke="#000" stroke-width="1.45" stroke-linejoin="miter">
<path d="M900.4 1700.3L916.4 1716.3L900.4 1732.3L884.4 1716.3Z"/>
<path d="M922.9 1710.5L938.9 1726.5L922.9 1742.5L906.9 1726.5Z"/>
<path d="M931 1713.6L947 1729.6L931 1745.6L915 1729.6Z"/>
<path d="M915.7 1742.2L931.7 1758.2L915.7 1774.2L899.7 1758.2Z"/>
<path d="M908 1728.5L924 1744.5L908 1760.5L892 1744.5Z"/>
</g>
<g fill="#a5611f" stroke="#000" stroke-width="1.45" stroke-linejoin="miter">
<path d="M1076.9 1838.7L1092.9 1854.7L1076.9 1870.7L1060.9 1854.7Z"/>
<path d="M1069.4 1875.4L1085.4 1891.4L1069.4 1907.4L1053.4 1891.4Z"/>
<path d="M1092.2 1905.4L1108.2 1921.4L1092.2 1937.4L1076.2 1921.4Z"/>
</g>
<g fill="#3fae73" stroke="#000" stroke-width="1.45" stroke-linejoin="miter">
<path d="M1123.1 1559.5L1139.1 1575.5L1123.1 1591.5L1107.1 1575.5Z"/>
</g>
<g fill="#b0efc5" stroke="#000" stroke-width="1.45" stroke-linejoin="miter">
<path d="M561.9 1801.9L577.2 1813L571.4 1831L552.4 1831L546.6 1813Z"/>
</g>
</g>
<text x="20" y="31.5" font-size="48" font-weight="bold">a</text>
<text x="20" y="1386" font-size="48" font-weight="bold">b</text>
<g id="legend-new">
<text x="1514" y="16" font-size="21.4" font-weight="bold">New ancients</text>
<g fill="#cfe2ff" stroke="#000" stroke-width="1.2"><path d="M1528.6 41.6L1541 50.6L1536.2 65.1L1521 65.1L1516.2 50.6Z"/></g>
<text x="1548" y="59.5" font-size="19.2" font-weight="bold">Satanaj EHG</text>
<g fill="#a5611f" stroke="#000" stroke-width="1.2"><path d="M1528.6 71.7L1541.4 84.5L1528.6 97.3L1515.8 84.5Z"/></g>
<text x="1548" y="89.4" font-size="19.2" font-weight="bold">Georgia Neolithic</text>
<g fill="#8af790" stroke="#000" stroke-width="1.2"><path d="M1528.6 101.4L1541 110.4L1536.2 124.9L1521 124.9L1516.2 110.4Z"/></g>
<text x="1548" y="119.3" font-size="19.2" font-weight="bold">Steppe Eneolithic</text>
<g fill="#c9d025" stroke="#000" stroke-width="1.2"><path d="M1528.6 131.3L1541 140.3L1536.2 154.8L1521 154.8L1516.2 140.3Z"/></g>
<text x="1548" y="149.2" font-size="19.2" font-weight="bold">Steppe Eneolithic outlier west</text>
<g fill="#4aafa0" stroke="#000" stroke-width="1.2"><path d="M1528.6 161.4L1541.4 174.2L1528.6 187L1515.8 174.2Z"/></g>
<text x="1548" y="179.1" font-size="19.2" font-weight="bold">Eneolithic intermediate</text>
<g fill="#9be622" stroke="#000" stroke-width="1.2"><path d="M1528.6 191.1L1541 200.1L1536.2 214.6L1521 214.6L1516.2 200.1Z"/></g>
<text x="1548" y="209" font-size="19.2" font-weight="bold">Late Steppe Eneolithic</text>
<g fill="#6ff7d9" stroke="#000" stroke-width="1.2"><path d="M1528.6 221L1541 230L1536.2 244.5L1521 244.5L1516.2 230Z"/></g>
<text x="1548" y="238.9" font-size="19.2" font-weight="bold">Late Steppe Eneolithic outlier</text>
<g fill="#5ff5fb" stroke="#000" stroke-width="1.2"><path d="M1528.6 250.9L1541 259.9L1536.2 274.4L1521 274.4L1516.2 259.9Z"/></g>
<text x="1548" y="268.8" font-size="19.2" font-weight="bold">Steppe Maykop</text>
<g fill="#ccfc44" stroke="#000" stroke-width="1.2"><path d="M1528.6 280.8L1541 289.8L1536.2 304.3L1521 304.3L1516.2 289.8Z"/></g>
<text x="1548" y="298.7" font-size="19.2" font-weight="bold">Steppe Maykop outlier2</text>
<g fill="#d9301a" stroke="#000" stroke-width="1.2"><path d="M1528.6 310.9L1541.4 323.7L1528.6 336.5L1515.8 323.7Z"/></g>
<text x="1548" y="328.6" font-size="19.2" font-weight="bold">Maykop</text>
<g fill="#f55f37" stroke="#000" stroke-width="1.2"><path d="M1528.6 340.8L1541.4 353.6L1528.6 366.4L1515.8 353.6Z"/></g>
<text x="1548" y="358.5" font-size="19.2" font-weight="bold">Late Maykop</text>
<g fill="#55baf8" stroke="#000" stroke-width="1.2"><path d="M1528.6 370.5L1541 379.5L1536.2 394L1521 394L1516.2 379.5Z"/></g>
<text x="1548" y="388.4" font-size="19.2" font-weight="bold">Yamnaya North Caucasus</text>
<g fill="#3f7cf5" stroke="#000" stroke-width="1.2"><path d="M1528.6 400.4L1541 409.4L1536.2 423.9L1521 423.9L1516.2 409.4Z"/></g>
<text x="1548" y="418.3" font-size="19.2" font-weight="bold">North Caucasus</text>
<g fill="#3322f5" stroke="#000" stroke-width="1.2"><path d="M1528.6 430.3L1541 439.3L1536.2 453.8L1521 453.8L1516.2 439.3Z"/></g>
<text x="1548" y="448.2" font-size="19.2" font-weight="bold">Catacomb</text>
<g fill="#eba62c" stroke="#000" stroke-width="1.2"><path d="M1528.6 460.4L1541.4 473.2L1528.6 486L1515.8 473.2Z"/></g>
<text x="1548" y="478.1" font-size="19.2" font-weight="bold">Georgia Kura-Araxes</text>
<g fill="#3fae73" stroke="#000" stroke-width="1.2"><path d="M1528.6 490.3L1541.4 503.1L1528.6 515.9L1515.8 503.1Z"/></g>
<text x="1548" y="508" font-size="19.2" font-weight="bold">Iran BA</text>
<g fill="#2e23f7" stroke="#000" stroke-width="1.2"><path d="M1528.6 520L1541 529L1536.2 543.5L1521 543.5L1516.2 529Z"/></g>
<text x="1548" y="537.9" font-size="19.2" font-weight="bold">Post-Catacomb</text>
<g fill="#bcbcbc" stroke="#000" stroke-width="1.2"><path d="M1528.6 549.9L1541 558.9L1536.2 573.4L1521 573.4L1516.2 558.9Z"/></g>
<text x="1548" y="567.8" font-size="19.2" font-weight="bold">Arkhon</text>
<g fill="#1f1aa5" stroke="#000" stroke-width="1.2"><path d="M1528.6 579.8L1541 588.8L1536.2 603.3L1521 603.3L1516.2 588.8Z"/></g>
<text x="1548" y="597.7" font-size="19.2" font-weight="bold">Lola 1</text>
<g fill="#000000" stroke="#000" stroke-width="1.2"><path d="M1528.6 609.7L1541 618.7L1536.2 633.2L1521 633.2L1516.2 618.7Z"/></g>
<text x="1548" y="627.6" font-size="19.2" font-weight="bold">Lola 2</text>
<g fill="#b0efc5" stroke="#000" stroke-width="1.2"><path d="M1528.6 639.6L1541 648.6L1536.2 663.1L1521 663.1L1516.2 648.6Z"/></g>
<text x="1548" y="657.5" font-size="19.2" font-weight="bold">Srubnaya</text>
<g fill="#5e9ffa" stroke="#000" stroke-width="1.2"><path d="M1528.6 669.5L1541 678.5L1536.2 693L1521 693L1516.2 678.5Z"/></g>
<text x="1548" y="687.4" font-size="19.2" font-weight="bold">Steppe Prescythian</text>
<g fill="#a54882" stroke="#000" stroke-width="1.2"><path d="M1528.6 699.6L1541.4 712.4L1528.6 725.2L1515.8 712.4Z"/></g>
<text x="1548" y="717.3" font-size="19.2" font-weight="bold">Caucasus MBA</text>
<g fill="#f5f53a" stroke="#000" stroke-width="1.2"><path d="M1528.6 729.5L1541.4 742.3L1528.6 755.1L1515.8 742.3Z"/></g>
<text x="1548" y="747.2" font-size="19.2" font-weight="bold">Highland MBA east</text>
<g fill="#ec3f96" stroke="#000" stroke-width="1.2"><path d="M1528.6 759.4L1541.4 772.2L1528.6 785L1515.8 772.2Z"/></g>
<text x="1548" y="777.1" font-size="19.2" font-weight="bold">Highland LBA east</text>
<g fill="#ee6877" stroke="#000" stroke-width="1.2"><path d="M1528.6 789.3L1541.4 802.1L1528.6 814.9L1515.8 802.1Z"/></g>
<text x="1548" y="807" font-size="19.2" font-weight="bold">Highland LBA west</text>
<g fill="#f4a8fb" stroke="#000" stroke-width="1.2"><path d="M1528.6 819.2L1541.4 832L1528.6 844.8L1515.8 832Z"/></g>
<text x="1548" y="836.9" font-size="19.2" font-weight="bold">Caucasus LBA south</text>
</g><g id="legend-wang">
<text x="1529" y="878" font-size="19" font-weight="bold">Wang et. al. 2019</text>
<g fill="#9c1f14"><path d="M1519 897.8L1539 897.8L1539 917.8L1519 917.8Z"/></g>
<text x="1546.2" y="912.9" font-size="18.9">Caucasus Eneolithic</text>
<g fill="#97f78a"><circle cx="1529" cy="939.7" r="10"/></g>
<text x="1546.2" y="944.8" font-size="18.9">Steppe Eneolithic</text>
<g fill="#6ff7fb"><circle cx="1529" cy="971.6" r="10"/></g>
<text x="1546.2" y="976.7" font-size="18.9">Steppe Maykop</text>
<g fill="#7cf4da"><circle cx="1529" cy="1003.5" r="10"/></g>
<text x="1546.2" y="1008.6" font-size="18.9">Steppe Maykop outlier1</text>
<g fill="#d0fb4a"><circle cx="1529" cy="1035.4" r="10"/></g>
<text x="1546.2" y="1040.5" font-size="18.9">Steppe Maykop outlier2</text>
<g fill="#d92c1a"><path d="M1519 1057.3L1539 1057.3L1539 1077.3L1519 1077.3Z"/></g>
<text x="1546.2" y="1072.4" font-size="18.9">Maykop</text>
<g fill="#fb3116"><path d="M1519 1089.2L1539 1089.2L1539 1109.2L1519 1109.2Z"/></g>
<text x="1546.2" y="1104.3" font-size="18.9">Maykop Novosvobodnaya</text>
<g fill="#f07320"><path d="M1519 1121.1L1539 1121.1L1539 1141.1L1519 1141.1Z"/></g>
<text x="1546.2" y="1136.2" font-size="18.9">Late Maykop</text>
<g fill="#3322f3"><circle cx="1529" cy="1163" r="10"/></g>
<text x="1546.2" y="1168.1" font-size="18.9">Catacomb</text>
<g fill="#4a7cf5"><circle cx="1529" cy="1194.9" r="10"/></g>
<text x="1546.2" y="1200" font-size="18.9">North Caucasus</text>
<g fill="#57b8f7"><circle cx="1529" cy="1226.8" r="10"/></g>
<text x="1546.2" y="1231.9" font-size="18.9">Yamnaya North Caucasus</text>
<g fill="#ebb12f"><path d="M1519 1248.7L1539 1248.7L1539 1268.7L1519 1268.7Z"/></g>
<text x="1546.2" y="1263.8" font-size="18.9">Kura-Araxes</text>
<g fill="#2e22f5"><circle cx="1529" cy="1290.6" r="10"/></g>
<text x="1546.2" y="1295.7" font-size="18.9">Post-Catacomb</text>
<g fill="#ee4590"><path d="M1519 1312.5L1539 1312.5L1539 1332.5L1519 1332.5Z"/></g>
<text x="1546.2" y="1327.6" font-size="18.9">Highland LBA east</text>
<g fill="#cffb4a"><path d="M1519 1344.4L1539 1344.4L1539 1364.4L1519 1364.4Z"/></g>
<text x="1546.2" y="1359.5" font-size="18.9">Highland LBA west</text>
</g><g id="legend-pub">
<text x="1531" y="1455" font-size="21.5" font-weight="bold">Published ancients</text>
<g fill="#7a7a7a"><path d="M1530.2 1487.8L1540.9 1498.5L1530.2 1509.2L1519.5 1498.5Z"/></g>
<text x="1547.2" y="1505.7" font-size="21.55">Afontova Gora3</text>
<g fill="#7a7a7a"><path d="M1530.2 1523.1L1532.6 1530.4L1540.2 1530.4L1534 1534.8L1536.4 1542.1L1530.2 1537.6L1524 1542.1L1526.4 1534.8L1520.2 1530.4L1527.8 1530.4Z"/></g>
<text x="1547.2" y="1540.8" font-size="21.55">Mal&#39;ta1</text>
<g fill="#7a7a7a"><path d="M1530.2 1559.1L1539.6 1575.3L1520.8 1575.3Z"/></g>
<text x="1547.2" y="1575.9" font-size="21.55">Tutkaul1</text>
<g fill="#7bbcfb"><path d="M1530.2 1593.1L1540.9 1603.8L1530.2 1614.5L1519.5 1603.8Z"/></g>
<text x="1547.2" y="1611" font-size="21.55">WHG</text>
<g fill="#7bbcfb"><path d="M1541 1638.9L1524.8 1629.5L1524.8 1648.3Z"/></g>
<text x="1547.2" y="1646.1" font-size="21.55">Ukraine Neolithic</text>
<g fill="#7bbcfb"><path d="M1519.7 1674L1535.9 1664.6L1535.9 1683.4Z"/></g>
<text x="1547.2" y="1681.2" font-size="21.55">Ukraine Mesolithic</text>
<g fill="#7bbcfb"><path d="M1530.2 1719.5L1539.6 1703.3L1520.8 1703.3Z"/></g>
<text x="1547.2" y="1716.3" font-size="21.55">SHG</text>
<g fill="#7bbcfb"><path d="M1530.2 1734.6L1539.6 1750.8L1520.8 1750.8Z"/></g>
<text x="1547.2" y="1751.4" font-size="21.55">EHG</text>
<g fill="#d9a9f9"><path d="M1530.2 1768.6L1540.9 1779.3L1530.2 1790L1519.5 1779.3Z"/></g>
<text x="1547.2" y="1786.5" font-size="21.55">WSHG</text>
<g fill="#82d6b2"><circle cx="1530.2" cy="1814.4" r="10.7"/></g>
<text x="1547.2" y="1821.6" font-size="21.55">CHG</text>
<g fill="#a08a6c"><path d="M1541 1849.5L1524.8 1840.1L1524.8 1858.9Z"/></g>
<text x="1547.2" y="1856.7" font-size="21.55">Azerbaijan LN</text>
<g fill="#f0626e"><path d="M1519.7 1884.6L1535.9 1875.2L1535.9 1894Z"/></g>
<text x="1547.2" y="1891.8" font-size="21.55">Armenia Neolithic</text>
<g fill="#8ddcbc"><path d="M1530.2 1909L1540.9 1919.7L1530.2 1930.4L1519.5 1919.7Z"/></g>
<text x="1547.2" y="1926.9" font-size="21.55">Iran Mesolithic</text>
<g fill="#8ddcbc"><path d="M1530.2 1965.2L1539.6 1949L1520.8 1949Z"/></g>
<text x="1547.2" y="1962" font-size="21.55">Iran Neolithic</text>
<g fill="#8ddcbc"><path d="M1541 1989.9L1524.8 1980.5L1524.8 1999.3Z"/></g>
<text x="1547.2" y="1997.1" font-size="21.55">Iran HajjiFiruz C</text>
<g fill="#6a9a90"><path d="M1530.2 2015.4L1539.6 2031.6L1520.8 2031.6Z"/></g>
<text x="1547.2" y="2032.2" font-size="21.55">Mesopotamia PPN</text>
<g fill="#e0955a"><circle cx="1530.2" cy="2060.1" r="10.7"/></g>
<text x="1547.2" y="2067.3" font-size="21.55">Anatolia Epipaleolithic</text>
<g fill="#e0955a"><path d="M1530.2 2084.7L1532.6 2092L1540.2 2092L1534 2096.4L1536.4 2103.7L1530.2 2099.2L1524 2103.7L1526.4 2096.4L1520.2 2092L1527.8 2092Z"/></g>
<text x="1547.2" y="2102.4" font-size="21.55">Anatolia PPN</text>
<g fill="#e0955a"><path d="M1530.2 2140.7L1539.6 2124.5L1520.8 2124.5Z"/></g>
<text x="1547.2" y="2137.5" font-size="21.55">Anatolia Neolithic</text>
<g fill="#e0955a"><path d="M1530.2 2155.8L1539.6 2172L1520.8 2172Z"/></g>
<text x="1547.2" y="2172.6" font-size="21.55">TellKurdu EC</text>
<g fill="#e0955a"><path d="M1530.2 2189.8L1540.9 2200.5L1530.2 2211.2L1519.5 2200.5Z"/></g>
<text x="1547.2" y="2207.7" font-size="21.55">Buyukkaya EC</text>
<g fill="#e0955a"><path d="M1541 2235.6L1524.8 2226.2L1524.8 2245Z"/></g>
<text x="1547.2" y="2242.8" font-size="21.55">Israel Natufian</text>
<g fill="#e0955a"><path d="M1519.7 2270.7L1535.9 2261.3L1535.9 2280.1Z"/></g>
<text x="1547.2" y="2277.9" font-size="21.55">Levant PPN</text>
</g>
</svg></body></html>
